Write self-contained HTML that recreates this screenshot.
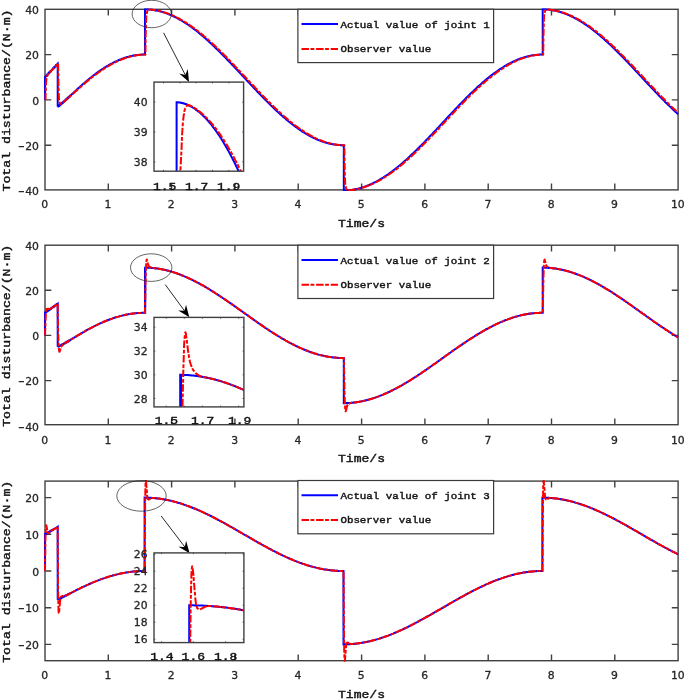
<!DOCTYPE html>
<html lang="en"><head><meta charset="utf-8"><title>Total disturbance</title>
<style>
html,body{margin:0;padding:0;background:#fff}
svg{display:block}
.tk{font-family:"DejaVu Sans","Liberation Sans",sans-serif;font-size:10.8px;fill:#262626;stroke:#262626;stroke-width:0.3px}
.mn{font-size:7.4px;stroke-width:0.6px}
.mono{font-family:"Liberation Mono",monospace;font-weight:normal;fill:#111;stroke:#111;stroke-width:0.45px}
.ax{stroke:#404040;stroke-width:1.4;fill:none}
.b{stroke:#0000ff;stroke-width:2;fill:none;stroke-linejoin:miter}
.r{stroke:#ff0000;stroke-width:2;fill:none;stroke-dasharray:7.5 1.5 3.8 1.8;stroke-linejoin:round}
</style></head><body>
<svg width="685" height="700" viewBox="0 0 685 700">
<rect width="685" height="700" fill="#fff"/>
<g id="s1">
<clipPath id="cs1"><rect x="43.5" y="8.3" width="636.1" height="182.6"/></clipPath>
<clipPath id="is1"><rect x="154.0" y="82.1" width="89.6" height="89.1"/></clipPath>
<rect class="ax" x="45.0" y="9.3" width="633.1" height="180.6"/>
<path class="ax" d="M108.3 189.9v-6.3M108.3 9.3v6.3M171.6 189.9v-6.3M171.6 9.3v6.3M234.9 189.9v-6.3M234.9 9.3v6.3M298.2 189.9v-6.3M298.2 9.3v6.3M361.6 189.9v-6.3M361.6 9.3v6.3M424.9 189.9v-6.3M424.9 9.3v6.3M488.2 189.9v-6.3M488.2 9.3v6.3M551.5 189.9v-6.3M551.5 9.3v6.3M614.8 189.9v-6.3M614.8 9.3v6.3M45.0 54.6h6.3M678.1 54.6h-6.3M45.0 99.9h6.3M678.1 99.9h-6.3M45.0 145.2h6.3M678.1 145.2h-6.3"/>
<text class="tk" x="44.7" y="208.2" text-anchor="middle">0</text>
<text class="tk" x="108.0" y="208.2" text-anchor="middle">1</text>
<text class="tk" x="171.3" y="208.2" text-anchor="middle">2</text>
<text class="tk" x="234.6" y="208.2" text-anchor="middle">3</text>
<text class="tk" x="297.9" y="208.2" text-anchor="middle">4</text>
<text class="tk" x="361.2" y="208.2" text-anchor="middle">5</text>
<text class="tk" x="424.6" y="208.2" text-anchor="middle">6</text>
<text class="tk" x="487.9" y="208.2" text-anchor="middle">7</text>
<text class="tk" x="551.2" y="208.2" text-anchor="middle">8</text>
<text class="tk" x="614.5" y="208.2" text-anchor="middle">9</text>
<text class="tk" x="677.8" y="208.2" text-anchor="middle">10</text>
<text class="tk" x="39.0" y="14.0" text-anchor="end">40</text>
<text class="tk" x="39.0" y="59.3" text-anchor="end">20</text>
<text class="tk" x="39.0" y="104.6" text-anchor="end">0</text>
<text class="tk" x="39.0" y="149.9" text-anchor="end"><tspan class="mn" dy="-1.0">−</tspan><tspan dy="1.0" dx="0.9">20</tspan></text>
<text class="tk" x="39.0" y="195.2" text-anchor="end"><tspan class="mn" dy="-1.0">−</tspan><tspan dy="1.0" dx="0.9">40</tspan></text>
<text class="mono" font-size="13.1" text-anchor="middle" transform="translate(361.5 226.9) scale(1 0.88)">Time/s</text>
<text class="mono" font-size="13.2" text-anchor="middle" transform="translate(10.4 100.5) rotate(-90) scale(1 0.88)">Total disturbance/(N·m)</text>
<g clip-path="url(#cs1)">
<path class="b" d="M45.0 99.9L45.0 77.2L45.1 77.2L45.1 77.1L45.2 77.0L45.3 77.0L45.3 76.9L45.4 76.8L45.5 76.7L45.6 76.6L45.7 76.5L45.8 76.4L45.9 76.3L45.9 76.2L46.0 76.2L46.1 76.1L46.1 76.0L46.2 75.9L46.3 75.9L46.3 75.8L46.4 75.7L46.5 75.7L46.5 75.6L46.6 75.5L46.7 75.4L46.8 75.3L46.9 75.2L47.0 75.1L47.1 75.0L47.2 74.9L47.3 74.8L47.3 74.7L47.4 74.7L47.5 74.6L47.5 74.5L47.6 74.5L47.7 74.4L47.7 74.3L47.8 74.2L47.9 74.1L48.0 74.0L48.1 73.9L48.2 73.8L48.3 73.7L48.4 73.6L48.5 73.5L48.5 73.4L48.6 73.4L48.7 73.3L48.7 73.2L48.8 73.2L48.9 73.1L48.9 73.0L49.0 73.0L49.1 72.9L49.1 72.8L49.2 72.8L49.2 72.7L49.3 72.6L49.4 72.6L49.4 72.5L49.5 72.4L49.6 72.3L49.7 72.2L49.7 72.1L49.8 72.1L49.9 72.0L49.9 71.9L50.0 71.9L50.1 71.8L50.1 71.7L50.2 71.7L50.3 71.6L50.3 71.5L50.4 71.5L50.4 71.4L50.5 71.3L50.6 71.3L50.6 71.2L50.7 71.1L50.8 71.1L50.8 71.0L50.9 70.9L51.0 70.9L51.0 70.8L51.1 70.7L51.2 70.6L51.3 70.5L51.4 70.4L51.5 70.3L51.6 70.2L51.6 70.1L51.7 70.0L51.8 70.0L51.8 69.9L51.9 69.8L52.0 69.8L52.0 69.7L52.1 69.6L52.2 69.6L52.2 69.5L52.3 69.4L52.4 69.3L52.5 69.2L52.6 69.1L52.7 69.0L52.8 68.9L52.9 68.8L53.0 68.7L53.0 68.6L53.1 68.6L53.2 68.5L53.2 68.4L53.3 68.4L53.4 68.3L53.4 68.2L53.5 68.2L53.5 68.1L53.6 68.0L53.7 68.0L53.7 67.9L53.8 67.8L53.9 67.8L53.9 67.7L54.0 67.6L54.1 67.6L54.1 67.5L54.2 67.4L54.3 67.3L54.4 67.2L54.4 67.1L54.5 67.1L54.6 67.0L54.6 66.9L54.7 66.9L54.7 66.8L54.8 66.7L54.9 66.7L54.9 66.6L55.0 66.5L55.1 66.5L55.1 66.4L55.2 66.3L55.3 66.3L55.3 66.2L55.4 66.1L55.5 66.0L55.6 65.9L55.7 65.8L55.8 65.7L55.9 65.6L56.0 65.5L56.1 65.4L56.1 65.3L56.2 65.3L56.3 65.2L56.3 65.1L56.4 65.1L56.5 65.0L56.5 64.9L56.6 64.9L56.6 64.8L56.7 64.7L56.8 64.7L56.8 64.6L56.9 64.5L57.0 64.5L57.0 64.4L57.1 64.3L57.2 64.3L57.2 64.2L57.3 64.1L57.4 64.0L57.5 63.9L57.6 63.8L57.7 63.7L57.7 106.8L57.7 106.7L57.8 106.7L57.9 106.6L58.0 106.5L58.1 106.5L58.2 106.4L58.3 106.3L58.4 106.3L58.4 106.2L58.5 106.2L58.5 106.1L58.6 106.1L58.7 106.0L58.8 105.9L58.9 105.9L58.9 105.8L59.0 105.8L59.1 105.7L59.2 105.6L59.3 105.5L59.4 105.5L59.4 105.4L59.5 105.3L59.6 105.3L59.6 105.2L59.7 105.2L59.8 105.1L59.9 105.0L60.0 104.9L60.1 104.9L60.1 104.8L60.2 104.8L60.3 104.7L60.4 104.6L60.5 104.5L60.6 104.5L60.6 104.4L60.7 104.4L60.8 104.3L60.8 104.2L60.9 104.2L61.0 104.1L61.1 104.0L61.2 103.9L61.3 103.9L61.3 103.8L61.4 103.8L61.5 103.7L61.6 103.6L61.7 103.5L61.8 103.4L61.9 103.3L62.0 103.3L62.0 103.2L62.1 103.2L62.2 103.1L62.3 103.0L62.3 102.9L62.4 102.9L62.5 102.8L62.6 102.7L62.7 102.7L62.7 102.6L62.8 102.6L62.9 102.5L62.9 102.4L63.0 102.4L63.0 102.3L63.1 102.3L63.2 102.2L63.3 102.1L63.4 102.1L63.4 102.0L63.5 101.9L63.6 101.8L63.7 101.8L63.7 101.7L63.8 101.7L63.9 101.6L63.9 101.5L64.0 101.5L64.1 101.4L64.2 101.3L64.3 101.2L64.4 101.1L64.5 101.0L64.6 101.0L64.6 100.9L64.7 100.9L64.8 100.8L64.8 100.7L64.9 100.7L64.9 100.6L65.0 100.6L65.1 100.5L65.2 100.4L65.3 100.3L65.4 100.2L65.5 100.1L65.6 100.1L65.6 100.0L65.7 99.9L65.8 99.9L65.8 99.8L65.9 99.8L66.0 99.7L66.0 99.6L66.1 99.6L66.1 99.5L66.2 99.5L66.3 99.4L66.4 99.3L66.5 99.2L66.6 99.1L66.7 99.1L66.7 99.0L66.8 99.0L66.8 98.9L66.9 98.8L67.0 98.8L67.0 98.7L67.1 98.7L67.2 98.6L67.2 98.5L67.3 98.5L67.3 98.4L67.4 98.4L67.5 98.3L67.5 98.2L67.6 98.2L67.7 98.1L67.8 98.0L67.9 98.0L67.9 97.9L68.0 97.8L68.1 97.7L68.2 97.7L68.2 97.6L68.3 97.5L68.4 97.5L68.4 97.4L68.5 97.4L68.6 97.3L68.7 97.2L68.7 97.1L68.8 97.1L68.9 97.0L69.0 96.9L69.1 96.8L69.2 96.7L69.3 96.6L69.4 96.5L69.5 96.4L69.6 96.4L69.6 96.3L69.7 96.2L69.8 96.2L69.8 96.1L69.9 96.1L69.9 96.0L70.0 96.0L70.1 95.9L70.1 95.8L70.2 95.8L70.3 95.7L71.6 94.5L72.9 93.3L74.1 92.1L75.4 90.9L76.7 89.8L77.9 88.6L79.2 87.5L80.5 86.3L81.7 85.2L83.0 84.1L84.3 83.0L85.5 81.9L86.8 80.8L88.1 79.8L89.3 78.7L90.6 77.7L91.8 76.7L93.1 75.7L94.4 74.7L95.6 73.8L96.9 72.8L98.2 71.9L99.4 71.0L100.7 70.2L102.0 69.3L103.2 68.5L104.5 67.7L105.8 66.9L107.0 66.1L108.3 65.4L109.6 64.6L110.8 63.9L112.1 63.3L113.4 62.6L114.6 62.0L115.9 61.4L117.2 60.8L118.4 60.2L119.7 59.7L121.0 59.2L122.2 58.7L123.5 58.3L124.8 57.8L125.5 57.6L125.8 57.5L126.0 57.4L126.1 57.4L126.4 57.3L126.7 57.2L127.0 57.1L127.3 57.1L127.4 57.0L127.7 57.0L128.0 56.9L128.3 56.8L128.6 56.7L128.9 56.6L129.3 56.5L129.6 56.4L129.8 56.4L129.9 56.4L130.2 56.3L130.5 56.2L130.8 56.1L131.1 56.1L131.2 56.1L131.5 56.0L131.8 55.9L132.1 55.9L132.4 55.8L132.7 55.7L133.1 55.7L133.4 55.6L133.6 55.6L133.7 55.6L134.0 55.5L134.3 55.4L134.6 55.4L134.9 55.4L135.0 55.3L135.3 55.3L135.6 55.2L135.9 55.2L136.2 55.2L136.5 55.1L136.8 55.1L137.2 55.0L137.4 55.0L137.5 55.0L137.8 55.0L138.1 54.9L138.4 54.9L138.7 54.9L139.1 54.8L139.4 54.8L139.7 54.8L140.0 54.8L140.0 54.7L140.3 54.7L140.6 54.7L141.0 54.7L141.2 54.7L141.3 54.7L141.6 54.6L141.9 54.6L142.2 54.6L142.5 54.6L142.9 54.6L143.2 54.6L143.5 54.6L143.8 54.6L144.1 54.6L144.4 54.6L144.5 54.6L144.6 54.6L144.7 54.6L144.8 54.6L144.9 54.6L145.0 54.6L145.0 9.3L145.1 9.3L145.2 9.3L145.3 9.3L145.4 9.3L145.5 9.3L145.6 9.3L145.7 9.3L145.8 9.3L145.9 9.3L146.0 9.3L146.1 9.3L146.2 9.3L146.3 9.3L146.4 9.3L146.5 9.3L146.6 9.3L146.7 9.3L146.8 9.3L146.9 9.3L147.0 9.3L147.1 9.3L147.2 9.3L147.3 9.3L147.4 9.3L147.5 9.3L147.6 9.3L147.7 9.3L147.7 9.4L147.8 9.4L147.9 9.4L148.0 9.4L148.1 9.4L148.2 9.4L148.3 9.4L148.4 9.4L148.5 9.4L148.6 9.4L148.7 9.4L148.8 9.4L148.9 9.4L149.0 9.4L149.1 9.4L149.2 9.5L149.3 9.5L149.4 9.5L149.5 9.5L149.6 9.5L149.7 9.5L149.8 9.5L149.9 9.5L150.0 9.5L150.1 9.5L150.2 9.5L150.3 9.5L150.3 9.6L150.4 9.6L150.5 9.6L150.6 9.6L150.7 9.6L150.8 9.6L150.9 9.6L151.0 9.6L151.1 9.6L151.2 9.6L151.3 9.7L151.4 9.7L151.5 9.7L151.6 9.7L151.7 9.7L151.8 9.7L151.9 9.7L152.0 9.7L152.1 9.8L152.2 9.8L152.3 9.8L152.4 9.8L152.5 9.8L152.6 9.8L152.7 9.8L152.8 9.9L152.9 9.9L153.0 9.9L153.1 9.9L153.2 9.9L153.3 9.9L153.4 9.9L153.5 10.0L153.6 10.0L153.7 10.0L153.8 10.0L153.9 10.0L154.0 10.0L154.1 10.0L154.1 10.1L154.2 10.1L154.3 10.1L154.4 10.1L154.5 10.1L154.6 10.1L154.7 10.2L154.8 10.2L154.9 10.2L155.0 10.2L155.1 10.2L155.2 10.2L155.3 10.3L155.4 10.3L155.5 10.3L155.6 10.3L155.7 10.3L155.8 10.3L155.8 10.4L155.9 10.4L156.0 10.4L156.1 10.4L156.2 10.4L156.3 10.4L156.3 10.5L156.4 10.5L156.5 10.5L156.6 10.5L156.7 10.5L156.8 10.5L156.9 10.6L157.0 10.6L157.1 10.6L157.4 10.7L157.7 10.7L157.7 10.8L158.1 10.8L158.4 10.9L158.7 11.0L159.0 11.0L159.0 11.1L159.3 11.1L159.6 11.2L160.0 11.3L160.2 11.4L160.3 11.4L160.6 11.5L160.9 11.5L161.2 11.6L161.5 11.7L161.9 11.8L162.2 11.9L162.5 12.0L162.8 12.1L163.1 12.2L163.4 12.3L163.8 12.4L164.0 12.5L164.1 12.5L164.4 12.6L164.7 12.7L165.0 12.8L165.3 12.9L165.7 13.0L166.0 13.2L166.3 13.3L166.6 13.4L166.9 13.5L167.2 13.6L167.6 13.7L167.8 13.8L167.9 13.9L168.2 14.0L168.5 14.1L168.8 14.2L169.1 14.3L169.1 14.4L169.5 14.5L169.8 14.6L170.1 14.8L170.4 14.9L170.7 15.0L171.0 15.2L171.4 15.3L171.6 15.4L171.7 15.4L172.0 15.6L172.3 15.7L172.6 15.9L172.9 16.0L173.3 16.2L173.6 16.3L173.9 16.5L174.2 16.6L174.5 16.8L174.8 16.9L175.2 17.1L175.4 17.2L175.5 17.3L175.8 17.4L176.7 17.9L178.0 18.6L179.2 19.3L180.5 20.0L181.7 20.7L183.0 21.5L184.3 22.3L185.5 23.1L186.8 23.9L188.1 24.8L189.3 25.7L190.6 26.5L191.9 27.5L193.1 28.4L194.4 29.4L195.7 30.3L196.9 31.3L198.2 32.3L199.5 33.4L200.7 34.4L202.0 35.5L203.3 36.6L204.5 37.7L205.8 38.8L207.1 39.9L208.3 41.0L209.6 42.2L210.9 43.4L212.1 44.6L213.4 45.8L214.7 47.0L215.9 48.2L217.2 49.4L218.5 50.7L219.7 51.9L221.0 53.2L222.3 54.5L223.5 55.8L224.8 57.0L226.1 58.3L227.3 59.7L228.6 61.0L229.9 62.3L231.1 63.6L232.4 65.0L233.7 66.3L234.9 67.6L236.2 69.0L237.5 70.3L238.7 71.7L240.0 73.1L241.3 74.4L242.5 75.8L243.8 77.1L245.1 78.5L246.3 79.9L247.6 81.2L248.9 82.6L250.1 83.9L251.4 85.3L252.7 86.6L253.9 88.0L255.2 89.3L256.5 90.6L257.7 92.0L259.0 93.3L260.3 94.6L261.5 95.9L262.8 97.2L264.1 98.5L265.3 99.8L266.6 101.1L267.9 102.4L269.1 103.6L270.4 104.9L271.6 106.1L272.9 107.3L274.2 108.5L275.4 109.7L276.7 110.9L278.0 112.1L279.2 113.3L280.5 114.4L281.8 115.5L283.0 116.7L284.3 117.8L285.6 118.8L286.8 119.9L288.1 121.0L289.4 122.0L290.6 123.0L291.9 124.0L293.2 125.0L294.4 125.9L295.7 126.9L297.0 127.8L298.2 128.7L299.5 129.6L300.8 130.4L302.0 131.3L303.3 132.1L304.6 132.9L305.8 133.6L307.1 134.4L308.4 135.1L309.6 135.8L310.9 136.5L312.2 137.1L313.4 137.8L314.7 138.4L316.0 139.0L317.2 139.5L318.5 140.1L319.8 140.6L321.0 141.0L322.3 141.5L323.6 141.9L324.3 142.2L324.7 142.3L324.8 142.3L325.0 142.4L325.3 142.5L325.6 142.6L325.9 142.7L326.1 142.7L326.2 142.8L326.6 142.8L326.9 142.9L327.2 143.0L327.4 143.1L327.5 143.1L327.8 143.2L328.1 143.3L328.5 143.4L328.6 143.4L328.8 143.4L329.1 143.5L329.4 143.6L329.7 143.7L329.9 143.7L330.0 143.7L330.4 143.8L330.7 143.9L331.0 143.9L331.2 144.0L331.3 144.0L331.6 144.1L331.9 144.1L332.3 144.2L332.4 144.2L332.6 144.2L332.9 144.3L333.2 144.4L333.5 144.4L333.7 144.4L333.8 144.5L334.2 144.5L334.5 144.6L334.8 144.6L335.0 144.6L335.1 144.6L335.4 144.7L335.7 144.7L336.1 144.8L336.2 144.8L336.4 144.8L336.7 144.8L337.0 144.9L337.3 144.9L337.5 144.9L337.6 144.9L338.0 145.0L338.3 145.0L338.6 145.0L338.8 145.0L338.9 145.1L339.2 145.1L339.5 145.1L339.9 145.1L340.0 145.1L340.2 145.1L340.5 145.2L340.8 145.2L341.1 145.2L341.3 145.2L341.4 145.2L341.8 145.2L342.1 145.2L342.4 145.2L342.6 145.2L342.7 145.2L343.0 145.2L343.3 145.2L343.4 145.2L343.5 145.2L343.6 145.2L343.7 145.2L343.8 145.2L343.8 190.5L343.9 190.5L344.0 190.5L344.1 190.5L344.2 190.5L344.3 190.5L344.4 190.5L344.5 190.5L344.6 190.5L344.7 190.5L344.8 190.5L344.9 190.5L345.0 190.5L345.1 190.5L345.2 190.5L345.3 190.5L345.4 190.5L345.5 190.5L345.6 190.5L345.7 190.5L345.8 190.5L345.9 190.5L346.0 190.5L346.1 190.5L346.2 190.5L346.3 190.5L346.4 190.5L346.5 190.5L346.6 190.5L346.6 190.4L346.7 190.4L346.8 190.4L346.9 190.4L347.0 190.4L347.1 190.4L347.2 190.4L347.3 190.4L347.4 190.4L347.5 190.4L347.6 190.4L347.7 190.4L347.8 190.4L347.9 190.4L348.0 190.4L348.1 190.3L348.2 190.3L348.3 190.3L348.4 190.3L348.5 190.3L348.6 190.3L348.7 190.3L348.8 190.3L348.9 190.3L349.0 190.3L349.1 190.3L349.2 190.3L349.2 190.2L349.3 190.2L349.4 190.2L349.5 190.2L349.6 190.2L349.7 190.2L349.8 190.2L349.9 190.2L350.0 190.2L350.1 190.2L350.2 190.1L350.3 190.1L350.4 190.1L350.5 190.1L350.6 190.1L350.7 190.1L350.8 190.1L350.9 190.1L351.0 190.0L351.1 190.0L351.2 190.0L351.3 190.0L351.4 190.0L351.5 190.0L351.6 190.0L351.7 189.9L351.8 189.9L351.9 189.9L352.0 189.9L352.1 189.9L352.2 189.9L352.3 189.9L352.4 189.8L352.5 189.8L352.6 189.8L352.7 189.8L352.8 189.8L352.9 189.8L353.0 189.8L353.0 189.7L353.1 189.7L353.2 189.7L353.3 189.7L353.4 189.7L353.5 189.7L353.6 189.6L353.7 189.6L353.8 189.6L353.9 189.6L354.0 189.6L354.1 189.6L354.2 189.5L354.3 189.5L354.4 189.5L354.5 189.5L354.6 189.5L354.7 189.5L354.7 189.4L354.8 189.4L354.9 189.4L355.0 189.4L355.1 189.4L355.2 189.4L355.2 189.3L355.3 189.3L355.4 189.3L355.5 189.3L355.6 189.3L355.7 189.3L355.8 189.2L355.9 189.2L356.0 189.2L356.3 189.1L356.5 189.1L356.6 189.0L357.0 189.0L357.3 188.9L357.6 188.8L357.8 188.8L357.9 188.7L358.2 188.7L358.5 188.6L358.9 188.5L359.0 188.5L359.2 188.4L359.5 188.3L359.8 188.3L360.1 188.2L360.3 188.1L360.4 188.1L360.8 188.0L361.1 187.9L361.4 187.8L361.6 187.7L361.7 187.7L362.0 187.6L362.3 187.5L362.7 187.4L362.8 187.3L363.0 187.3L363.3 187.2L363.6 187.1L363.9 187.0L364.1 186.9L364.2 186.9L364.6 186.8L364.9 186.6L365.2 186.5L365.3 186.5L365.5 186.4L365.8 186.3L366.1 186.2L366.4 186.1L366.6 186.0L366.8 185.9L367.1 185.8L367.4 185.7L367.7 185.6L367.9 185.5L368.0 185.4L368.3 185.3L368.7 185.2L369.0 185.0L369.1 185.0L369.3 184.9L369.6 184.8L369.9 184.6L370.2 184.5L370.4 184.4L370.6 184.4L370.9 184.2L371.2 184.1L371.5 183.9L371.7 183.8L371.8 183.8L372.1 183.6L372.5 183.5L372.8 183.3L372.9 183.2L373.1 183.2L373.4 183.0L373.7 182.9L374.0 182.7L374.2 182.6L374.4 182.5L374.7 182.4L375.5 182.0L376.7 181.3L378.0 180.6L379.3 179.9L380.5 179.1L381.8 178.4L383.1 177.6L384.3 176.8L385.6 175.9L386.9 175.1L388.1 174.2L389.4 173.3L390.7 172.4L391.9 171.5L393.2 170.5L394.5 169.5L395.7 168.6L397.0 167.5L398.3 166.5L399.5 165.5L400.8 164.4L402.1 163.3L403.3 162.2L404.6 161.1L405.9 160.0L407.1 158.9L408.4 157.7L409.7 156.5L410.9 155.3L412.2 154.1L413.5 152.9L414.7 151.7L416.0 150.5L417.3 149.2L418.5 148.0L419.8 146.7L421.1 145.4L422.3 144.1L423.6 142.9L424.9 141.6L426.1 140.2L427.4 138.9L428.7 137.6L429.9 136.3L431.2 134.9L432.5 133.6L433.7 132.3L435.0 130.9L436.3 129.6L437.5 128.2L438.8 126.9L440.1 125.5L441.3 124.1L442.6 122.8L443.9 121.4L445.1 120.1L446.4 118.7L447.7 117.3L448.9 116.0L450.2 114.6L451.5 113.3L452.7 111.9L454.0 110.6L455.2 109.3L456.5 107.9L457.8 106.6L459.0 105.3L460.3 104.0L461.6 102.7L462.8 101.4L464.1 100.1L465.4 98.8L466.6 97.5L467.9 96.3L469.2 95.0L470.4 93.8L471.7 92.6L473.0 91.4L474.2 90.2L475.5 89.0L476.8 87.8L478.0 86.6L479.3 85.5L480.6 84.4L481.8 83.2L483.1 82.1L484.4 81.1L485.6 80.0L486.9 78.9L488.2 77.9L489.4 76.9L490.7 75.9L492.0 74.9L493.2 73.9L494.5 73.0L495.8 72.1L497.0 71.2L498.3 70.3L499.6 69.4L500.8 68.6L502.1 67.8L503.4 67.0L504.6 66.2L505.9 65.5L507.2 64.7L508.4 64.0L509.7 63.4L511.0 62.7L512.2 62.1L513.5 61.5L514.8 60.9L516.0 60.3L517.3 59.8L518.6 59.3L519.8 58.8L521.1 58.3L522.4 57.9L523.2 57.6L523.6 57.5L523.9 57.4L524.2 57.3L524.5 57.2L524.8 57.1L524.9 57.1L525.1 57.0L525.5 57.0L525.8 56.9L526.1 56.8L526.2 56.8L526.4 56.7L526.7 56.6L527.0 56.5L527.4 56.4L527.7 56.4L528.0 56.3L528.3 56.2L528.6 56.1L528.7 56.1L528.9 56.1L529.3 56.0L529.6 55.9L529.9 55.9L530.0 55.9L530.2 55.8L530.5 55.7L530.8 55.7L531.2 55.6L531.5 55.6L531.8 55.5L532.1 55.4L532.4 55.4L532.5 55.4L532.7 55.3L533.1 55.3L533.4 55.2L533.7 55.2L533.8 55.2L534.0 55.2L534.3 55.1L534.6 55.1L535.0 55.0L535.3 55.0L535.6 55.0L535.9 54.9L536.2 54.9L536.3 54.9L536.5 54.9L536.9 54.8L537.2 54.8L537.5 54.8L537.6 54.8L537.8 54.7L538.1 54.7L538.4 54.7L538.8 54.7L539.1 54.7L539.4 54.6L539.7 54.6L540.0 54.6L540.1 54.6L540.3 54.6L540.7 54.6L541.0 54.6L541.3 54.6L541.4 54.6L541.6 54.6L541.9 54.6L542.2 54.6L542.3 54.6L542.4 54.6L542.5 54.6L542.6 54.6L542.7 54.6L542.7 9.3L542.8 9.3L542.9 9.3L543.0 9.3L543.1 9.3L543.2 9.3L543.3 9.3L543.4 9.3L543.5 9.3L543.6 9.3L543.7 9.3L543.8 9.3L543.9 9.3L544.0 9.3L544.1 9.3L544.2 9.3L544.3 9.3L544.4 9.3L544.5 9.3L544.6 9.3L544.7 9.3L544.8 9.3L544.9 9.3L545.0 9.3L545.1 9.3L545.2 9.3L545.3 9.3L545.4 9.3L545.5 9.3L545.5 9.4L545.6 9.4L545.7 9.4L545.8 9.4L545.9 9.4L546.0 9.4L546.1 9.4L546.2 9.4L546.3 9.4L546.4 9.4L546.5 9.4L546.6 9.4L546.7 9.4L546.8 9.4L546.9 9.4L547.0 9.5L547.1 9.5L547.2 9.5L547.3 9.5L547.4 9.5L547.5 9.5L547.6 9.5L547.7 9.5L547.8 9.5L547.9 9.5L548.0 9.5L548.1 9.5L548.1 9.6L548.2 9.6L548.3 9.6L548.4 9.6L548.5 9.6L548.6 9.6L548.7 9.6L548.8 9.6L548.9 9.6L549.0 9.6L549.1 9.7L549.2 9.7L549.3 9.7L549.4 9.7L549.5 9.7L549.6 9.7L549.7 9.7L549.8 9.7L549.9 9.8L550.0 9.8L550.1 9.8L550.2 9.8L550.3 9.8L550.4 9.8L550.5 9.8L550.6 9.9L550.7 9.9L550.8 9.9L550.9 9.9L551.0 9.9L551.1 9.9L551.2 9.9L551.3 10.0L551.4 10.0L551.5 10.0L551.6 10.0L551.7 10.0L551.8 10.0L551.9 10.0L551.9 10.1L552.0 10.1L552.1 10.1L552.2 10.1L552.3 10.1L552.4 10.1L552.5 10.2L552.6 10.2L552.7 10.2L552.8 10.2L552.9 10.2L553.0 10.2L553.1 10.3L553.2 10.3L553.3 10.3L553.4 10.3L553.5 10.3L553.6 10.3L553.6 10.4L553.7 10.4L553.8 10.4L553.9 10.4L554.0 10.4L554.1 10.4L554.1 10.5L554.2 10.5L554.3 10.5L554.4 10.5L554.5 10.5L554.6 10.5L554.6 10.6L554.7 10.6L554.8 10.6L554.9 10.6L555.2 10.7L555.3 10.7L555.5 10.8L555.8 10.8L556.2 10.9L556.5 11.0L556.8 11.1L557.1 11.1L557.4 11.2L557.7 11.3L557.8 11.3L558.1 11.4L558.4 11.5L558.7 11.5L559.0 11.6L559.1 11.7L559.3 11.7L559.6 11.8L560.0 11.9L560.3 12.0L560.6 12.1L560.9 12.2L561.2 12.3L561.5 12.4L561.6 12.4L561.9 12.5L562.2 12.6L562.5 12.7L562.8 12.8L562.9 12.8L563.1 12.9L563.4 13.0L563.8 13.2L564.1 13.3L564.4 13.4L564.7 13.5L565.0 13.6L565.3 13.7L565.4 13.8L565.7 13.9L566.0 14.0L566.3 14.1L566.6 14.2L566.7 14.3L566.9 14.4L567.2 14.5L567.6 14.6L567.9 14.8L568.2 14.9L568.5 15.0L568.8 15.2L569.1 15.3L569.2 15.3L569.5 15.4L569.8 15.6L570.1 15.7L570.4 15.9L570.5 15.9L570.7 16.0L571.0 16.2L571.4 16.3L571.7 16.5L572.0 16.6L572.3 16.8L572.6 16.9L572.9 17.1L573.0 17.1L573.3 17.3L573.6 17.4L574.3 17.8L575.5 18.5L576.8 19.1L578.1 19.9L579.3 20.6L580.6 21.4L581.9 22.2L583.1 23.0L584.4 23.8L585.7 24.6L586.9 25.5L588.2 26.4L589.5 27.3L590.7 28.2L592.0 29.2L593.3 30.2L594.5 31.2L595.8 32.2L597.1 33.2L598.3 34.2L599.6 35.3L600.9 36.4L602.1 37.5L603.4 38.6L604.7 39.7L605.9 40.9L607.2 42.0L608.5 43.2L609.7 44.4L611.0 45.6L612.3 46.8L613.5 48.0L614.8 49.2L616.1 50.5L617.3 51.7L618.6 53.0L619.9 54.3L621.1 55.5L622.4 56.8L623.7 58.1L624.9 59.4L626.2 60.8L627.5 62.1L628.7 63.4L630.0 64.8L631.3 66.1L632.5 67.4L633.8 68.8L635.0 70.1L636.3 71.5L637.6 72.8L638.8 74.2L640.1 75.6L641.4 76.9L642.6 78.3L643.9 79.6L645.2 81.0L646.4 82.3L647.7 83.7L649.0 85.1L650.2 86.4L651.5 87.7L652.8 89.1L654.0 90.4L655.3 91.8L656.6 93.1L657.8 94.4L659.1 95.7L660.4 97.0L661.6 98.3L662.9 99.6L664.2 100.9L665.4 102.2L666.7 103.4L668.0 104.7L669.2 105.9L670.5 107.1L671.8 108.3L673.0 109.5L674.3 110.7L675.6 111.9L676.8 113.1L678.1 114.2"/>
<path class="r" d="M45.0 99.9L45.1 99.8L45.2 99.7L45.3 99.6L45.4 99.5L45.4 99.4L45.5 99.4L45.6 96.6L45.6 93.9L45.7 91.5L45.8 89.4L45.8 87.7L45.9 86.3L45.9 85.0L46.0 83.8L46.1 82.8L46.1 81.9L46.2 81.1L46.3 80.4L46.3 79.7L46.4 79.1L46.5 78.7L46.5 78.3L46.6 78.1L46.6 77.9L46.7 77.7L46.8 77.5L46.8 77.4L46.9 77.2L47.0 77.0L47.0 76.7L47.1 76.5L47.2 76.3L47.2 76.1L47.3 75.9L47.3 75.8L47.4 75.6L47.5 75.5L47.5 75.4L47.6 75.2L47.7 75.1L47.7 75.0L47.8 74.9L47.8 74.8L47.9 74.7L48.0 74.6L48.0 74.5L48.1 74.4L48.2 74.3L48.2 74.2L48.3 74.1L48.4 74.0L48.4 73.9L48.5 73.8L48.6 73.7L48.7 73.6L48.7 73.5L48.8 73.5L48.9 73.4L48.9 73.3L49.0 73.2L49.1 73.2L49.1 73.1L49.2 73.0L49.2 72.9L49.3 72.9L49.4 72.8L49.4 72.7L49.5 72.7L49.6 72.6L49.6 72.5L49.7 72.4L49.8 72.3L49.9 72.3L49.9 72.2L50.0 72.1L50.1 72.1L50.1 72.0L50.2 71.9L50.3 71.9L50.3 71.8L50.4 71.7L50.5 71.6L50.6 71.5L50.7 71.4L50.8 71.3L50.9 71.2L51.0 71.1L51.1 71.0L51.2 70.9L51.3 70.8L51.4 70.7L51.5 70.6L51.6 70.5L51.6 70.4L51.7 70.4L51.8 70.3L51.8 70.2L51.9 70.2L52.0 70.1L52.0 70.0L52.1 70.0L52.2 69.9L52.3 69.8L52.3 69.7L52.4 69.7L52.5 69.6L52.5 69.5L52.6 69.5L52.7 69.4L52.7 69.3L52.8 69.3L52.9 69.2L52.9 69.1L53.0 69.1L53.0 69.0L53.1 68.9L53.2 68.9L53.2 68.8L53.3 68.7L53.4 68.7L53.4 68.6L53.5 68.6L53.5 68.5L53.6 68.4L53.7 68.4L53.7 68.3L53.8 68.2L53.9 68.2L53.9 68.1L54.0 68.0L54.1 68.0L54.1 67.9L54.2 67.8L54.3 67.7L54.4 67.6L54.5 67.5L54.6 67.5L54.6 67.4L54.7 67.3L54.8 67.2L54.9 67.1L55.0 67.0L55.1 66.9L55.2 66.8L55.3 66.7L55.4 66.6L55.4 66.5L55.5 66.5L55.6 66.4L55.7 66.3L55.8 66.2L55.9 66.1L56.0 66.0L56.1 65.9L56.1 65.8L56.2 65.8L56.3 65.7L56.3 65.6L56.4 65.6L56.5 65.5L56.5 65.4L56.6 65.4L56.6 65.3L56.7 65.3L56.8 65.2L56.8 65.1L56.9 65.1L57.0 65.0L57.0 64.9L57.1 64.9L57.2 64.8L57.2 64.7L57.3 64.7L57.3 64.6L57.4 64.5L57.5 64.5L57.5 64.4L57.6 64.3L57.7 64.3L57.7 63.7L57.8 63.6L57.9 63.6L58.0 63.5L58.1 63.4L58.2 63.4L58.2 68.6L58.3 73.4L58.4 77.8L58.4 81.6L58.5 84.7L58.5 87.2L58.6 89.5L58.7 91.6L58.7 93.4L58.8 94.9L58.9 96.2L58.9 97.4L59.0 98.5L59.1 99.5L59.1 100.2L59.2 100.7L59.2 101.0L59.3 101.2L59.4 101.4L59.4 101.5L59.5 101.7L59.6 101.8L59.6 102.1L59.7 102.3L59.8 102.6L59.8 102.8L59.9 103.0L59.9 103.1L60.0 103.3L60.1 103.4L60.1 103.5L60.2 103.6L60.3 103.6L60.3 103.7L60.4 103.7L60.4 103.8L60.5 103.8L60.6 103.8L60.6 103.9L60.7 103.9L60.8 103.9L60.9 103.9L61.0 103.9L61.1 103.9L61.2 103.8L61.3 103.8L61.4 103.7L61.5 103.7L61.6 103.6L61.7 103.6L61.8 103.5L61.9 103.5L62.0 103.4L62.1 103.3L62.2 103.3L62.3 103.2L62.4 103.1L62.5 103.1L62.5 103.0L62.6 103.0L62.7 102.9L62.8 102.8L62.9 102.7L63.0 102.6L63.1 102.5L63.2 102.5L63.2 102.4L63.3 102.4L63.4 102.3L63.5 102.2L63.6 102.1L63.7 102.1L63.7 102.0L63.8 101.9L63.9 101.9L63.9 101.8L64.0 101.8L64.1 101.7L64.2 101.6L64.3 101.5L64.4 101.5L64.4 101.4L64.5 101.3L64.6 101.3L64.6 101.2L64.7 101.2L64.8 101.1L64.9 101.0L65.0 100.9L65.1 100.9L65.1 100.8L65.2 100.7L65.3 100.7L65.3 100.6L65.4 100.6L65.4 100.5L65.5 100.5L65.6 100.4L65.7 100.3L65.8 100.2L65.9 100.1L66.0 100.1L66.0 100.0L66.1 100.0L66.1 99.9L66.2 99.9L66.3 99.8L66.3 99.7L66.4 99.7L66.5 99.6L66.6 99.5L66.7 99.5L66.7 99.4L66.8 99.4L66.8 99.3L66.9 99.2L67.0 99.2L67.0 99.1L67.1 99.1L67.2 99.0L67.3 98.9L67.3 98.8L67.4 98.8L67.5 98.7L67.6 98.6L67.7 98.6L67.7 98.5L67.8 98.5L67.9 98.4L67.9 98.3L68.0 98.3L68.0 98.2L68.1 98.2L68.2 98.1L68.3 98.0L68.4 97.9L68.5 97.8L68.6 97.8L68.6 97.7L68.7 97.7L68.7 97.6L68.8 97.5L68.9 97.5L68.9 97.4L69.0 97.4L69.1 97.3L69.2 97.2L69.2 97.1L69.3 97.1L69.4 97.0L69.5 96.9L69.6 96.9L69.6 96.8L69.7 96.7L69.8 96.7L69.8 96.6L69.9 96.6L69.9 96.5L70.0 96.5L70.1 96.4L70.1 96.3L70.2 96.3L70.3 96.2L71.6 95.0L72.9 93.9L74.1 92.7L75.4 91.6L76.7 90.5L77.9 89.3L79.2 88.2L80.5 87.1L81.7 86.0L83.0 84.9L84.3 83.8L85.5 82.7L86.8 81.6L88.1 80.6L89.3 79.6L90.6 78.5L91.8 77.5L93.1 76.5L94.4 75.6L95.6 74.6L96.9 73.7L98.2 72.7L99.4 71.8L100.7 71.0L102.0 70.1L103.2 69.3L104.5 68.4L105.8 67.6L107.0 66.8L108.3 66.1L109.6 65.3L110.8 64.6L112.1 63.9L113.4 63.3L114.6 62.6L115.9 62.0L117.2 61.4L118.4 60.8L119.7 60.3L121.0 59.7L122.2 59.2L123.5 58.7L124.8 58.3L125.5 58.1L125.8 58.0L126.0 57.9L126.1 57.8L126.4 57.7L126.7 57.6L127.0 57.5L127.3 57.5L127.4 57.4L127.7 57.3L128.0 57.3L128.3 57.2L128.6 57.1L128.9 57.0L129.3 56.9L129.6 56.8L129.8 56.7L129.9 56.7L130.2 56.6L130.5 56.6L130.8 56.5L131.1 56.4L131.2 56.4L131.5 56.3L131.8 56.2L132.1 56.2L132.4 56.1L132.7 56.0L133.1 56.0L133.4 55.9L133.6 55.8L133.7 55.8L134.0 55.8L134.3 55.7L134.6 55.6L134.9 55.6L135.0 55.6L135.3 55.5L135.6 55.5L135.9 55.4L136.2 55.4L136.5 55.3L136.8 55.3L137.2 55.2L137.4 55.2L137.5 55.2L137.8 55.1L138.1 55.1L138.4 55.0L138.7 55.0L139.1 55.0L139.4 54.9L139.7 54.9L140.0 54.9L140.3 54.8L140.6 54.8L141.0 54.8L141.2 54.7L141.3 54.7L141.6 54.7L141.9 54.7L142.2 54.7L142.5 54.7L142.9 54.6L143.2 54.6L143.5 54.6L143.8 54.6L144.1 54.6L144.4 54.6L144.5 54.6L144.6 54.6L144.7 54.6L144.8 54.6L144.9 54.6L145.0 54.6L145.1 54.6L145.2 54.6L145.3 54.6L145.4 54.6L145.5 54.6L145.5 49.1L145.6 43.9L145.6 39.3L145.7 35.2L145.8 31.9L145.8 29.2L145.9 26.7L146.0 24.5L146.0 22.6L146.1 20.9L146.2 19.5L146.2 18.2L146.3 17.0L146.3 16.7L146.3 15.9L146.4 15.1L146.5 14.5L146.5 14.2L146.6 13.9L146.7 13.7L146.7 13.5L146.8 13.3L146.9 13.0L146.9 12.8L147.0 12.4L147.0 12.1L147.1 11.8L147.2 11.6L147.2 11.4L147.3 11.2L147.4 11.0L147.4 10.9L147.5 10.7L147.5 10.6L147.6 10.6L147.6 10.5L147.7 10.4L147.7 10.3L147.8 10.2L147.9 10.2L147.9 10.1L148.0 10.0L148.1 9.9L148.2 9.8L148.3 9.7L148.4 9.7L148.5 9.7L148.6 9.7L148.6 9.6L148.7 9.6L148.8 9.6L148.9 9.6L148.9 9.5L149.0 9.5L149.1 9.5L149.2 9.5L149.3 9.5L149.4 9.5L149.5 9.5L149.6 9.5L149.7 9.5L149.8 9.5L149.9 9.5L150.0 9.5L150.1 9.5L150.2 9.5L150.3 9.5L150.4 9.5L150.5 9.5L150.6 9.6L150.7 9.6L150.8 9.6L150.9 9.6L151.0 9.6L151.1 9.6L151.2 9.6L151.3 9.6L151.4 9.6L151.5 9.6L151.5 9.7L151.6 9.7L151.7 9.7L151.8 9.7L151.9 9.7L152.0 9.7L152.1 9.7L152.2 9.7L152.3 9.7L152.4 9.7L152.4 9.8L152.5 9.8L152.6 9.8L152.7 9.8L152.8 9.8L152.9 9.8L153.0 9.8L153.1 9.8L153.2 9.9L153.3 9.9L153.4 9.9L153.5 9.9L153.6 9.9L153.7 9.9L153.8 9.9L153.9 10.0L154.0 10.0L154.1 10.0L154.2 10.0L154.3 10.0L154.4 10.0L154.5 10.0L154.6 10.1L154.7 10.1L154.8 10.1L154.9 10.1L155.0 10.1L155.1 10.1L155.2 10.2L155.3 10.2L155.4 10.2L155.5 10.2L155.6 10.2L155.7 10.2L155.8 10.3L155.9 10.3L156.0 10.3L156.1 10.3L156.2 10.3L156.3 10.4L156.4 10.4L156.5 10.4L156.6 10.4L156.7 10.4L156.8 10.4L156.9 10.5L157.0 10.5L157.1 10.5L157.4 10.6L157.7 10.6L158.1 10.7L158.4 10.8L158.7 10.8L159.0 10.9L159.3 11.0L159.6 11.1L160.0 11.1L160.2 11.2L160.3 11.2L160.6 11.3L160.9 11.4L161.2 11.5L161.5 11.5L161.9 11.6L162.2 11.7L162.5 11.8L162.8 11.9L163.1 12.0L163.4 12.1L163.8 12.2L164.0 12.2L164.1 12.3L164.4 12.4L164.7 12.5L165.0 12.6L165.3 12.7L165.7 12.8L166.0 12.9L166.3 13.0L166.6 13.1L166.9 13.2L167.2 13.3L167.6 13.4L167.8 13.5L167.9 13.5L168.2 13.7L168.5 13.8L168.8 13.9L169.1 14.0L169.5 14.1L169.8 14.3L170.1 14.4L170.4 14.5L170.7 14.6L171.0 14.8L171.4 14.9L171.6 15.0L171.7 15.0L172.0 15.2L172.3 15.3L172.6 15.5L172.9 15.6L173.3 15.7L173.6 15.9L173.9 16.0L174.2 16.1L174.2 16.2L174.5 16.3L174.8 16.5L175.2 16.6L175.4 16.7L175.5 16.8L175.8 16.9L176.7 17.4L178.0 18.0L179.2 18.7L180.5 19.4L181.7 20.1L183.0 20.8L184.3 21.6L185.5 22.3L186.8 23.1L188.1 24.0L189.3 24.8L190.6 25.7L191.9 26.6L193.1 27.5L194.4 28.4L195.7 29.3L196.9 30.3L198.2 31.3L199.5 32.3L200.7 33.3L202.0 34.4L203.3 35.4L204.5 36.5L205.8 37.6L207.1 38.7L208.3 39.8L209.6 40.9L210.9 42.1L212.1 43.2L213.4 44.4L214.7 45.6L215.9 46.8L217.2 48.0L218.5 49.3L219.7 50.5L221.0 51.7L222.3 53.0L223.5 54.3L224.8 55.6L226.1 56.8L227.3 58.1L228.6 59.4L229.9 60.8L231.1 62.1L232.4 63.4L233.7 64.7L234.9 66.1L236.2 67.4L237.5 68.7L238.7 70.1L240.0 71.4L241.3 72.8L242.5 74.2L243.8 75.5L245.1 76.9L246.3 78.2L247.6 79.6L248.9 80.9L250.1 82.3L251.4 83.6L252.7 85.0L253.9 86.3L255.2 87.7L256.5 89.0L257.7 90.4L259.0 91.7L260.3 93.0L261.5 94.3L262.8 95.6L264.1 96.9L265.3 98.2L266.6 99.5L267.9 100.8L269.1 102.1L270.4 103.3L271.6 104.6L272.9 105.8L274.2 107.1L275.4 108.3L276.7 109.5L278.0 110.7L279.2 111.8L280.5 113.0L281.8 114.1L283.0 115.3L284.3 116.4L285.6 117.5L286.8 118.6L288.1 119.7L289.4 120.7L290.6 121.8L291.9 122.8L293.2 123.8L294.4 124.8L295.7 125.7L297.0 126.7L298.2 127.6L299.5 128.5L300.8 129.4L302.0 130.2L303.3 131.1L304.6 131.9L305.8 132.7L307.1 133.5L308.4 134.2L309.6 135.0L310.9 135.7L312.2 136.3L313.4 137.0L314.7 137.6L316.0 138.3L317.2 138.8L318.5 139.4L319.8 139.9L321.0 140.5L322.3 140.9L323.6 141.4L324.3 141.7L324.7 141.8L324.8 141.8L325.0 141.9L325.3 142.0L325.6 142.1L325.9 142.2L326.1 142.3L326.2 142.3L326.6 142.4L326.9 142.5L327.2 142.6L327.4 142.6L327.5 142.7L327.8 142.8L328.1 142.9L328.5 143.0L328.6 143.0L328.8 143.0L329.1 143.1L329.4 143.2L329.7 143.3L329.9 143.3L330.0 143.4L330.4 143.5L330.7 143.5L331.0 143.6L331.2 143.6L331.3 143.7L331.6 143.7L331.9 143.8L332.3 143.9L332.4 143.9L332.6 144.0L332.9 144.0L333.2 144.1L333.5 144.1L333.7 144.2L333.8 144.2L334.2 144.3L334.5 144.3L334.8 144.4L335.0 144.4L335.1 144.4L335.4 144.5L335.7 144.5L336.1 144.6L336.2 144.6L336.4 144.6L336.7 144.7L337.0 144.7L337.3 144.8L337.5 144.8L337.6 144.8L338.0 144.8L338.3 144.9L338.6 144.9L338.8 144.9L338.9 144.9L339.2 145.0L339.5 145.0L339.9 145.0L340.0 145.0L340.2 145.1L340.5 145.1L340.8 145.1L341.1 145.1L341.3 145.1L341.4 145.1L341.8 145.2L342.1 145.2L342.4 145.2L342.6 145.2L342.7 145.2L343.0 145.2L343.3 145.2L343.4 145.2L343.5 145.2L343.6 145.2L343.7 145.2L343.8 145.2L343.9 145.2L344.0 145.2L344.1 145.2L344.2 145.2L344.3 145.2L344.4 145.2L344.4 150.7L344.5 155.9L344.5 160.5L344.6 164.6L344.7 167.9L344.7 170.6L344.8 173.1L344.9 175.3L344.9 177.2L345.0 178.9L345.1 180.3L345.1 181.1L345.1 181.6L345.2 182.8L345.2 183.9L345.3 184.7L345.4 185.3L345.4 185.6L345.5 185.9L345.6 186.1L345.6 186.3L345.7 186.5L345.7 186.8L345.8 187.0L345.9 187.4L345.9 187.7L346.0 188.0L346.1 188.2L346.1 188.4L346.2 188.6L346.3 188.8L346.3 188.9L346.4 189.0L346.4 189.1L346.4 189.2L346.5 189.3L346.6 189.4L346.6 189.5L346.7 189.6L346.8 189.6L346.8 189.7L346.9 189.8L347.0 189.9L347.1 190.0L347.2 190.1L347.3 190.1L347.4 190.1L347.5 190.1L347.5 190.2L347.6 190.2L347.7 190.2L347.8 190.2L347.8 190.3L347.9 190.3L348.0 190.3L348.1 190.3L348.2 190.3L348.3 190.3L348.4 190.3L348.5 190.3L348.6 190.3L348.7 190.3L348.8 190.3L348.9 190.3L349.0 190.3L349.1 190.3L349.2 190.3L349.3 190.3L349.4 190.3L349.5 190.2L349.6 190.2L349.7 190.2L349.8 190.2L349.9 190.2L350.0 190.2L350.1 190.2L350.2 190.2L350.3 190.2L350.4 190.2L350.4 190.1L350.5 190.1L350.6 190.1L350.7 190.1L350.8 190.1L350.9 190.1L351.0 190.1L351.1 190.1L351.2 190.1L351.3 190.1L351.3 190.0L351.4 190.0L351.5 190.0L351.6 190.0L351.7 190.0L351.8 190.0L351.9 190.0L352.0 190.0L352.1 189.9L352.2 189.9L352.3 189.9L352.4 189.9L352.5 189.9L352.6 189.9L352.7 189.9L352.8 189.8L352.9 189.8L353.0 189.8L353.1 189.8L353.2 189.8L353.3 189.8L353.4 189.8L353.5 189.7L353.6 189.7L353.7 189.7L353.8 189.7L353.9 189.7L354.0 189.7L354.1 189.6L354.2 189.6L354.3 189.6L354.4 189.6L354.5 189.6L354.6 189.6L354.7 189.5L354.8 189.5L354.9 189.5L355.0 189.5L355.1 189.5L355.2 189.4L355.3 189.4L355.4 189.4L355.5 189.4L355.6 189.4L355.7 189.4L355.8 189.3L355.9 189.3L356.0 189.3L356.3 189.2L356.5 189.2L356.6 189.2L357.0 189.1L357.3 189.0L357.6 189.0L357.8 188.9L357.9 188.9L358.2 188.8L358.5 188.7L358.9 188.7L359.0 188.6L359.2 188.6L359.5 188.5L359.8 188.4L360.1 188.3L360.3 188.3L360.4 188.3L360.8 188.2L361.1 188.1L361.4 188.0L361.6 188.0L361.7 187.9L362.0 187.8L362.3 187.7L362.7 187.6L362.8 187.6L363.0 187.5L363.3 187.4L363.6 187.3L363.9 187.2L364.1 187.2L364.2 187.1L364.6 187.0L364.9 186.9L365.2 186.8L365.3 186.8L365.5 186.7L365.8 186.6L366.1 186.5L366.4 186.4L366.6 186.3L366.8 186.3L367.1 186.1L367.4 186.0L367.7 185.9L367.9 185.8L368.0 185.8L368.3 185.7L368.7 185.5L369.0 185.4L369.1 185.3L369.3 185.3L369.6 185.2L369.9 185.0L370.2 184.9L370.4 184.8L370.6 184.8L370.9 184.6L371.2 184.5L371.5 184.3L371.7 184.3L371.8 184.2L372.1 184.1L372.5 183.9L372.8 183.8L372.9 183.7L373.1 183.6L373.4 183.5L373.7 183.3L374.0 183.2L374.2 183.1L374.4 183.0L374.7 182.9L375.5 182.5L376.7 181.8L378.0 181.2L379.3 180.5L380.5 179.8L381.8 179.1L383.1 178.3L384.3 177.5L385.6 176.7L386.9 175.9L388.1 175.1L389.4 174.2L390.7 173.3L391.9 172.4L393.2 171.5L394.5 170.5L395.7 169.6L397.0 168.6L398.3 167.6L399.5 166.6L400.8 165.5L402.1 164.5L403.3 163.4L404.6 162.3L405.9 161.2L407.1 160.1L408.4 159.0L409.7 157.8L410.9 156.7L412.2 155.5L413.5 154.3L414.7 153.1L416.0 151.9L417.3 150.6L418.5 149.4L419.8 148.2L421.1 146.9L422.3 145.6L423.6 144.3L424.9 143.1L426.1 141.8L427.4 140.5L428.7 139.2L429.9 137.8L431.2 136.5L432.5 135.2L433.7 133.8L435.0 132.5L436.3 131.2L437.5 129.8L438.8 128.5L440.1 127.1L441.3 125.8L442.6 124.4L443.9 123.0L445.1 121.7L446.4 120.3L447.7 119.0L448.9 117.6L450.2 116.3L451.5 114.9L452.7 113.6L454.0 112.2L455.2 110.9L456.5 109.5L457.8 108.2L459.0 106.9L460.3 105.6L461.6 104.3L462.8 103.0L464.1 101.7L465.4 100.4L466.6 99.1L467.9 97.8L469.2 96.6L470.4 95.3L471.7 94.1L473.0 92.8L474.2 91.6L475.5 90.4L476.8 89.2L478.0 88.1L479.3 86.9L480.6 85.7L481.8 84.6L483.1 83.5L484.4 82.4L485.6 81.3L486.9 80.2L488.2 79.2L489.4 78.1L490.7 77.1L492.0 76.1L493.2 75.1L494.5 74.2L495.8 73.2L497.0 72.3L498.3 71.4L499.6 70.5L500.8 69.6L502.1 68.8L503.4 68.0L504.6 67.2L505.9 66.4L507.2 65.6L508.4 64.9L509.7 64.2L511.0 63.5L512.2 62.8L513.5 62.2L514.8 61.6L516.0 61.0L517.3 60.4L518.6 59.9L519.8 59.4L521.1 58.9L522.4 58.4L523.2 58.1L523.6 58.0L523.9 57.9L524.2 57.8L524.5 57.7L524.8 57.6L524.9 57.6L525.1 57.5L525.5 57.4L525.8 57.3L526.1 57.2L526.2 57.2L526.4 57.1L526.7 57.0L527.0 56.9L527.4 56.8L527.7 56.8L528.0 56.7L528.3 56.6L528.6 56.5L528.7 56.5L528.9 56.4L529.3 56.3L529.6 56.3L529.9 56.2L530.0 56.2L530.2 56.1L530.5 56.1L530.8 56.0L531.2 55.9L531.5 55.8L531.8 55.8L532.1 55.7L532.4 55.7L532.5 55.6L532.7 55.6L533.1 55.5L533.4 55.5L533.7 55.4L533.8 55.4L534.0 55.4L534.3 55.3L534.6 55.3L535.0 55.2L535.3 55.2L535.6 55.1L535.9 55.1L536.2 55.0L536.3 55.0L536.5 55.0L536.9 55.0L537.2 54.9L537.5 54.9L537.6 54.9L537.8 54.9L538.1 54.8L538.4 54.8L538.8 54.8L539.1 54.7L539.4 54.7L539.7 54.7L540.0 54.7L540.1 54.7L540.3 54.7L540.7 54.6L541.0 54.6L541.3 54.6L541.4 54.6L541.6 54.6L541.9 54.6L542.2 54.6L542.3 54.6L542.4 54.6L542.5 54.6L542.6 54.6L542.7 54.6L542.8 54.6L542.9 54.6L543.0 54.6L543.1 54.6L543.2 54.6L543.3 49.1L543.4 43.9L543.4 39.3L543.5 35.2L543.6 31.9L543.6 29.2L543.7 26.7L543.8 24.5L543.8 22.6L543.9 20.9L543.9 19.5L544.0 18.2L544.1 17.0L544.1 15.9L544.2 15.1L544.3 14.5L544.3 14.2L544.4 13.9L544.5 13.7L544.5 13.5L544.6 13.3L544.6 13.0L544.7 12.8L544.8 12.4L544.8 12.1L544.9 11.8L545.0 11.6L545.0 11.4L545.1 11.2L545.1 11.0L545.2 10.9L545.3 10.7L545.3 10.6L545.4 10.5L545.5 10.4L545.5 10.3L545.6 10.2L545.7 10.2L545.7 10.1L545.8 10.0L545.8 9.9L545.9 9.9L546.0 9.8L546.1 9.7L546.2 9.7L546.3 9.7L546.4 9.7L546.4 9.6L546.5 9.6L546.6 9.6L546.7 9.6L546.7 9.5L546.8 9.5L546.9 9.5L547.0 9.5L547.1 9.5L547.2 9.5L547.3 9.5L547.4 9.5L547.5 9.5L547.6 9.5L547.7 9.5L547.8 9.5L547.9 9.5L548.0 9.5L548.1 9.5L548.2 9.5L548.3 9.5L548.4 9.6L548.5 9.6L548.6 9.6L548.7 9.6L548.8 9.6L548.9 9.6L549.0 9.6L549.1 9.6L549.2 9.6L549.3 9.6L549.3 9.7L549.4 9.7L549.5 9.7L549.6 9.7L549.7 9.7L549.8 9.7L549.9 9.7L550.0 9.7L550.1 9.7L550.2 9.8L550.3 9.8L550.4 9.8L550.5 9.8L550.6 9.8L550.7 9.8L550.8 9.8L550.9 9.8L551.0 9.9L551.1 9.9L551.2 9.9L551.3 9.9L551.4 9.9L551.5 9.9L551.6 9.9L551.7 10.0L551.8 10.0L551.9 10.0L552.0 10.0L552.1 10.0L552.2 10.0L552.3 10.0L552.4 10.1L552.5 10.1L552.6 10.1L552.7 10.1L552.8 10.1L552.9 10.1L553.0 10.2L553.1 10.2L553.2 10.2L553.3 10.2L553.4 10.2L553.5 10.2L553.6 10.3L553.7 10.3L553.8 10.3L553.9 10.3L554.0 10.3L554.1 10.4L554.2 10.4L554.3 10.4L554.4 10.4L554.5 10.4L554.6 10.4L554.6 10.5L554.7 10.5L554.8 10.5L554.9 10.5L555.2 10.6L555.3 10.6L555.5 10.6L555.8 10.7L556.2 10.8L556.5 10.8L556.5 10.9L556.8 10.9L557.1 11.0L557.4 11.1L557.7 11.1L557.8 11.2L558.1 11.2L558.4 11.3L558.7 11.4L559.0 11.5L559.1 11.5L559.3 11.5L559.6 11.6L560.0 11.7L560.3 11.8L560.6 11.9L560.9 12.0L561.2 12.1L561.5 12.2L561.6 12.2L561.9 12.3L562.2 12.4L562.5 12.5L562.8 12.6L562.9 12.6L563.1 12.7L563.4 12.8L563.8 12.9L564.1 13.0L564.4 13.1L564.7 13.2L565.0 13.3L565.3 13.4L565.4 13.5L565.7 13.5L566.0 13.7L566.3 13.8L566.6 13.9L566.7 13.9L566.9 14.0L567.2 14.1L567.6 14.3L567.9 14.4L568.2 14.5L568.5 14.6L568.8 14.8L569.1 14.9L569.2 14.9L569.5 15.0L569.8 15.2L570.1 15.3L570.4 15.5L570.5 15.5L570.7 15.6L571.0 15.7L571.4 15.9L571.7 16.0L571.7 16.1L572.0 16.2L572.3 16.3L572.6 16.5L572.9 16.6L573.0 16.6L573.3 16.8L573.6 16.9L574.3 17.3L575.5 17.9L576.8 18.6L578.1 19.2L579.3 20.0L580.6 20.7L581.9 21.4L583.1 22.2L584.4 23.0L585.7 23.8L586.9 24.7L588.2 25.5L589.5 26.4L590.7 27.3L592.0 28.3L593.3 29.2L594.5 30.2L595.8 31.1L597.1 32.1L598.3 33.2L599.6 34.2L600.9 35.2L602.1 36.3L603.4 37.4L604.7 38.5L605.9 39.6L607.2 40.7L608.5 41.9L609.7 43.1L611.0 44.2L612.3 45.4L613.5 46.6L614.8 47.8L616.1 49.1L617.3 50.3L618.6 51.5L619.9 52.8L621.1 54.1L622.4 55.4L623.7 56.6L624.9 57.9L626.2 59.2L627.5 60.5L628.7 61.9L630.0 63.2L631.3 64.5L632.5 65.8L633.8 67.2L635.0 68.5L636.3 69.9L637.6 71.2L638.8 72.6L640.1 73.9L641.4 75.3L642.6 76.6L643.9 78.0L645.2 79.4L646.4 80.7L647.7 82.1L649.0 83.4L650.2 84.8L651.5 86.1L652.8 87.5L654.0 88.8L655.3 90.1L656.6 91.5L657.8 92.8L659.1 94.1L660.4 95.4L661.6 96.7L662.9 98.0L664.2 99.3L665.4 100.6L666.7 101.9L668.0 103.1L669.2 104.4L670.5 105.6L671.8 106.9L673.0 108.1L674.3 109.3L675.6 110.5L676.8 111.7L678.1 112.8"/>
</g>
<ellipse cx="151.7" cy="14.0" rx="19.6" ry="13.7" fill="none" stroke="#222" stroke-width="0.7"/>
<path d="M163.6 32.8L186.2 76.7" stroke="#111" stroke-width="0.9" fill="none"/>
<path d="M189.0 82.0L179.2 73.5L185.3 74.9L187.8 69.1Z" fill="#000"/>
<rect x="154.0" y="82.1" width="89.6" height="89.1" fill="#fff"/>
<g clip-path="url(#is1)">
<path class="b" d="M119.2 191.2L122.4 191.2L125.6 191.2L127.3 191.2L128.1 191.2L128.8 191.2L128.9 191.2L129.7 191.2L130.5 191.2L131.3 191.2L132.0 191.2L132.1 191.2L132.9 191.2L133.7 191.2L134.5 191.2L135.2 191.2L135.3 191.2L136.1 191.2L136.9 191.2L137.7 191.2L138.4 191.2L138.5 191.2L139.3 191.2L140.1 191.2L140.9 191.2L141.6 191.2L141.7 191.2L142.5 191.2L143.3 191.2L144.1 191.2L144.8 191.2L144.9 191.2L145.7 191.2L146.5 191.2L147.3 191.2L148.0 191.2L148.1 191.2L148.9 191.2L149.7 191.2L150.5 191.2L151.2 191.2L151.3 191.2L152.1 191.2L152.9 191.2L153.7 191.2L154.4 191.2L154.5 191.2L155.3 191.2L156.1 191.2L156.9 191.2L157.6 191.2L157.7 191.2L158.5 191.2L159.3 191.2L160.1 191.2L160.8 191.2L160.9 191.2L161.7 191.2L162.5 191.2L163.3 191.2L164.0 191.2L164.1 191.2L164.9 191.2L165.7 191.2L166.5 191.2L167.2 191.2L167.3 191.2L168.1 191.2L168.9 191.2L169.7 191.2L170.4 191.2L170.5 191.2L171.3 191.2L172.1 191.2L172.9 191.2L173.6 191.2L173.7 191.2L174.5 191.2L175.3 191.2L175.5 191.2L175.6 191.2L175.8 191.2L176.0 191.2L176.1 191.2L176.3 191.2L176.4 191.2L176.6 191.2L176.6 102.2L176.8 102.2L176.9 102.2L177.1 102.3L177.2 102.3L177.4 102.3L177.6 102.3L177.7 102.3L177.9 102.3L178.0 102.3L178.2 102.3L178.4 102.4L178.5 102.4L178.7 102.4L178.8 102.4L179.0 102.4L179.2 102.5L179.3 102.5L179.5 102.5L179.6 102.5L179.8 102.6L180.0 102.6L180.1 102.6L180.3 102.6L180.4 102.7L180.6 102.7L180.8 102.7L180.9 102.7L181.1 102.8L181.2 102.8L181.4 102.8L181.6 102.9L181.7 102.9L181.9 103.0L182.0 103.0L182.2 103.0L182.4 103.1L182.5 103.1L182.7 103.1L182.8 103.2L183.0 103.2L183.2 103.3L183.3 103.3L183.5 103.4L183.6 103.4L183.8 103.5L184.0 103.5L184.1 103.6L184.3 103.6L184.4 103.7L184.6 103.7L184.8 103.8L184.9 103.8L185.1 103.9L185.2 103.9L185.4 104.0L185.6 104.0L185.7 104.1L185.9 104.1L186.0 104.2L186.2 104.3L186.4 104.3L186.5 104.4L186.7 104.5L186.8 104.5L187.0 104.6L187.2 104.6L187.3 104.7L187.5 104.8L187.6 104.8L187.8 104.9L188.0 105.0L188.1 105.1L188.3 105.1L188.4 105.2L188.6 105.3L188.8 105.4L188.9 105.4L189.1 105.5L189.2 105.6L189.4 105.7L189.6 105.7L189.6 105.8L189.7 105.8L189.9 105.9L190.0 106.0L190.2 106.1L190.4 106.1L190.5 106.2L190.7 106.3L190.8 106.4L191.0 106.5L191.2 106.6L191.3 106.7L191.5 106.8L191.6 106.8L191.8 106.9L192.0 107.0L192.1 107.1L192.3 107.2L192.4 107.3L192.6 107.4L192.8 107.5L192.9 107.6L193.1 107.7L193.2 107.8L193.4 107.9L193.6 108.0L193.7 108.1L193.9 108.2L194.0 108.3L194.2 108.4L194.4 108.5L194.5 108.6L194.7 108.7L194.8 108.8L195.0 109.0L195.2 109.1L195.3 109.2L195.5 109.3L195.6 109.4L195.8 109.5L196.0 109.6L196.0 109.7L196.1 109.7L196.3 109.9L196.4 110.0L196.6 110.1L196.8 110.2L196.9 110.3L197.1 110.5L197.2 110.6L197.4 110.7L197.6 110.8L197.7 110.9L197.9 111.1L198.0 111.2L198.2 111.3L198.4 111.5L198.5 111.6L198.7 111.7L198.8 111.8L199.0 112.0L199.2 112.1L199.3 112.2L199.5 112.4L199.6 112.5L199.8 112.6L200.0 112.8L200.1 112.9L200.3 113.1L200.4 113.2L200.6 113.3L200.8 113.5L200.9 113.6L201.1 113.8L201.2 113.9L201.4 114.0L201.6 114.2L201.7 114.3L201.9 114.5L202.0 114.6L202.2 114.8L202.4 114.9L202.4 115.0L202.5 115.1L202.7 115.2L202.8 115.4L203.0 115.5L203.2 115.7L203.3 115.9L203.5 116.0L203.6 116.2L203.8 116.3L204.0 116.5L204.1 116.6L204.3 116.8L204.4 117.0L204.6 117.1L204.8 117.3L204.9 117.5L205.1 117.6L205.2 117.8L205.4 118.0L205.6 118.1L205.6 118.2L205.7 118.3L205.9 118.5L206.0 118.6L206.2 118.8L206.4 119.0L206.5 119.1L206.7 119.3L206.8 119.5L207.0 119.7L207.2 119.8L207.3 120.0L208.1 120.9L208.8 121.7L208.9 121.8L209.7 122.8L210.5 123.7L211.3 124.7L212.0 125.6L212.1 125.7L212.9 126.8L213.7 127.8L214.5 128.9L215.2 129.8L215.3 130.0L216.1 131.1L216.9 132.2L217.7 133.4L218.4 134.4L218.5 134.6L219.3 135.8L220.1 137.0L220.9 138.3L221.6 139.3L221.7 139.5L222.5 140.8L223.3 142.1L224.1 143.5L224.8 144.6L224.9 144.8L225.7 146.2L226.5 147.6L227.3 149.0L228.0 150.2L228.1 150.4L228.9 151.9L229.7 153.4L230.5 154.9L231.2 156.2L231.3 156.4L232.1 157.9L232.9 159.5L233.7 161.1L234.4 162.4L234.5 162.7L235.3 164.3L236.1 166.0L236.9 167.6L237.6 169.1L237.7 169.3L238.5 171.0L239.3 172.8L240.1 174.5L240.8 176.0L240.9 176.3L241.7 178.1L242.5 179.9L243.3 181.7L244.0 183.3L244.1 183.6L244.9 185.5L245.7 187.4L246.5 189.3L247.2 190.9L247.3 191.2L248.1 191.2L248.9 191.2L249.7 191.2L250.4 191.2L250.5 191.2L251.3 191.2L252.1 191.2L252.9 191.2L253.6 191.2L253.7 191.2L254.5 191.2L256.8 191.2L260.0 191.2L263.2 191.2L266.4 191.2L269.6 191.2L272.8 191.2L276.0 191.2L279.2 191.2L282.4 191.2L285.6 191.2L288.8 191.2"/>
<path class="r" d="M119.2 191.2L122.4 191.2L125.6 191.2L127.3 191.2L128.1 191.2L128.8 191.2L128.9 191.2L129.7 191.2L130.5 191.2L131.3 191.2L132.0 191.2L132.1 191.2L132.9 191.2L133.7 191.2L134.5 191.2L135.2 191.2L135.3 191.2L136.1 191.2L136.9 191.2L137.7 191.2L138.4 191.2L138.5 191.2L139.3 191.2L140.1 191.2L140.9 191.2L141.6 191.2L141.7 191.2L142.5 191.2L143.3 191.2L144.1 191.2L144.8 191.2L144.9 191.2L145.7 191.2L146.5 191.2L147.3 191.2L148.0 191.2L148.1 191.2L148.9 191.2L149.7 191.2L150.5 191.2L151.2 191.2L151.3 191.2L152.1 191.2L152.9 191.2L153.7 191.2L154.4 191.2L154.5 191.2L155.3 191.2L156.1 191.2L156.9 191.2L157.6 191.2L157.7 191.2L158.5 191.2L159.3 191.2L160.1 191.2L160.8 191.2L160.9 191.2L161.7 191.2L162.5 191.2L163.3 191.2L164.0 191.2L164.1 191.2L164.9 191.2L165.7 191.2L166.5 191.2L167.2 191.2L167.3 191.2L168.1 191.2L168.9 191.2L169.7 191.2L170.4 191.2L170.5 191.2L171.3 191.2L172.1 191.2L172.9 191.2L173.6 191.2L173.7 191.2L174.5 191.2L175.3 191.2L175.5 191.2L175.6 191.2L175.8 191.2L176.0 191.2L176.1 191.2L176.3 191.2L176.4 191.2L176.6 191.2L176.8 191.2L176.9 191.2L177.1 191.2L177.2 191.2L177.4 191.2L177.6 191.2L177.7 191.2L177.9 191.2L178.0 191.2L178.2 191.2L178.4 191.2L178.5 191.2L178.7 191.2L178.8 191.2L179.0 191.2L179.2 191.2L179.3 191.2L179.5 191.2L179.6 191.2L179.8 191.2L180.0 191.2L180.1 189.8L180.3 178.8L180.4 171.5L180.6 166.8L180.8 163.3L180.9 160.4L181.1 157.8L181.2 155.1L181.4 152.0L181.6 148.1L181.7 143.9L181.9 139.7L182.0 135.9L182.2 132.8L182.4 130.2L182.5 127.8L182.7 125.6L182.8 123.6L183.0 121.7L183.2 120.0L183.2 119.7L183.3 118.6L183.5 117.3L183.6 116.1L183.8 115.0L184.0 113.9L184.1 112.9L184.3 112.0L184.4 111.1L184.6 110.4L184.8 109.7L184.9 109.1L185.1 108.6L185.2 108.2L185.4 107.9L185.6 107.7L185.7 107.4L185.9 107.1L186.0 106.9L186.2 106.6L186.4 106.4L186.5 106.2L186.7 106.0L186.8 105.8L187.0 105.6L187.2 105.5L187.3 105.4L187.5 105.3L187.6 105.2L187.8 105.1L188.0 105.0L188.1 105.0L188.3 105.0L188.4 105.0L188.6 105.0L188.8 105.1L188.9 105.2L189.1 105.2L189.2 105.3L189.4 105.4L189.6 105.4L189.6 105.5L189.7 105.5L189.9 105.6L190.0 105.7L190.2 105.7L190.4 105.8L190.5 105.9L190.7 106.0L190.8 106.0L191.0 106.1L191.2 106.2L191.3 106.3L191.5 106.4L191.6 106.5L191.8 106.5L192.0 106.6L192.1 106.7L192.3 106.8L192.4 106.9L192.6 107.0L192.8 107.1L192.9 107.2L193.1 107.2L193.2 107.3L193.4 107.4L193.6 107.5L193.7 107.6L193.9 107.7L194.0 107.8L194.2 107.9L194.4 108.0L194.5 108.1L194.7 108.2L194.8 108.3L195.0 108.4L195.2 108.5L195.3 108.6L195.5 108.7L195.6 108.8L195.8 108.9L196.0 109.0L196.1 109.1L196.3 109.2L196.4 109.3L196.6 109.4L196.8 109.5L196.9 109.7L197.1 109.8L197.2 109.9L197.4 110.0L197.6 110.1L197.7 110.2L197.9 110.3L198.0 110.5L198.2 110.6L198.4 110.7L198.5 110.8L198.7 110.9L198.8 111.0L199.0 111.2L199.2 111.3L199.3 111.4L199.5 111.5L199.6 111.7L199.8 111.8L200.0 111.9L200.1 112.0L200.3 112.2L200.4 112.3L200.6 112.4L200.8 112.6L200.9 112.7L201.1 112.8L201.2 112.9L201.4 113.1L201.6 113.2L201.7 113.4L201.9 113.5L202.0 113.6L202.2 113.8L202.4 113.9L202.5 114.0L202.7 114.2L202.8 114.3L203.0 114.5L203.2 114.6L203.3 114.7L203.5 114.9L203.6 115.0L203.8 115.2L204.0 115.3L204.1 115.5L204.3 115.6L204.4 115.8L204.6 115.9L204.8 116.1L204.9 116.2L205.1 116.4L205.2 116.5L205.4 116.7L205.6 116.8L205.6 116.9L205.7 117.0L205.9 117.2L206.0 117.3L206.2 117.5L206.4 117.6L206.5 117.8L206.7 118.0L206.8 118.1L207.0 118.3L207.2 118.4L207.3 118.6L208.1 119.4L208.8 120.2L208.9 120.3L209.7 121.2L210.5 122.1L211.3 123.0L212.0 123.8L212.1 123.9L212.9 124.9L213.7 125.9L214.5 126.9L215.2 127.7L215.3 127.9L216.1 128.9L216.9 130.0L217.7 131.1L218.4 132.0L218.5 132.2L219.3 133.3L220.1 134.4L220.9 135.6L221.6 136.6L221.7 136.8L222.5 138.0L223.3 139.2L224.1 140.5L224.8 141.5L224.9 141.7L225.7 143.0L226.5 144.3L227.3 145.6L228.0 146.8L228.1 147.0L228.9 148.4L229.7 149.8L230.5 151.2L231.2 152.4L231.3 152.6L232.1 154.1L232.9 155.5L233.7 157.0L234.4 158.3L234.5 158.5L235.3 160.1L236.1 161.6L236.9 163.2L237.6 164.5L237.7 164.8L238.5 166.4L239.3 168.0L240.1 169.7L240.8 171.1L240.9 171.4L241.7 173.1L242.5 174.8L243.3 176.5L244.0 178.0L244.1 178.3L244.9 180.0L245.7 181.8L246.5 183.7L247.2 185.2L247.3 185.5L248.1 187.3L248.9 189.2L249.7 191.1L250.4 191.2L250.5 191.2L251.3 191.2L252.1 191.2L252.9 191.2L253.6 191.2L253.7 191.2L254.5 191.2L256.8 191.2L260.0 191.2L263.2 191.2L266.4 191.2L269.6 191.2L272.8 191.2L276.0 191.2L279.2 191.2L282.4 191.2L285.6 191.2L288.8 191.2"/>
</g>
<rect class="ax" x="154.0" y="82.1" width="89.6" height="89.1"/>
<path class="ax" style="stroke-width:0.9" d="M163.5 82.1v1.3M163.5 171.2v-1.3M179.9 82.1v1.3M179.9 171.2v-1.3M196.1 82.1v1.3M196.1 171.2v-1.3M212.5 82.1v1.3M212.5 171.2v-1.3M228.8 82.1v1.3M228.8 171.2v-1.3M154.0 102.2h1.3M243.6 102.2h-1.3M154.0 132.0h1.3M243.6 132.0h-1.3M154.0 161.8h1.3M243.6 161.8h-1.3"/>
<text class="tk" x="147.6" y="106.2" text-anchor="end">40</text>
<text class="tk" x="147.6" y="136.0" text-anchor="end">39</text>
<text class="tk" x="147.6" y="165.8" text-anchor="end">38</text>
<text class="mono" font-size="13" text-anchor="middle" transform="translate(164.6 189.5) scale(1 0.88)">1.5</text>
<text class="mono" font-size="13" text-anchor="middle" transform="translate(196.7 189.5) scale(1 0.88)">1.7</text>
<text class="mono" font-size="13" text-anchor="middle" transform="translate(228.7 189.5) scale(1 0.88)">1.9</text>
<rect x="297.9" y="9.3" width="195.7" height="53.3" fill="#fff" stroke="#3a3a3a" stroke-width="1.2"/>
<path class="b" d="M301.5 24.0H338"/>
<path class="r" d="M301.5 48.9H338"/>
<text class="mono" font-size="10.83" transform="translate(340.4 27.9) scale(1 0.88)">Actual value of joint 1</text>
<text class="mono" font-size="10.83" transform="translate(340.4 52.1) scale(1 0.88)">Observer value</text>
</g>
<g id="s2">
<clipPath id="cs2"><rect x="43.5" y="244.2" width="636.1" height="181.5"/></clipPath>
<clipPath id="is2"><rect x="154.0" y="317.4" width="89.9" height="89.5"/></clipPath>
<rect class="ax" x="45.0" y="245.2" width="633.1" height="179.5"/>
<path class="ax" d="M108.3 424.7v-6.3M108.3 245.2v6.3M171.6 424.7v-6.3M171.6 245.2v6.3M234.9 424.7v-6.3M234.9 245.2v6.3M298.2 424.7v-6.3M298.2 245.2v6.3M361.6 424.7v-6.3M361.6 245.2v6.3M424.9 424.7v-6.3M424.9 245.2v6.3M488.2 424.7v-6.3M488.2 245.2v6.3M551.5 424.7v-6.3M551.5 245.2v6.3M614.8 424.7v-6.3M614.8 245.2v6.3M45.0 290.2h6.3M678.1 290.2h-6.3M45.0 335.4h6.3M678.1 335.4h-6.3M45.0 380.6h6.3M678.1 380.6h-6.3"/>
<text class="tk" x="44.7" y="443.7" text-anchor="middle">0</text>
<text class="tk" x="108.0" y="443.7" text-anchor="middle">1</text>
<text class="tk" x="171.3" y="443.7" text-anchor="middle">2</text>
<text class="tk" x="234.6" y="443.7" text-anchor="middle">3</text>
<text class="tk" x="297.9" y="443.7" text-anchor="middle">4</text>
<text class="tk" x="361.2" y="443.7" text-anchor="middle">5</text>
<text class="tk" x="424.6" y="443.7" text-anchor="middle">6</text>
<text class="tk" x="487.9" y="443.7" text-anchor="middle">7</text>
<text class="tk" x="551.2" y="443.7" text-anchor="middle">8</text>
<text class="tk" x="614.5" y="443.7" text-anchor="middle">9</text>
<text class="tk" x="677.8" y="443.7" text-anchor="middle">10</text>
<text class="tk" x="39.0" y="249.7" text-anchor="end">40</text>
<text class="tk" x="39.0" y="294.9" text-anchor="end">20</text>
<text class="tk" x="39.0" y="340.1" text-anchor="end">0</text>
<text class="tk" x="39.0" y="385.3" text-anchor="end"><tspan class="mn" dy="-1.0">−</tspan><tspan dy="1.0" dx="0.9">20</tspan></text>
<text class="tk" x="39.0" y="430.5" text-anchor="end"><tspan class="mn" dy="-1.0">−</tspan><tspan dy="1.0" dx="0.9">40</tspan></text>
<text class="mono" font-size="13.1" text-anchor="middle" transform="translate(361.5 461.7) scale(1 0.88)">Time/s</text>
<text class="mono" font-size="13.2" text-anchor="middle" transform="translate(10.4 335.8) rotate(-90) scale(1 0.88)">Total disturbance/(N·m)</text>
<g clip-path="url(#cs2)">
<path class="b" d="M45.0 335.4L45.0 312.8L45.1 312.8L45.1 312.7L45.2 312.7L45.3 312.6L45.4 312.5L45.5 312.4L45.6 312.4L45.6 312.3L45.7 312.3L45.8 312.3L45.8 312.2L45.9 312.2L45.9 312.1L46.0 312.1L46.1 312.0L46.2 311.9L46.3 311.9L46.4 311.8L46.5 311.8L46.5 311.7L46.6 311.7L46.6 311.6L46.7 311.6L46.8 311.5L46.9 311.4L47.0 311.4L47.1 311.3L47.2 311.3L47.2 311.2L47.3 311.2L47.3 311.1L47.4 311.1L47.5 311.0L47.6 310.9L47.7 310.9L47.8 310.8L47.9 310.7L48.0 310.7L48.0 310.6L48.1 310.6L48.2 310.5L48.3 310.5L48.4 310.4L48.5 310.3L48.6 310.2L48.7 310.2L48.7 310.1L48.8 310.1L48.9 310.0L49.0 310.0L49.1 309.9L49.2 309.8L49.3 309.7L49.4 309.7L49.4 309.6L49.5 309.6L49.6 309.5L49.7 309.5L49.7 309.4L49.8 309.4L49.9 309.3L50.0 309.2L50.1 309.2L50.1 309.1L50.2 309.1L50.3 309.1L50.3 309.0L50.4 309.0L50.4 308.9L50.5 308.9L50.6 308.8L50.7 308.7L50.8 308.7L50.8 308.6L50.9 308.6L51.0 308.6L51.0 308.5L51.1 308.5L51.1 308.4L51.2 308.4L51.3 308.3L51.4 308.2L51.5 308.2L51.6 308.1L51.7 308.0L51.8 308.0L51.8 307.9L51.9 307.9L52.0 307.8L52.1 307.7L52.2 307.7L52.3 307.6L52.4 307.5L52.5 307.5L52.5 307.4L52.6 307.4L52.7 307.3L52.8 307.3L52.9 307.2L53.0 307.1L53.1 307.0L53.2 307.0L53.2 306.9L53.3 306.9L53.4 306.9L53.4 306.8L53.5 306.8L53.5 306.7L53.6 306.7L53.7 306.6L53.8 306.5L53.9 306.5L53.9 306.4L54.0 306.4L54.1 306.4L54.1 306.3L54.2 306.3L54.2 306.2L54.3 306.2L54.4 306.1L54.5 306.0L54.6 306.0L54.7 305.9L54.8 305.8L54.9 305.8L54.9 305.7L55.0 305.7L55.1 305.6L55.2 305.6L55.3 305.5L55.4 305.4L55.5 305.3L55.6 305.3L55.6 305.2L55.7 305.2L55.8 305.2L55.8 305.1L55.9 305.1L56.0 305.0L56.1 304.9L56.2 304.8L56.3 304.8L56.4 304.7L56.5 304.7L56.5 304.6L56.6 304.6L56.6 304.5L56.7 304.5L56.8 304.4L56.9 304.4L57.0 304.3L57.1 304.2L57.2 304.2L57.2 304.1L57.3 304.1L57.3 304.0L57.4 304.0L57.5 304.0L57.5 303.9L57.6 303.9L57.7 303.8L57.7 346.8L57.7 346.7L57.8 346.7L57.9 346.7L58.0 346.6L58.1 346.6L58.2 346.6L58.2 346.5L58.3 346.5L58.4 346.5L58.4 346.4L58.5 346.4L58.6 346.4L58.7 346.3L58.8 346.3L58.9 346.3L58.9 346.2L59.0 346.2L59.1 346.2L59.1 346.1L59.2 346.1L59.3 346.1L59.4 346.0L59.5 346.0L59.6 345.9L59.7 345.9L59.8 345.8L59.9 345.8L60.0 345.7L60.1 345.7L60.2 345.6L60.3 345.6L60.4 345.5L60.5 345.5L60.6 345.5L60.6 345.4L60.7 345.4L60.8 345.4L60.8 345.3L60.9 345.3L61.0 345.3L61.0 345.2L61.1 345.2L61.2 345.1L61.3 345.1L61.4 345.0L61.5 345.0L61.6 344.9L61.7 344.9L61.8 344.8L61.9 344.8L62.0 344.7L62.1 344.7L62.2 344.6L62.3 344.6L62.3 344.5L62.4 344.5L62.5 344.5L62.5 344.4L62.6 344.4L62.7 344.4L62.7 344.3L62.8 344.3L62.9 344.3L62.9 344.2L63.0 344.2L63.1 344.1L63.2 344.1L63.3 344.0L63.4 344.0L63.5 343.9L63.6 343.9L63.7 343.8L63.8 343.8L63.9 343.7L64.0 343.7L64.1 343.6L64.2 343.6L64.2 343.5L64.3 343.5L64.4 343.4L64.5 343.4L64.6 343.3L64.7 343.3L64.8 343.2L64.9 343.2L64.9 343.1L65.0 343.1L65.1 343.1L65.1 343.0L65.2 343.0L65.3 343.0L65.3 342.9L65.4 342.9L65.4 342.8L65.5 342.8L65.6 342.8L65.6 342.7L65.7 342.7L65.8 342.7L65.8 342.6L65.9 342.6L66.0 342.6L66.0 342.5L66.1 342.5L66.1 342.4L66.2 342.4L66.3 342.4L66.3 342.3L66.4 342.3L66.5 342.3L66.5 342.2L66.6 342.2L66.7 342.1L66.8 342.1L66.8 342.0L66.9 342.0L67.0 342.0L67.0 341.9L67.1 341.9L67.2 341.9L67.2 341.8L67.3 341.8L67.3 341.7L67.4 341.7L67.5 341.7L67.5 341.6L67.6 341.6L67.7 341.6L67.7 341.5L67.8 341.5L67.9 341.4L68.0 341.4L68.0 341.3L68.1 341.3L68.2 341.3L68.2 341.2L68.3 341.2L68.4 341.1L68.5 341.1L68.6 341.0L68.7 341.0L68.7 340.9L68.8 340.9L68.9 340.8L69.0 340.8L69.1 340.7L69.2 340.7L69.2 340.6L69.3 340.6L69.4 340.5L69.5 340.5L69.6 340.4L69.7 340.4L69.8 340.3L69.9 340.2L70.0 340.2L70.1 340.1L70.2 340.0L70.3 340.0L71.6 339.2L72.9 338.4L74.1 337.7L75.4 336.9L76.7 336.1L77.9 335.4L79.2 334.6L80.5 333.9L81.7 333.1L83.0 332.4L84.3 331.7L85.5 330.9L86.8 330.2L88.1 329.5L89.3 328.8L90.6 328.2L91.8 327.5L93.1 326.8L94.4 326.2L95.6 325.6L96.9 324.9L98.2 324.3L99.4 323.7L100.7 323.2L102.0 322.6L103.2 322.0L104.5 321.5L105.8 321.0L107.0 320.5L108.3 320.0L109.6 319.5L110.8 319.0L112.1 318.6L113.4 318.1L114.6 317.7L115.9 317.3L117.2 316.9L118.4 316.6L119.7 316.2L121.0 315.9L122.2 315.6L123.5 315.3L124.8 315.0L125.5 314.8L125.8 314.8L126.0 314.7L126.1 314.7L126.4 314.6L126.7 314.6L127.0 314.5L127.3 314.4L127.4 314.4L127.7 314.4L128.0 314.3L128.3 314.3L128.6 314.2L128.9 314.1L129.3 314.1L129.6 314.0L129.8 314.0L129.9 314.0L130.2 313.9L130.5 313.9L130.8 313.8L131.1 313.8L131.2 313.8L131.5 313.7L131.8 313.7L132.1 313.7L132.4 313.6L132.7 313.6L133.1 313.5L133.4 313.5L133.6 313.5L133.7 313.5L134.0 313.4L134.3 313.4L134.6 313.3L134.9 313.3L135.0 313.3L135.3 313.3L135.6 313.2L135.9 313.2L136.2 313.2L136.5 313.2L136.8 313.1L137.2 313.1L137.4 313.1L137.5 313.1L137.8 313.0L138.1 313.0L138.4 313.0L138.7 313.0L139.1 313.0L139.4 312.9L139.7 312.9L140.0 312.9L140.3 312.9L140.6 312.9L141.0 312.9L141.2 312.9L141.3 312.9L141.6 312.8L141.9 312.8L142.2 312.8L142.5 312.8L142.9 312.8L143.2 312.8L143.5 312.8L143.8 312.8L144.1 312.8L144.4 312.8L144.5 312.8L144.6 312.8L144.7 312.8L144.8 312.8L144.9 312.8L145.0 312.8L145.0 267.6L145.1 312.8L145.2 312.8L145.3 267.6L145.4 267.6L145.5 267.6L145.6 267.6L145.7 267.6L145.8 267.6L145.9 267.6L146.0 267.6L146.1 267.6L146.2 267.6L146.3 267.6L146.4 267.6L146.5 267.6L146.6 267.6L146.7 267.6L146.8 267.6L146.9 267.6L147.0 267.6L147.1 267.6L147.2 267.6L147.3 267.6L147.4 267.6L147.5 267.7L147.6 267.7L147.7 267.7L147.8 267.7L147.9 267.7L148.0 267.7L148.1 267.7L148.2 267.7L148.3 267.7L148.4 267.7L148.5 267.7L148.6 267.7L148.7 267.7L148.8 267.7L148.9 267.7L149.0 267.7L149.1 267.7L149.2 267.7L149.3 267.7L149.4 267.7L149.5 267.7L149.6 267.7L149.6 267.8L149.7 267.8L149.8 267.8L149.9 267.8L150.0 267.8L150.1 267.8L150.2 267.8L150.3 267.8L150.4 267.8L150.5 267.8L150.6 267.8L150.7 267.8L150.8 267.8L150.9 267.8L151.0 267.8L151.1 267.8L151.2 267.9L151.3 267.9L151.4 267.9L151.5 267.9L151.6 267.9L151.7 267.9L151.8 267.9L151.9 267.9L152.0 267.9L152.1 267.9L152.2 267.9L152.3 267.9L152.4 268.0L152.5 268.0L152.6 268.0L152.7 268.0L152.8 268.0L152.9 268.0L153.0 268.0L153.1 268.0L153.2 268.0L153.3 268.0L153.4 268.0L153.4 268.1L153.5 268.1L153.6 268.1L153.7 268.1L153.8 268.1L153.9 268.1L154.0 268.1L154.1 268.1L154.2 268.1L154.3 268.1L154.4 268.2L154.5 268.2L154.6 268.2L154.7 268.2L154.8 268.2L154.9 268.2L155.0 268.2L155.1 268.2L155.2 268.2L155.2 268.3L155.3 268.3L155.4 268.3L155.5 268.3L155.6 268.3L155.7 268.3L155.8 268.3L155.9 268.3L156.0 268.3L156.0 268.4L156.1 268.4L156.2 268.4L156.3 268.4L156.4 268.4L156.5 268.4L156.6 268.4L156.7 268.4L156.8 268.5L156.9 268.5L157.0 268.5L157.1 268.5L157.4 268.5L157.7 268.6L158.1 268.6L158.4 268.7L158.7 268.7L159.0 268.8L159.3 268.8L159.6 268.9L160.0 268.9L160.2 269.0L160.3 269.0L160.6 269.1L160.9 269.1L161.2 269.2L161.5 269.2L161.9 269.3L162.2 269.4L162.5 269.4L162.8 269.5L163.1 269.6L163.4 269.6L163.8 269.7L164.0 269.7L164.1 269.8L164.4 269.8L164.7 269.9L165.0 270.0L165.3 270.0L165.7 270.1L166.0 270.2L166.3 270.3L166.6 270.3L166.9 270.4L167.2 270.5L167.6 270.6L167.8 270.6L167.9 270.7L168.2 270.7L168.5 270.8L168.8 270.9L169.1 271.0L169.5 271.1L169.8 271.2L170.1 271.3L170.4 271.3L170.7 271.4L171.0 271.5L171.4 271.6L171.6 271.7L171.7 271.7L172.0 271.8L172.3 271.9L172.6 272.0L172.9 272.1L173.3 272.2L173.6 272.3L173.9 272.4L174.2 272.5L174.5 272.6L174.8 272.7L175.2 272.8L175.4 272.9L175.5 272.9L175.8 273.0L176.7 273.3L178.0 273.8L179.2 274.2L180.5 274.7L181.7 275.2L183.0 275.7L184.3 276.3L185.5 276.8L186.8 277.3L188.1 277.9L189.3 278.5L190.6 279.1L191.9 279.7L193.1 280.3L194.4 281.0L195.7 281.6L196.9 282.3L198.2 282.9L199.5 283.6L200.7 284.3L202.0 285.0L203.3 285.7L204.5 286.5L205.8 287.2L207.1 288.0L208.3 288.7L209.6 289.5L210.9 290.3L212.1 291.1L213.4 291.9L214.7 292.7L215.9 293.5L217.2 294.3L218.5 295.1L219.7 296.0L221.0 296.8L222.3 297.7L223.5 298.5L224.8 299.4L226.1 300.2L227.3 301.1L228.6 302.0L229.9 302.9L231.1 303.7L232.4 304.6L233.7 305.5L234.9 306.4L236.2 307.3L237.5 308.2L238.7 309.1L240.0 310.0L241.3 310.9L242.5 311.8L243.8 312.7L245.1 313.6L246.3 314.5L247.6 315.4L248.9 316.3L250.1 317.2L251.4 318.1L252.7 319.0L253.9 319.9L255.2 320.8L256.5 321.7L257.7 322.6L259.0 323.5L260.3 324.4L261.5 325.2L262.8 326.1L264.1 327.0L265.3 327.8L266.6 328.7L267.9 329.5L269.1 330.3L270.4 331.2L271.6 332.0L272.9 332.8L274.2 333.6L275.4 334.4L276.7 335.2L278.0 336.0L279.2 336.7L280.5 337.5L281.8 338.3L283.0 339.0L284.3 339.7L285.6 340.5L286.8 341.2L288.1 341.9L289.4 342.6L290.6 343.2L291.9 343.9L293.2 344.5L294.4 345.2L295.7 345.8L297.0 346.4L298.2 347.0L299.5 347.6L300.8 348.2L302.0 348.7L303.3 349.3L304.6 349.8L305.8 350.3L307.1 350.8L308.4 351.3L309.6 351.7L310.9 352.2L312.2 352.6L313.4 353.0L314.7 353.5L316.0 353.8L317.2 354.2L318.5 354.6L319.8 354.9L321.0 355.2L322.3 355.5L323.6 355.8L324.3 356.0L324.7 356.0L324.8 356.1L325.0 356.1L325.3 356.2L325.6 356.2L325.9 356.3L326.1 356.3L326.2 356.4L326.6 356.4L326.9 356.5L327.2 356.5L327.4 356.6L327.5 356.6L327.8 356.7L328.1 356.7L328.5 356.8L328.6 356.8L328.8 356.8L329.1 356.9L329.4 356.9L329.7 357.0L329.9 357.0L330.0 357.0L330.4 357.1L330.7 357.1L331.0 357.1L331.2 357.2L331.3 357.2L331.6 357.2L331.9 357.3L332.3 357.3L332.4 357.3L332.6 357.3L332.9 357.4L333.2 357.4L333.5 357.5L333.7 357.5L333.8 357.5L334.2 357.5L334.5 357.6L334.8 357.6L335.0 357.6L335.1 357.6L335.4 357.6L335.7 357.7L336.1 357.7L336.2 357.7L336.4 357.7L336.7 357.8L337.0 357.8L337.3 357.8L337.5 357.8L337.6 357.8L338.0 357.8L338.3 357.9L338.6 357.9L338.8 357.9L338.9 357.9L339.2 357.9L339.5 357.9L339.9 357.9L340.0 357.9L340.2 357.9L340.5 358.0L340.8 358.0L341.1 358.0L341.3 358.0L341.4 358.0L341.8 358.0L342.1 358.0L342.4 358.0L342.6 358.0L342.7 358.0L343.0 358.0L343.3 358.0L343.4 358.0L343.5 358.0L343.6 358.0L343.7 358.0L343.8 358.0L343.8 403.2L343.9 403.2L344.0 403.2L344.1 403.2L344.2 403.2L344.3 403.2L344.4 403.2L344.5 403.2L344.6 403.2L344.7 403.2L344.8 403.2L344.9 403.2L345.0 403.2L345.1 403.2L345.2 403.2L345.3 403.2L345.4 403.2L345.5 403.2L345.6 403.2L345.7 403.2L345.8 403.2L345.9 403.2L346.0 403.2L346.1 403.2L346.2 403.2L346.3 403.2L346.4 403.1L346.5 403.1L346.6 403.1L346.7 403.1L346.8 403.1L346.9 403.1L347.0 403.1L347.1 403.1L347.2 403.1L347.3 403.1L347.4 403.1L347.5 403.1L347.6 403.1L347.7 403.1L347.8 403.1L347.9 403.1L348.0 403.1L348.1 403.1L348.2 403.1L348.3 403.1L348.4 403.1L348.5 403.1L348.5 403.0L348.6 403.0L348.7 403.0L348.8 403.0L348.9 403.0L349.0 403.0L349.1 403.0L349.2 403.0L349.3 403.0L349.4 403.0L349.5 403.0L349.6 403.0L349.7 403.0L349.8 403.0L349.9 403.0L350.0 403.0L350.1 402.9L350.2 402.9L350.3 402.9L350.4 402.9L350.5 402.9L350.6 402.9L350.7 402.9L350.8 402.9L350.9 402.9L351.0 402.9L351.1 402.9L351.2 402.9L351.3 402.8L351.4 402.8L351.5 402.8L351.6 402.8L351.7 402.8L351.8 402.8L351.9 402.8L352.0 402.8L352.1 402.8L352.2 402.8L352.3 402.8L352.3 402.7L352.4 402.7L352.5 402.7L352.6 402.7L352.7 402.7L352.8 402.7L352.9 402.7L353.0 402.7L353.1 402.7L353.2 402.7L353.3 402.6L353.4 402.6L353.5 402.6L353.6 402.6L353.7 402.6L353.8 402.6L353.9 402.6L354.0 402.6L354.1 402.5L354.2 402.5L354.3 402.5L354.4 402.5L354.5 402.5L354.6 402.5L354.7 402.5L354.8 402.5L354.9 402.5L354.9 402.4L355.0 402.4L355.1 402.4L355.2 402.4L355.3 402.4L355.4 402.4L355.5 402.4L355.6 402.4L355.7 402.3L355.8 402.3L355.9 402.3L356.0 402.3L356.3 402.3L356.5 402.2L356.6 402.2L357.0 402.2L357.3 402.1L357.6 402.1L357.8 402.0L357.9 402.0L358.2 402.0L358.5 401.9L358.9 401.9L359.0 401.8L359.2 401.8L359.5 401.7L359.8 401.7L360.1 401.6L360.3 401.6L360.4 401.6L360.8 401.5L361.1 401.4L361.4 401.4L361.6 401.3L361.7 401.3L362.0 401.2L362.3 401.2L362.7 401.1L362.8 401.1L363.0 401.0L363.3 401.0L363.6 400.9L363.9 400.8L364.1 400.8L364.2 400.8L364.6 400.7L364.9 400.6L365.2 400.5L365.3 400.5L365.5 400.5L365.8 400.4L366.1 400.3L366.4 400.2L366.6 400.2L366.8 400.1L367.1 400.1L367.4 400.0L367.7 399.9L367.9 399.8L368.0 399.8L368.3 399.7L368.7 399.6L369.0 399.5L369.1 399.5L369.3 399.5L369.6 399.4L369.9 399.3L370.2 399.2L370.4 399.1L370.6 399.1L370.9 399.0L371.2 398.9L371.5 398.8L371.7 398.7L371.8 398.7L372.1 398.6L372.5 398.5L372.8 398.4L372.9 398.3L373.1 398.3L373.4 398.2L373.7 398.1L374.0 398.0L374.2 397.9L374.4 397.9L374.7 397.8L375.5 397.5L376.7 397.1L378.0 396.6L379.3 396.1L380.5 395.6L381.8 395.1L383.1 394.6L384.3 394.0L385.6 393.5L386.9 392.9L388.1 392.3L389.4 391.8L390.7 391.1L391.9 390.5L393.2 389.9L394.5 389.2L395.7 388.6L397.0 387.9L398.3 387.2L399.5 386.5L400.8 385.8L402.1 385.1L403.3 384.4L404.6 383.6L405.9 382.9L407.1 382.1L408.4 381.4L409.7 380.6L410.9 379.8L412.2 379.0L413.5 378.2L414.7 377.4L416.0 376.6L417.3 375.7L418.5 374.9L419.8 374.1L421.1 373.2L422.3 372.4L423.6 371.5L424.9 370.6L426.1 369.8L427.4 368.9L428.7 368.0L429.9 367.1L431.2 366.2L432.5 365.3L433.7 364.4L435.0 363.6L436.3 362.7L437.5 361.8L438.8 360.9L440.1 360.0L441.3 359.0L442.6 358.1L443.9 357.2L445.1 356.3L446.4 355.4L447.7 354.5L448.9 353.6L450.2 352.7L451.5 351.8L452.7 350.9L454.0 350.0L455.2 349.2L456.5 348.3L457.8 347.4L459.0 346.5L460.3 345.6L461.6 344.8L462.8 343.9L464.1 343.1L465.4 342.2L466.6 341.4L467.9 340.5L469.2 339.7L470.4 338.9L471.7 338.1L473.0 337.3L474.2 336.5L475.5 335.7L476.8 334.9L478.0 334.1L479.3 333.3L480.6 332.6L481.8 331.9L483.1 331.1L484.4 330.4L485.6 329.7L486.9 329.0L488.2 328.3L489.4 327.6L490.7 327.0L492.0 326.3L493.2 325.7L494.5 325.1L495.8 324.4L497.0 323.8L498.3 323.3L499.6 322.7L500.8 322.1L502.1 321.6L503.4 321.1L504.6 320.5L505.9 320.0L507.2 319.6L508.4 319.1L509.7 318.6L511.0 318.2L512.2 317.8L513.5 317.4L514.8 317.0L516.0 316.6L517.3 316.3L518.6 315.9L519.8 315.6L521.1 315.3L522.4 315.0L523.2 314.8L523.6 314.8L523.6 314.7L523.9 314.7L524.2 314.6L524.5 314.6L524.8 314.5L524.9 314.5L525.1 314.4L525.5 314.4L525.8 314.3L526.1 314.3L526.2 314.3L526.4 314.2L526.7 314.1L527.0 314.1L527.4 314.0L527.7 314.0L528.0 313.9L528.3 313.9L528.6 313.8L528.7 313.8L528.9 313.8L529.3 313.7L529.6 313.7L529.9 313.7L530.0 313.6L530.2 313.6L530.5 313.6L530.8 313.5L531.2 313.5L531.5 313.5L531.8 313.4L532.1 313.4L532.4 313.3L532.5 313.3L532.7 313.3L533.1 313.3L533.4 313.2L533.7 313.2L533.8 313.2L534.0 313.2L534.3 313.2L534.6 313.1L535.0 313.1L535.3 313.1L535.6 313.0L535.9 313.0L536.2 313.0L536.3 313.0L536.5 313.0L536.9 313.0L537.2 312.9L537.5 312.9L537.6 312.9L537.8 312.9L538.1 312.9L538.4 312.9L538.8 312.9L539.1 312.9L539.4 312.8L539.7 312.8L540.0 312.8L540.1 312.8L540.3 312.8L540.7 312.8L541.0 312.8L541.3 312.8L541.4 312.8L541.6 312.8L541.9 312.8L542.2 312.8L542.3 312.8L542.4 312.8L542.5 312.8L542.6 312.8L542.7 312.8L542.7 267.6L542.8 267.6L542.9 267.6L543.0 267.6L543.1 267.6L543.2 267.6L543.3 267.6L543.4 267.6L543.5 267.6L543.6 267.6L543.7 267.6L543.8 267.6L543.9 267.6L544.0 267.6L544.1 267.6L544.2 267.6L544.3 267.6L544.4 267.6L544.5 267.6L544.6 267.6L544.7 267.6L544.8 267.6L544.9 267.6L545.0 267.6L545.1 267.6L545.2 267.6L545.3 267.7L545.4 267.7L545.5 267.7L545.6 267.7L545.7 267.7L545.8 267.7L545.9 267.7L546.0 267.7L546.1 267.7L546.2 267.7L546.3 267.7L546.4 267.7L546.5 267.7L546.6 267.7L546.7 267.7L546.8 267.7L546.9 267.7L547.0 267.7L547.1 267.7L547.2 267.7L547.3 267.7L547.4 267.7L547.4 267.8L547.5 267.8L547.6 267.8L547.7 267.8L547.8 267.8L547.9 267.8L548.0 267.8L548.1 267.8L548.2 267.8L548.3 267.8L548.4 267.8L548.5 267.8L548.6 267.8L548.7 267.8L548.8 267.8L548.9 267.8L548.9 267.9L549.0 267.9L549.1 267.9L549.2 267.9L549.3 267.9L549.4 267.9L549.5 267.9L549.6 267.9L549.7 267.9L549.8 267.9L549.9 267.9L550.0 267.9L550.1 267.9L550.1 268.0L550.2 268.0L550.3 268.0L550.4 268.0L550.5 268.0L550.6 268.0L550.7 268.0L550.8 268.0L550.9 268.0L551.0 268.0L551.1 268.0L551.2 268.0L551.2 268.1L551.3 268.1L551.4 268.1L551.5 268.1L551.6 268.1L551.7 268.1L551.8 268.1L551.9 268.1L552.0 268.1L552.1 268.1L552.2 268.2L552.3 268.2L552.4 268.2L552.5 268.2L552.6 268.2L552.7 268.2L552.8 268.2L552.9 268.2L553.0 268.3L553.1 268.3L553.2 268.3L553.3 268.3L553.4 268.3L553.5 268.3L553.6 268.3L553.7 268.3L553.8 268.3L553.8 268.4L553.9 268.4L554.0 268.4L554.1 268.4L554.2 268.4L554.3 268.4L554.4 268.4L554.5 268.4L554.6 268.5L554.7 268.5L554.8 268.5L554.9 268.5L555.2 268.5L555.3 268.6L555.5 268.6L555.8 268.6L556.2 268.7L556.5 268.7L556.8 268.8L557.1 268.8L557.4 268.9L557.7 268.9L557.8 269.0L558.1 269.0L558.4 269.1L558.7 269.1L559.0 269.2L559.1 269.2L559.3 269.2L559.6 269.3L560.0 269.4L560.3 269.4L560.6 269.5L560.9 269.6L561.2 269.6L561.5 269.7L561.6 269.7L561.9 269.8L562.2 269.8L562.5 269.9L562.8 270.0L562.9 270.0L563.1 270.0L563.4 270.1L563.8 270.2L564.1 270.3L564.4 270.3L564.7 270.4L565.0 270.5L565.3 270.6L565.4 270.6L565.7 270.7L566.0 270.7L566.3 270.8L566.6 270.9L566.7 270.9L566.9 271.0L567.2 271.1L567.6 271.2L567.9 271.3L568.2 271.3L568.5 271.4L568.8 271.5L569.1 271.6L569.2 271.6L569.5 271.7L569.8 271.8L570.1 271.9L570.4 272.0L570.5 272.0L570.7 272.1L571.0 272.2L571.4 272.3L571.7 272.4L572.0 272.5L572.3 272.6L572.6 272.7L572.9 272.8L573.0 272.8L573.3 272.9L573.6 273.0L574.3 273.3L575.5 273.7L576.8 274.2L578.1 274.6L579.3 275.1L580.6 275.6L581.9 276.2L583.1 276.7L584.4 277.3L585.7 277.8L586.9 278.4L588.2 279.0L589.5 279.6L590.7 280.2L592.0 280.9L593.3 281.5L594.5 282.2L595.8 282.8L597.1 283.5L598.3 284.2L599.6 284.9L600.9 285.6L602.1 286.4L603.4 287.1L604.7 287.8L605.9 288.6L607.2 289.4L608.5 290.2L609.7 290.9L611.0 291.7L612.3 292.5L613.5 293.4L614.8 294.2L616.1 295.0L617.3 295.8L618.6 296.7L619.9 297.5L621.1 298.4L622.4 299.2L623.7 300.1L624.9 301.0L626.2 301.8L627.5 302.7L628.7 303.6L630.0 304.5L631.3 305.4L632.5 306.3L633.8 307.2L635.0 308.1L636.3 309.0L637.6 309.9L638.8 310.8L640.1 311.7L641.4 312.6L642.6 313.5L643.9 314.4L645.2 315.3L646.4 316.2L647.7 317.1L649.0 318.0L650.2 318.9L651.5 319.8L652.8 320.7L654.0 321.6L655.3 322.5L656.6 323.3L657.8 324.2L659.1 325.1L660.4 326.0L661.6 326.8L662.9 327.7L664.2 328.5L665.4 329.4L666.7 330.2L668.0 331.0L669.2 331.9L670.5 332.7L671.8 333.5L673.0 334.3L674.3 335.1L675.6 335.9L676.8 336.6L678.1 337.4"/>
<path class="r" d="M45.0 335.4L45.1 333.8L45.1 332.3L45.2 330.7L45.3 329.2L45.3 327.6L45.4 326.1L45.4 324.5L45.5 322.8L45.6 321.1L45.6 319.4L45.7 317.8L45.8 316.4L45.8 315.3L45.9 314.3L45.9 313.5L46.0 312.7L46.1 312.0L46.1 311.3L46.2 310.7L46.3 310.0L46.3 309.4L46.4 309.0L46.5 308.6L46.5 308.3L46.6 308.1L46.6 307.8L46.7 307.6L46.8 307.5L46.8 307.4L46.9 307.4L47.0 307.4L47.0 307.5L47.1 307.5L47.2 307.6L47.2 307.7L47.3 307.8L47.3 307.9L47.4 308.0L47.5 308.1L47.5 308.2L47.6 308.3L47.7 308.4L47.7 308.5L47.8 308.6L47.9 308.7L48.0 308.8L48.1 308.9L48.2 308.9L48.2 309.0L48.3 309.0L48.4 309.0L48.4 309.1L48.5 309.1L48.6 309.1L48.7 309.1L48.8 309.1L48.9 309.1L49.0 309.1L49.1 309.1L49.2 309.1L49.3 309.1L49.4 309.1L49.5 309.0L49.6 309.0L49.7 309.0L49.8 308.9L49.9 308.9L50.0 308.9L50.1 308.8L50.2 308.8L50.3 308.7L50.4 308.7L50.5 308.6L50.6 308.6L50.7 308.5L50.8 308.5L50.9 308.4L51.0 308.4L51.1 308.3L51.2 308.2L51.3 308.2L51.4 308.1L51.5 308.1L51.6 308.0L51.7 308.0L51.8 307.9L51.9 307.8L52.0 307.8L52.1 307.7L52.2 307.7L52.2 307.6L52.3 307.6L52.4 307.5L52.5 307.5L52.5 307.4L52.6 307.4L52.7 307.3L52.8 307.3L52.9 307.2L53.0 307.1L53.1 307.0L53.2 307.0L53.2 306.9L53.3 306.9L53.4 306.9L53.4 306.8L53.5 306.8L53.5 306.7L53.6 306.7L53.7 306.6L53.8 306.5L53.9 306.5L53.9 306.4L54.0 306.4L54.1 306.4L54.1 306.3L54.2 306.3L54.2 306.2L54.3 306.2L54.4 306.1L54.5 306.0L54.6 306.0L54.7 305.9L54.8 305.8L54.9 305.8L54.9 305.7L55.0 305.7L55.1 305.6L55.2 305.6L55.3 305.5L55.4 305.4L55.5 305.3L55.6 305.3L55.6 305.2L55.7 305.2L55.8 305.2L55.8 305.1L55.9 305.1L56.0 305.0L56.1 304.9L56.2 304.8L56.3 304.8L56.4 304.7L56.5 304.7L56.5 304.6L56.6 304.6L56.6 304.5L56.7 304.5L56.8 304.4L56.9 304.4L57.0 304.3L57.1 304.2L57.2 304.2L57.2 304.1L57.3 304.1L57.3 304.0L57.4 304.0L57.5 304.0L57.5 303.9L57.6 303.9L57.7 303.8L57.7 314.6L57.7 316.7L57.8 318.8L57.9 320.9L57.9 323.0L58.0 325.2L58.0 327.3L58.1 329.5L58.2 331.8L58.2 334.2L58.3 336.5L58.4 338.6L58.4 340.5L58.5 342.1L58.5 343.3L58.6 344.4L58.7 345.4L58.7 346.3L58.8 347.2L58.9 348.1L58.9 348.9L59.0 349.6L59.1 350.2L59.1 350.6L59.2 350.9L59.2 351.2L59.3 351.5L59.4 351.6L59.4 351.7L59.5 351.8L59.6 351.7L59.6 351.6L59.7 351.4L59.8 351.2L59.8 351.0L59.9 350.8L59.9 350.6L60.0 350.4L60.1 350.2L60.1 349.9L60.2 349.7L60.3 349.4L60.3 349.2L60.4 348.9L60.4 348.7L60.5 348.5L60.6 348.3L60.6 348.2L60.7 348.0L60.8 347.8L60.8 347.6L60.9 347.5L61.0 347.3L61.0 347.2L61.1 347.1L61.1 346.9L61.2 346.8L61.3 346.7L61.3 346.6L61.4 346.5L61.5 346.4L61.5 346.3L61.6 346.2L61.7 346.1L61.7 346.0L61.8 345.9L61.8 345.8L61.9 345.8L62.0 345.7L62.0 345.6L62.1 345.5L62.2 345.4L62.3 345.3L62.3 345.2L62.4 345.2L62.5 345.1L62.5 345.0L62.6 345.0L62.7 344.9L62.8 344.8L62.9 344.7L63.0 344.6L63.1 344.5L63.2 344.5L63.2 344.4L63.3 344.4L63.4 344.3L63.5 344.2L63.6 344.1L63.7 344.1L63.7 344.0L63.8 344.0L63.9 343.9L64.0 343.8L64.1 343.8L64.1 343.7L64.2 343.7L64.2 343.6L64.3 343.6L64.4 343.5L64.5 343.4L64.6 343.4L64.7 343.3L64.8 343.3L64.8 343.2L64.9 343.2L64.9 343.1L65.0 343.1L65.1 343.1L65.1 343.0L65.2 343.0L65.3 343.0L65.3 342.9L65.4 342.9L65.4 342.8L65.5 342.8L65.6 342.8L65.6 342.7L65.7 342.7L65.8 342.7L65.8 342.6L65.9 342.6L66.0 342.6L66.0 342.5L66.1 342.5L66.1 342.4L66.2 342.4L66.3 342.4L66.3 342.3L66.4 342.3L66.5 342.3L66.5 342.2L66.6 342.2L66.7 342.1L66.8 342.1L66.8 342.0L66.9 342.0L67.0 342.0L67.0 341.9L67.1 341.9L67.2 341.9L67.2 341.8L67.3 341.8L67.3 341.7L67.4 341.7L67.5 341.7L67.5 341.6L67.6 341.6L67.7 341.6L67.7 341.5L67.8 341.5L67.9 341.4L68.0 341.4L68.0 341.3L68.1 341.3L68.2 341.3L68.2 341.2L68.3 341.2L68.4 341.1L68.5 341.1L68.6 341.0L68.7 341.0L68.7 340.9L68.8 340.9L68.9 340.8L69.0 340.8L69.1 340.7L69.2 340.7L69.2 340.6L69.3 340.6L69.4 340.5L69.5 340.5L69.6 340.4L69.7 340.4L69.8 340.3L69.9 340.2L70.0 340.2L70.1 340.1L70.2 340.0L70.3 340.0L71.6 339.2L72.9 338.4L74.1 337.7L75.4 336.9L76.7 336.1L77.9 335.4L79.2 334.6L80.5 333.9L81.7 333.1L83.0 332.4L84.3 331.7L85.5 330.9L86.8 330.2L88.1 329.5L89.3 328.8L90.6 328.2L91.8 327.5L93.1 326.8L94.4 326.2L95.6 325.6L96.9 324.9L98.2 324.3L99.4 323.7L100.7 323.2L102.0 322.6L103.2 322.0L104.5 321.5L105.8 321.0L107.0 320.5L108.3 320.0L109.6 319.5L110.8 319.0L112.1 318.6L113.4 318.1L114.6 317.7L115.9 317.3L117.2 316.9L118.4 316.6L119.7 316.2L121.0 315.9L122.2 315.6L123.5 315.3L124.8 315.0L125.5 314.8L125.8 314.8L126.0 314.7L126.1 314.7L126.4 314.6L126.7 314.6L127.0 314.5L127.3 314.4L127.4 314.4L127.7 314.4L128.0 314.3L128.3 314.3L128.6 314.2L128.9 314.1L129.3 314.1L129.6 314.0L129.8 314.0L129.9 314.0L130.2 313.9L130.5 313.9L130.8 313.8L131.1 313.8L131.2 313.8L131.5 313.7L131.8 313.7L132.1 313.7L132.4 313.6L132.7 313.6L133.1 313.5L133.4 313.5L133.6 313.5L133.7 313.5L134.0 313.4L134.3 313.4L134.6 313.3L134.9 313.3L135.0 313.3L135.3 313.3L135.6 313.2L135.9 313.2L136.2 313.2L136.5 313.2L136.8 313.1L137.2 313.1L137.4 313.1L137.5 313.1L137.8 313.0L138.1 313.0L138.4 313.0L138.7 313.0L139.1 313.0L139.4 312.9L139.7 312.9L140.0 312.9L140.3 312.9L140.6 312.9L141.0 312.9L141.2 312.9L141.3 312.9L141.6 312.8L141.9 312.8L142.2 312.8L142.5 312.8L142.9 312.8L143.2 312.8L143.5 312.8L143.8 312.8L144.1 312.8L144.4 312.8L144.5 312.8L144.6 312.8L144.7 312.8L144.8 312.8L144.9 312.8L145.0 312.8L145.0 309.8L145.0 309.2L145.1 306.8L145.1 303.8L145.2 300.7L145.3 297.7L145.3 294.7L145.4 291.6L145.5 288.3L145.5 285.0L145.6 281.7L145.6 278.7L145.7 276.0L145.8 273.7L145.8 271.9L145.9 270.3L146.0 268.9L146.0 267.6L146.1 266.3L146.2 265.1L146.2 263.9L146.3 262.8L146.3 262.6L146.3 261.9L146.4 261.3L146.5 260.8L146.5 260.4L146.6 260.0L146.7 259.8L146.7 259.6L146.8 259.5L146.9 259.5L146.9 259.7L147.0 259.9L147.0 260.1L147.1 260.4L147.2 260.6L147.2 260.9L147.3 261.1L147.4 261.4L147.4 261.7L147.5 262.0L147.5 262.3L147.6 262.4L147.6 262.6L147.7 262.9L147.7 263.1L147.8 263.4L147.9 263.6L147.9 263.8L148.0 264.0L148.1 264.3L148.1 264.4L148.2 264.6L148.2 264.8L148.3 265.0L148.4 265.1L148.4 265.2L148.5 265.3L148.6 265.4L148.6 265.6L148.7 265.7L148.8 265.8L148.8 265.9L148.9 266.0L149.0 266.1L149.1 266.2L149.1 266.3L149.2 266.4L149.3 266.4L149.3 266.5L149.4 266.6L149.5 266.7L149.6 266.7L149.6 266.8L149.7 266.8L149.8 266.9L149.9 267.0L150.0 267.0L150.1 267.1L150.2 267.2L150.3 267.2L150.4 267.3L150.5 267.3L150.6 267.4L150.7 267.4L150.8 267.4L150.8 267.5L150.9 267.5L151.0 267.5L151.1 267.6L151.2 267.6L151.3 267.6L151.3 267.7L151.4 267.7L151.5 267.7L151.6 267.8L151.7 267.8L151.8 267.8L151.9 267.8L151.9 267.9L152.0 267.9L152.1 267.9L152.2 267.9L152.3 267.9L152.4 267.9L152.4 268.0L152.5 268.0L152.6 268.0L152.7 268.0L152.8 268.0L152.9 268.0L153.0 268.0L153.1 268.0L153.2 268.0L153.3 268.0L153.4 268.0L153.4 268.1L153.5 268.1L153.6 268.1L153.7 268.1L153.8 268.1L153.9 268.1L154.0 268.1L154.1 268.1L154.2 268.1L154.3 268.1L154.4 268.2L154.5 268.2L154.6 268.2L154.7 268.2L154.8 268.2L154.9 268.2L155.0 268.2L155.1 268.2L155.2 268.2L155.2 268.3L155.3 268.3L155.4 268.3L155.5 268.3L155.6 268.3L155.7 268.3L155.8 268.3L155.9 268.3L156.0 268.3L156.0 268.4L156.1 268.4L156.2 268.4L156.3 268.4L156.4 268.4L156.5 268.4L156.6 268.4L156.7 268.4L156.8 268.5L156.9 268.5L157.0 268.5L157.1 268.5L157.4 268.5L157.7 268.6L158.1 268.6L158.4 268.7L158.7 268.7L159.0 268.8L159.3 268.8L159.6 268.9L160.0 268.9L160.2 269.0L160.3 269.0L160.6 269.1L160.9 269.1L161.2 269.2L161.5 269.2L161.9 269.3L162.2 269.4L162.5 269.4L162.8 269.5L163.1 269.6L163.4 269.6L163.8 269.7L164.0 269.7L164.1 269.8L164.4 269.8L164.7 269.9L165.0 270.0L165.3 270.0L165.7 270.1L166.0 270.2L166.3 270.3L166.6 270.3L166.9 270.4L167.2 270.5L167.6 270.6L167.8 270.6L167.9 270.7L168.2 270.7L168.5 270.8L168.8 270.9L169.1 271.0L169.5 271.1L169.8 271.2L170.1 271.3L170.4 271.3L170.7 271.4L171.0 271.5L171.4 271.6L171.6 271.7L171.7 271.7L172.0 271.8L172.3 271.9L172.6 272.0L172.9 272.1L173.3 272.2L173.6 272.3L173.9 272.4L174.2 272.5L174.5 272.6L174.8 272.7L175.2 272.8L175.4 272.9L175.5 272.9L175.8 273.0L176.7 273.3L178.0 273.8L179.2 274.2L180.5 274.7L181.7 275.2L183.0 275.7L184.3 276.3L185.5 276.8L186.8 277.3L188.1 277.9L189.3 278.5L190.6 279.1L191.9 279.7L193.1 280.3L194.4 281.0L195.7 281.6L196.9 282.3L198.2 282.9L199.5 283.6L200.7 284.3L202.0 285.0L203.3 285.7L204.5 286.5L205.8 287.2L207.1 288.0L208.3 288.7L209.6 289.5L210.9 290.3L212.1 291.1L213.4 291.9L214.7 292.7L215.9 293.5L217.2 294.3L218.5 295.1L219.7 296.0L221.0 296.8L222.3 297.7L223.5 298.5L224.8 299.4L226.1 300.2L227.3 301.1L228.6 302.0L229.9 302.9L231.1 303.7L232.4 304.6L233.7 305.5L234.9 306.4L236.2 307.3L237.5 308.2L238.7 309.1L240.0 310.0L241.3 310.9L242.5 311.8L243.8 312.7L245.1 313.6L246.3 314.5L247.6 315.4L248.9 316.3L250.1 317.2L251.4 318.1L252.7 319.0L253.9 319.9L255.2 320.8L256.5 321.7L257.7 322.6L259.0 323.5L260.3 324.4L261.5 325.2L262.8 326.1L264.1 327.0L265.3 327.8L266.6 328.7L267.9 329.5L269.1 330.3L270.4 331.2L271.6 332.0L272.9 332.8L274.2 333.6L275.4 334.4L276.7 335.2L278.0 336.0L279.2 336.7L280.5 337.5L281.8 338.3L283.0 339.0L284.3 339.7L285.6 340.5L286.8 341.2L288.1 341.9L289.4 342.6L290.6 343.2L291.9 343.9L293.2 344.5L294.4 345.2L295.7 345.8L297.0 346.4L298.2 347.0L299.5 347.6L300.8 348.2L302.0 348.7L303.3 349.3L304.6 349.8L305.8 350.3L307.1 350.8L308.4 351.3L309.6 351.7L310.9 352.2L312.2 352.6L313.4 353.0L314.7 353.5L316.0 353.8L317.2 354.2L318.5 354.6L319.8 354.9L321.0 355.2L322.3 355.5L323.6 355.8L324.3 356.0L324.7 356.0L324.8 356.1L325.0 356.1L325.3 356.2L325.6 356.2L325.9 356.3L326.1 356.3L326.2 356.4L326.6 356.4L326.9 356.5L327.2 356.5L327.4 356.6L327.5 356.6L327.8 356.7L328.1 356.7L328.5 356.8L328.6 356.8L328.8 356.8L329.1 356.9L329.4 356.9L329.7 357.0L329.9 357.0L330.0 357.0L330.4 357.1L330.7 357.1L331.0 357.1L331.2 357.2L331.3 357.2L331.6 357.2L331.9 357.3L332.3 357.3L332.4 357.3L332.6 357.3L332.9 357.4L333.2 357.4L333.5 357.5L333.7 357.5L333.8 357.5L334.2 357.5L334.5 357.6L334.8 357.6L335.0 357.6L335.1 357.6L335.4 357.6L335.7 357.7L336.1 357.7L336.2 357.7L336.4 357.7L336.7 357.8L337.0 357.8L337.3 357.8L337.5 357.8L337.6 357.8L338.0 357.8L338.3 357.9L338.6 357.9L338.8 357.9L338.9 357.9L339.2 357.9L339.5 357.9L339.9 357.9L340.0 357.9L340.2 357.9L340.5 358.0L340.8 358.0L341.1 358.0L341.3 358.0L341.4 358.0L341.8 358.0L342.1 358.0L342.4 358.0L342.6 358.0L342.7 358.0L343.0 358.0L343.3 358.0L343.4 358.0L343.5 358.0L343.6 358.0L343.7 358.0L343.8 358.0L343.9 361.0L344.0 364.0L344.0 367.0L344.1 370.1L344.2 373.1L344.2 376.1L344.3 379.2L344.4 382.5L344.4 385.8L344.5 389.1L344.5 392.1L344.6 394.8L344.7 397.1L344.7 398.9L344.8 400.5L344.9 401.9L344.9 403.2L345.0 404.5L345.1 405.7L345.1 406.5L345.1 406.9L345.2 408.0L345.2 408.9L345.3 409.5L345.4 410.0L345.4 410.4L345.5 410.8L345.6 411.0L345.6 411.2L345.7 411.3L345.8 411.1L345.9 410.9L345.9 410.7L346.0 410.4L346.1 410.2L346.1 409.9L346.2 409.7L346.3 409.4L346.3 409.1L346.4 408.9L346.4 408.8L346.4 408.5L346.5 408.2L346.6 407.9L346.6 407.7L346.7 407.4L346.8 407.2L346.8 407.0L346.9 406.8L347.0 406.5L347.0 406.4L347.1 406.2L347.1 406.0L347.2 405.8L347.3 405.7L347.3 405.6L347.4 405.5L347.5 405.4L347.5 405.2L347.6 405.1L347.6 405.0L347.7 404.9L347.8 404.8L347.9 404.7L348.0 404.6L348.0 404.5L348.1 404.4L348.2 404.4L348.2 404.3L348.3 404.2L348.4 404.1L348.5 404.1L348.5 404.0L348.6 404.0L348.7 403.9L348.8 403.8L348.9 403.8L349.0 403.7L349.1 403.6L349.2 403.6L349.3 403.5L349.4 403.5L349.5 403.4L349.6 403.4L349.7 403.4L349.7 403.3L349.8 403.3L349.9 403.3L350.0 403.2L350.1 403.2L350.2 403.2L350.2 403.1L350.3 403.1L350.4 403.1L350.5 403.0L350.6 403.0L350.7 403.0L350.8 402.9L350.9 402.9L351.0 402.9L351.1 402.9L351.2 402.9L351.3 402.9L351.3 402.8L351.4 402.8L351.5 402.8L351.6 402.8L351.7 402.8L351.8 402.8L351.9 402.8L352.0 402.8L352.1 402.8L352.2 402.8L352.3 402.8L352.3 402.7L352.4 402.7L352.5 402.7L352.6 402.7L352.7 402.7L352.8 402.7L352.9 402.7L353.0 402.7L353.1 402.7L353.2 402.7L353.3 402.6L353.4 402.6L353.5 402.6L353.6 402.6L353.7 402.6L353.8 402.6L353.9 402.6L354.0 402.6L354.1 402.5L354.2 402.5L354.3 402.5L354.4 402.5L354.5 402.5L354.6 402.5L354.7 402.5L354.8 402.5L354.9 402.5L354.9 402.4L355.0 402.4L355.1 402.4L355.2 402.4L355.3 402.4L355.4 402.4L355.5 402.4L355.6 402.4L355.7 402.3L355.8 402.3L355.9 402.3L356.0 402.3L356.3 402.3L356.5 402.2L356.6 402.2L357.0 402.2L357.3 402.1L357.6 402.1L357.8 402.0L357.9 402.0L358.2 402.0L358.5 401.9L358.9 401.9L359.0 401.8L359.2 401.8L359.5 401.7L359.8 401.7L360.1 401.6L360.3 401.6L360.4 401.6L360.8 401.5L361.1 401.4L361.4 401.4L361.6 401.3L361.7 401.3L362.0 401.2L362.3 401.2L362.7 401.1L362.8 401.1L363.0 401.0L363.3 401.0L363.6 400.9L363.9 400.8L364.1 400.8L364.2 400.8L364.6 400.7L364.9 400.6L365.2 400.5L365.3 400.5L365.5 400.5L365.8 400.4L366.1 400.3L366.4 400.2L366.6 400.2L366.8 400.1L367.1 400.1L367.4 400.0L367.7 399.9L367.9 399.8L368.0 399.8L368.3 399.7L368.7 399.6L369.0 399.5L369.1 399.5L369.3 399.5L369.6 399.4L369.9 399.3L370.2 399.2L370.4 399.1L370.6 399.1L370.9 399.0L371.2 398.9L371.5 398.8L371.7 398.7L371.8 398.7L372.1 398.6L372.5 398.5L372.8 398.4L372.9 398.3L373.1 398.3L373.4 398.2L373.7 398.1L374.0 398.0L374.2 397.9L374.4 397.9L374.7 397.8L375.5 397.5L376.7 397.1L378.0 396.6L379.3 396.1L380.5 395.6L381.8 395.1L383.1 394.6L384.3 394.0L385.6 393.5L386.9 392.9L388.1 392.3L389.4 391.8L390.7 391.1L391.9 390.5L393.2 389.9L394.5 389.2L395.7 388.6L397.0 387.9L398.3 387.2L399.5 386.5L400.8 385.8L402.1 385.1L403.3 384.4L404.6 383.6L405.9 382.9L407.1 382.1L408.4 381.4L409.7 380.6L410.9 379.8L412.2 379.0L413.5 378.2L414.7 377.4L416.0 376.6L417.3 375.7L418.5 374.9L419.8 374.1L421.1 373.2L422.3 372.4L423.6 371.5L424.9 370.6L426.1 369.8L427.4 368.9L428.7 368.0L429.9 367.1L431.2 366.2L432.5 365.3L433.7 364.4L435.0 363.6L436.3 362.7L437.5 361.8L438.8 360.9L440.1 360.0L441.3 359.0L442.6 358.1L443.9 357.2L445.1 356.3L446.4 355.4L447.7 354.5L448.9 353.6L450.2 352.7L451.5 351.8L452.7 350.9L454.0 350.0L455.2 349.2L456.5 348.3L457.8 347.4L459.0 346.5L460.3 345.6L461.6 344.8L462.8 343.9L464.1 343.1L465.4 342.2L466.6 341.4L467.9 340.5L469.2 339.7L470.4 338.9L471.7 338.1L473.0 337.3L474.2 336.5L475.5 335.7L476.8 334.9L478.0 334.1L479.3 333.3L480.6 332.6L481.8 331.9L483.1 331.1L484.4 330.4L485.6 329.7L486.9 329.0L488.2 328.3L489.4 327.6L490.7 327.0L492.0 326.3L493.2 325.7L494.5 325.1L495.8 324.4L497.0 323.8L498.3 323.3L499.6 322.7L500.8 322.1L502.1 321.6L503.4 321.1L504.6 320.5L505.9 320.0L507.2 319.6L508.4 319.1L509.7 318.6L511.0 318.2L512.2 317.8L513.5 317.4L514.8 317.0L516.0 316.6L517.3 316.3L518.6 315.9L519.8 315.6L521.1 315.3L522.4 315.0L523.2 314.8L523.6 314.8L523.6 314.7L523.9 314.7L524.2 314.6L524.5 314.6L524.8 314.5L524.9 314.5L525.1 314.4L525.5 314.4L525.8 314.3L526.1 314.3L526.2 314.3L526.4 314.2L526.7 314.1L527.0 314.1L527.4 314.0L527.7 314.0L528.0 313.9L528.3 313.9L528.6 313.8L528.7 313.8L528.9 313.8L529.3 313.7L529.6 313.7L529.9 313.7L530.0 313.6L530.2 313.6L530.5 313.6L530.8 313.5L531.2 313.5L531.5 313.5L531.8 313.4L532.1 313.4L532.4 313.3L532.5 313.3L532.7 313.3L533.1 313.3L533.4 313.2L533.7 313.2L533.8 313.2L534.0 313.2L534.3 313.2L534.6 313.1L535.0 313.1L535.3 313.1L535.6 313.0L535.9 313.0L536.2 313.0L536.3 313.0L536.5 313.0L536.9 313.0L537.2 312.9L537.5 312.9L537.6 312.9L537.8 312.9L538.1 312.9L538.4 312.9L538.8 312.9L539.1 312.9L539.4 312.8L539.7 312.8L540.0 312.8L540.1 312.8L540.3 312.8L540.7 312.8L541.0 312.8L541.3 312.8L541.4 312.8L541.6 312.8L541.9 312.8L542.2 312.8L542.3 312.8L542.4 312.8L542.5 312.8L542.6 312.8L542.7 312.8L542.8 309.8L542.9 306.8L542.9 303.8L543.0 300.7L543.1 297.7L543.1 294.7L543.2 291.6L543.2 288.3L543.3 284.9L543.4 281.7L543.4 278.7L543.5 275.9L543.6 273.7L543.6 271.9L543.7 270.3L543.8 268.9L543.8 267.6L543.9 266.3L543.9 265.1L544.0 263.9L544.1 262.8L544.1 261.9L544.2 261.3L544.3 260.8L544.3 260.4L544.4 260.0L544.5 259.8L544.5 259.6L544.6 259.5L544.7 259.7L544.8 259.9L544.8 260.1L544.9 260.4L545.0 260.6L545.0 260.9L545.1 261.1L545.1 261.4L545.2 261.7L545.3 262.0L545.3 262.3L545.4 262.6L545.5 262.9L545.5 263.1L545.6 263.4L545.7 263.6L545.7 263.8L545.8 264.0L545.8 264.3L545.9 264.4L546.0 264.6L546.0 264.8L546.1 265.0L546.2 265.1L546.2 265.2L546.3 265.3L546.4 265.4L546.4 265.6L546.5 265.7L546.5 265.8L546.6 265.9L546.7 266.0L546.8 266.1L546.9 266.2L546.9 266.3L547.0 266.4L547.1 266.5L547.2 266.6L547.3 266.7L547.4 266.7L547.4 266.8L547.5 266.8L547.6 266.9L547.7 267.0L547.8 267.0L547.9 267.1L548.0 267.2L548.1 267.2L548.2 267.3L548.3 267.3L548.4 267.4L548.5 267.4L548.6 267.4L548.6 267.5L548.7 267.5L548.8 267.5L548.9 267.6L549.0 267.6L549.1 267.6L549.1 267.7L549.2 267.7L549.3 267.7L549.4 267.8L549.5 267.8L549.6 267.8L549.7 267.9L549.8 267.9L549.9 267.9L550.0 267.9L550.1 267.9L550.2 268.0L550.3 268.0L550.4 268.0L550.5 268.0L550.6 268.0L550.7 268.0L550.8 268.0L550.9 268.0L551.0 268.0L551.1 268.0L551.2 268.0L551.2 268.1L551.3 268.1L551.4 268.1L551.5 268.1L551.6 268.1L551.7 268.1L551.8 268.1L551.9 268.1L552.0 268.1L552.1 268.1L552.2 268.2L552.3 268.2L552.4 268.2L552.5 268.2L552.6 268.2L552.7 268.2L552.8 268.2L552.9 268.2L553.0 268.3L553.1 268.3L553.2 268.3L553.3 268.3L553.4 268.3L553.5 268.3L553.6 268.3L553.7 268.3L553.8 268.3L553.8 268.4L553.9 268.4L554.0 268.4L554.1 268.4L554.2 268.4L554.3 268.4L554.4 268.4L554.5 268.4L554.6 268.5L554.7 268.5L554.8 268.5L554.9 268.5L555.2 268.5L555.3 268.6L555.5 268.6L555.8 268.6L556.2 268.7L556.5 268.7L556.8 268.8L557.1 268.8L557.4 268.9L557.7 268.9L557.8 269.0L558.1 269.0L558.4 269.1L558.7 269.1L559.0 269.2L559.1 269.2L559.3 269.2L559.6 269.3L560.0 269.4L560.3 269.4L560.6 269.5L560.9 269.6L561.2 269.6L561.5 269.7L561.6 269.7L561.9 269.8L562.2 269.8L562.5 269.9L562.8 270.0L562.9 270.0L563.1 270.0L563.4 270.1L563.8 270.2L564.1 270.3L564.4 270.3L564.7 270.4L565.0 270.5L565.3 270.6L565.4 270.6L565.7 270.7L566.0 270.7L566.3 270.8L566.6 270.9L566.7 270.9L566.9 271.0L567.2 271.1L567.6 271.2L567.9 271.3L568.2 271.3L568.5 271.4L568.8 271.5L569.1 271.6L569.2 271.6L569.5 271.7L569.8 271.8L570.1 271.9L570.4 272.0L570.5 272.0L570.7 272.1L571.0 272.2L571.4 272.3L571.7 272.4L572.0 272.5L572.3 272.6L572.6 272.7L572.9 272.8L573.0 272.8L573.3 272.9L573.6 273.0L574.3 273.3L575.5 273.7L576.8 274.2L578.1 274.6L579.3 275.1L580.6 275.6L581.9 276.2L583.1 276.7L584.4 277.3L585.7 277.8L586.9 278.4L588.2 279.0L589.5 279.6L590.7 280.2L592.0 280.9L593.3 281.5L594.5 282.2L595.8 282.8L597.1 283.5L598.3 284.2L599.6 284.9L600.9 285.6L602.1 286.4L603.4 287.1L604.7 287.8L605.9 288.6L607.2 289.4L608.5 290.2L609.7 290.9L611.0 291.7L612.3 292.5L613.5 293.4L614.8 294.2L616.1 295.0L617.3 295.8L618.6 296.7L619.9 297.5L621.1 298.4L622.4 299.2L623.7 300.1L624.9 301.0L626.2 301.8L627.5 302.7L628.7 303.6L630.0 304.5L631.3 305.4L632.5 306.3L633.8 307.2L635.0 308.1L636.3 309.0L637.6 309.9L638.8 310.8L640.1 311.7L641.4 312.6L642.6 313.5L643.9 314.4L645.2 315.3L646.4 316.2L647.7 317.1L649.0 318.0L650.2 318.9L651.5 319.8L652.8 320.7L654.0 321.6L655.3 322.5L656.6 323.3L657.8 324.2L659.1 325.1L660.4 326.0L661.6 326.8L662.9 327.7L664.2 328.5L665.4 329.4L666.7 330.2L668.0 331.0L669.2 331.9L670.5 332.7L671.8 333.5L673.0 334.3L674.3 335.1L675.6 335.9L676.8 336.6L678.1 337.4"/>
</g>
<ellipse cx="151.2" cy="267.6" rx="20.7" ry="13.8" fill="none" stroke="#222" stroke-width="0.7"/>
<path d="M165.3 284.7L185.7 312.4" stroke="#111" stroke-width="0.9" fill="none"/>
<path d="M189.3 317.2L178.3 310.4L184.5 310.8L186.0 304.7Z" fill="#000"/>
<rect x="154.0" y="317.4" width="89.9" height="89.5" fill="#fff"/>
<g clip-path="url(#is2)">
<path class="b" d="M115.2 426.9L118.8 426.9L122.5 426.9L124.4 426.9L125.3 426.9L126.1 426.9L126.2 426.9L127.1 426.9L128.0 426.9L128.9 426.9L129.7 426.9L129.8 426.9L130.7 426.9L131.7 426.9L132.6 426.9L133.3 426.9L133.5 426.9L134.4 426.9L135.3 426.9L136.2 426.9L136.9 426.9L137.1 426.9L138.0 426.9L138.9 426.9L139.8 426.9L140.6 426.9L140.7 426.9L141.6 426.9L142.5 426.9L143.4 426.9L144.2 426.9L144.3 426.9L145.2 426.9L146.1 426.9L147.0 426.9L147.8 426.9L147.9 426.9L148.8 426.9L149.8 426.9L150.7 426.9L151.4 426.9L151.6 426.9L152.5 426.9L153.4 426.9L154.3 426.9L155.0 426.9L155.2 426.9L156.1 426.9L157.0 426.9L157.9 426.9L158.7 426.9L158.8 426.9L159.7 426.9L160.6 426.9L161.5 426.9L162.3 426.9L162.4 426.9L163.3 426.9L164.2 426.9L165.1 426.9L165.9 426.9L166.0 426.9L166.9 426.9L167.9 426.9L168.8 426.9L169.5 426.9L169.7 426.9L170.6 426.9L171.5 426.9L172.4 426.9L173.1 426.9L173.3 426.9L174.2 426.9L175.1 426.9L176.0 426.9L176.8 426.9L176.9 426.9L177.8 426.9L178.7 426.9L178.9 426.9L179.1 426.9L179.3 426.9L179.4 426.9L179.6 426.9L179.8 426.9L180.0 426.9L180.2 426.9L180.2 374.8L180.3 374.8L180.4 374.8L180.5 426.9L180.7 426.9L180.9 426.9L181.1 374.8L181.2 374.8L181.4 374.8L181.6 374.8L181.8 374.8L182.0 374.8L182.2 374.8L182.3 374.8L182.5 374.9L182.7 374.9L182.9 374.9L183.1 374.9L183.2 374.9L183.4 374.9L183.6 374.9L183.8 374.9L184.0 374.9L184.1 374.9L184.3 374.9L184.5 374.9L184.7 374.9L184.9 374.9L185.0 374.9L185.2 375.0L185.4 375.0L185.6 375.0L185.8 375.0L186.0 375.0L186.1 375.0L186.3 375.0L186.5 375.0L186.7 375.0L186.9 375.0L187.0 375.1L187.2 375.1L187.4 375.1L187.6 375.1L187.8 375.1L187.9 375.1L188.1 375.1L188.3 375.1L188.5 375.1L188.7 375.2L188.9 375.2L189.0 375.2L189.2 375.2L189.4 375.2L189.6 375.2L189.8 375.2L189.9 375.3L190.1 375.3L190.3 375.3L190.5 375.3L190.7 375.3L190.8 375.3L191.0 375.3L191.2 375.4L191.4 375.4L191.6 375.4L191.7 375.4L191.9 375.4L192.1 375.4L192.3 375.5L192.5 375.5L192.7 375.5L192.8 375.5L193.0 375.5L193.2 375.6L193.4 375.6L193.6 375.6L193.7 375.6L193.9 375.6L194.1 375.7L194.3 375.7L194.5 375.7L194.6 375.7L194.8 375.7L194.9 375.7L195.0 375.8L195.2 375.8L195.4 375.8L195.5 375.8L195.7 375.8L195.9 375.9L196.1 375.9L196.3 375.9L196.5 375.9L196.6 376.0L196.8 376.0L197.0 376.0L197.2 376.0L197.4 376.1L197.5 376.1L197.7 376.1L197.9 376.1L198.1 376.2L198.3 376.2L198.4 376.2L198.5 376.2L198.6 376.2L198.8 376.3L199.0 376.3L199.2 376.3L199.3 376.3L199.5 376.4L199.7 376.4L199.9 376.4L200.1 376.5L200.3 376.5L200.4 376.5L200.6 376.5L200.8 376.6L201.0 376.6L201.2 376.6L201.3 376.7L201.5 376.7L201.7 376.7L201.9 376.7L202.1 376.8L202.2 376.8L202.4 376.8L202.6 376.9L202.8 376.9L203.0 376.9L203.1 377.0L203.3 377.0L203.5 377.0L203.7 377.1L203.9 377.1L204.1 377.1L204.2 377.2L204.4 377.2L204.6 377.2L204.8 377.3L205.0 377.3L205.1 377.3L205.3 377.4L205.5 377.4L205.7 377.4L205.9 377.5L206.0 377.5L206.2 377.5L206.4 377.6L206.6 377.6L206.8 377.6L207.0 377.7L207.1 377.7L207.3 377.8L207.5 377.8L207.7 377.8L207.9 377.9L208.0 377.9L208.2 377.9L208.4 378.0L208.6 378.0L208.8 378.1L208.9 378.1L209.1 378.1L209.3 378.2L209.5 378.2L209.7 378.3L209.8 378.3L210.0 378.3L210.2 378.4L210.4 378.4L210.6 378.5L210.8 378.5L210.9 378.6L211.1 378.6L211.3 378.6L211.5 378.7L211.7 378.7L211.8 378.8L212.0 378.8L212.2 378.9L212.4 378.9L212.6 378.9L212.7 379.0L212.9 379.0L213.0 379.0L213.1 379.1L213.3 379.1L213.5 379.2L213.6 379.2L213.8 379.3L214.0 379.3L214.2 379.3L214.4 379.4L214.6 379.4L214.7 379.5L214.9 379.5L215.8 379.8L216.6 380.0L216.7 380.0L217.6 380.3L218.5 380.5L219.4 380.8L220.2 381.0L220.3 381.1L221.2 381.3L222.2 381.6L223.1 381.9L223.8 382.1L224.0 382.2L224.9 382.5L225.8 382.8L226.7 383.1L227.4 383.4L227.6 383.4L228.5 383.7L229.4 384.0L230.3 384.4L231.1 384.7L231.2 384.7L232.1 385.1L233.0 385.4L233.9 385.8L234.7 386.1L234.8 386.1L235.7 386.5L236.6 386.9L237.5 387.2L238.3 387.5L238.4 387.6L239.3 388.0L240.3 388.4L241.2 388.8L241.9 389.1L242.1 389.2L243.0 389.6L243.9 390.0L244.8 390.4L245.5 390.8L245.7 390.9L246.6 391.3L247.5 391.7L248.4 392.2L249.2 392.6L249.3 392.6L250.2 393.1L251.1 393.5L252.0 394.0L252.8 394.4L252.9 394.5L253.8 395.0L254.7 395.4L255.6 395.9L256.4 396.3L256.5 396.4L257.4 396.9L258.4 397.4L259.3 397.9L260.0 398.4L260.2 398.4L261.1 399.0L262.0 399.5L262.9 400.0L263.6 400.5L263.8 400.5L264.7 401.1L265.6 401.6L266.5 402.2L267.3 402.6L267.4 402.7L268.3 403.3L270.9 404.9L274.5 407.3L278.1 409.7L281.7 412.2L285.4 414.8L289.0 417.5L292.6 420.3L296.2 423.1L299.8 426.0L303.5 426.9L307.1 426.9"/>
<path class="r" d="M115.2 426.9L118.8 426.9L122.5 426.9L124.4 426.9L125.3 426.9L126.1 426.9L126.2 426.9L127.1 426.9L128.0 426.9L128.9 426.9L129.7 426.9L129.8 426.9L130.7 426.9L131.7 426.9L132.6 426.9L133.3 426.9L133.5 426.9L134.4 426.9L135.3 426.9L136.2 426.9L136.9 426.9L137.1 426.9L138.0 426.9L138.9 426.9L139.8 426.9L140.6 426.9L140.7 426.9L141.6 426.9L142.5 426.9L143.4 426.9L144.2 426.9L144.3 426.9L145.2 426.9L146.1 426.9L147.0 426.9L147.8 426.9L147.9 426.9L148.8 426.9L149.8 426.9L150.7 426.9L151.4 426.9L151.6 426.9L152.5 426.9L153.4 426.9L154.3 426.9L155.0 426.9L155.2 426.9L156.1 426.9L157.0 426.9L157.9 426.9L158.7 426.9L158.8 426.9L159.7 426.9L160.6 426.9L161.5 426.9L162.3 426.9L162.4 426.9L163.3 426.9L164.2 426.9L165.1 426.9L165.9 426.9L166.0 426.9L166.9 426.9L167.9 426.9L168.8 426.9L169.5 426.9L169.7 426.9L170.6 426.9L171.5 426.9L172.4 426.9L173.1 426.9L173.3 426.9L174.2 426.9L175.1 426.9L176.0 426.9L176.8 426.9L176.9 426.9L177.8 426.9L178.7 426.9L178.9 426.9L179.1 426.9L179.3 426.9L179.4 426.9L179.6 426.9L179.8 426.9L180.0 426.9L180.2 426.9L180.3 426.9L180.4 426.9L180.5 426.9L180.7 426.9L180.9 426.9L181.1 426.9L181.2 426.9L181.4 426.9L181.6 426.9L181.8 426.9L182.0 426.9L182.2 426.9L182.3 418.7L182.5 406.9L182.7 397.3L182.9 389.0L183.1 381.7L183.2 374.9L183.4 368.2L183.6 361.5L183.8 355.2L184.0 349.5L184.0 348.5L184.1 344.9L184.3 341.7L184.5 339.3L184.7 337.0L184.9 335.1L185.0 333.6L185.2 332.6L185.4 332.2L185.6 332.5L185.8 333.2L186.0 334.2L186.1 335.4L186.3 336.8L186.5 338.1L186.7 339.4L186.9 340.7L187.0 342.2L187.2 343.8L187.4 345.4L187.6 347.0L187.6 347.3L187.8 348.6L187.9 350.1L188.1 351.4L188.3 352.6L188.5 353.8L188.7 355.0L188.9 356.1L189.0 357.2L189.2 358.2L189.4 359.2L189.6 360.1L189.8 360.9L189.9 361.6L190.1 362.2L190.3 362.9L190.5 363.5L190.7 364.0L190.8 364.6L191.0 365.1L191.2 365.6L191.2 365.7L191.4 366.1L191.6 366.6L191.7 367.1L191.9 367.5L192.1 367.9L192.3 368.3L192.5 368.7L192.7 369.0L192.8 369.4L193.0 369.7L193.2 370.0L193.4 370.2L193.6 370.5L193.7 370.8L193.9 371.0L194.1 371.2L194.3 371.5L194.5 371.7L194.6 371.9L194.8 372.1L194.9 372.2L195.0 372.3L195.2 372.5L195.4 372.7L195.5 372.9L195.7 373.1L195.9 373.2L196.1 373.4L196.3 373.6L196.5 373.7L196.6 373.9L196.8 374.0L197.0 374.1L197.2 374.3L197.4 374.4L197.5 374.5L197.7 374.6L197.9 374.8L198.1 374.9L198.3 375.0L198.4 375.1L198.5 375.2L198.6 375.3L198.8 375.4L199.0 375.5L199.2 375.6L199.3 375.7L199.5 375.8L199.7 375.9L199.9 376.0L200.1 376.1L200.3 376.2L200.4 376.3L200.6 376.4L200.8 376.5L201.0 376.5L201.2 376.6L201.3 376.6L201.5 376.7L201.7 376.7L201.9 376.7L202.1 376.8L202.2 376.8L202.4 376.8L202.6 376.9L202.8 376.9L203.0 376.9L203.1 377.0L203.3 377.0L203.5 377.0L203.7 377.1L203.9 377.1L204.1 377.1L204.2 377.2L204.4 377.2L204.6 377.2L204.8 377.3L205.0 377.3L205.1 377.3L205.3 377.4L205.5 377.4L205.7 377.4L205.9 377.5L206.0 377.5L206.2 377.5L206.4 377.6L206.6 377.6L206.8 377.6L207.0 377.7L207.1 377.7L207.3 377.8L207.5 377.8L207.7 377.8L207.9 377.9L208.0 377.9L208.2 377.9L208.4 378.0L208.6 378.0L208.8 378.1L208.9 378.1L209.1 378.1L209.3 378.2L209.5 378.2L209.7 378.3L209.8 378.3L210.0 378.3L210.2 378.4L210.4 378.4L210.6 378.5L210.8 378.5L210.9 378.6L211.1 378.6L211.3 378.6L211.5 378.7L211.7 378.7L211.8 378.8L212.0 378.8L212.2 378.9L212.4 378.9L212.6 378.9L212.7 379.0L212.9 379.0L213.0 379.0L213.1 379.1L213.3 379.1L213.5 379.2L213.6 379.2L213.8 379.3L214.0 379.3L214.2 379.3L214.4 379.4L214.6 379.4L214.7 379.5L214.9 379.5L215.8 379.8L216.6 380.0L216.7 380.0L217.6 380.3L218.5 380.5L219.4 380.8L220.2 381.0L220.3 381.1L221.2 381.3L222.2 381.6L223.1 381.9L223.8 382.1L224.0 382.2L224.9 382.5L225.8 382.8L226.7 383.1L227.4 383.4L227.6 383.4L228.5 383.7L229.4 384.0L230.3 384.4L231.1 384.7L231.2 384.7L232.1 385.1L233.0 385.4L233.9 385.8L234.7 386.1L234.8 386.1L235.7 386.5L236.6 386.9L237.5 387.2L238.3 387.5L238.4 387.6L239.3 388.0L240.3 388.4L241.2 388.8L241.9 389.1L242.1 389.2L243.0 389.6L243.9 390.0L244.8 390.4L245.5 390.8L245.7 390.9L246.6 391.3L247.5 391.7L248.4 392.2L249.2 392.6L249.3 392.6L250.2 393.1L251.1 393.5L252.0 394.0L252.8 394.4L252.9 394.5L253.8 395.0L254.7 395.4L255.6 395.9L256.4 396.3L256.5 396.4L257.4 396.9L258.4 397.4L259.3 397.9L260.0 398.4L260.2 398.4L261.1 399.0L262.0 399.5L262.9 400.0L263.6 400.5L263.8 400.5L264.7 401.1L265.6 401.6L266.5 402.2L267.3 402.6L267.4 402.7L268.3 403.3L270.9 404.9L274.5 407.3L278.1 409.7L281.7 412.2L285.4 414.8L289.0 417.5L292.6 420.3L296.2 423.1L299.8 426.0L303.5 426.9L307.1 426.9"/>
</g>
<rect class="ax" x="154.0" y="317.4" width="89.9" height="89.5"/>
<path class="ax" style="stroke-width:0.9" d="M166.3 317.4v1.3M166.3 406.9v-1.3M184.3 317.4v1.3M184.3 406.9v-1.3M202.4 317.4v1.3M202.4 406.9v-1.3M220.6 317.4v1.3M220.6 406.9v-1.3M238.6 317.4v1.3M238.6 406.9v-1.3M154.0 327.3h1.3M243.9 327.3h-1.3M154.0 351.1h1.3M243.9 351.1h-1.3M154.0 374.8h1.3M243.9 374.8h-1.3M154.0 398.5h1.3M243.9 398.5h-1.3"/>
<text class="tk" x="147.6" y="331.3" text-anchor="end">34</text>
<text class="tk" x="147.6" y="355.1" text-anchor="end">32</text>
<text class="tk" x="147.6" y="378.8" text-anchor="end">30</text>
<text class="tk" x="147.6" y="402.5" text-anchor="end">28</text>
<text class="mono" font-size="13" text-anchor="middle" transform="translate(166.4 424.3) scale(1 0.88)">1.5</text>
<text class="mono" font-size="13" text-anchor="middle" transform="translate(202.7 424.3) scale(1 0.88)">1.7</text>
<text class="mono" font-size="13" text-anchor="middle" transform="translate(239.7 424.3) scale(1 0.88)">1.9</text>
<rect x="297.9" y="245.2" width="195.7" height="53.3" fill="#fff" stroke="#3a3a3a" stroke-width="1.2"/>
<path class="b" d="M301.5 259.9H338"/>
<path class="r" d="M301.5 284.8H338"/>
<text class="mono" font-size="10.83" transform="translate(340.4 263.8) scale(1 0.88)">Actual value of joint 2</text>
<text class="mono" font-size="10.83" transform="translate(340.4 288.0) scale(1 0.88)">Observer value</text>
</g>
<g id="s3">
<clipPath id="cs3"><rect x="43.5" y="480.1" width="636.1" height="181.6"/></clipPath>
<clipPath id="is3"><rect x="154.0" y="552.9" width="89.9" height="89.7"/></clipPath>
<rect class="ax" x="45.0" y="481.1" width="633.1" height="179.6"/>
<path class="ax" d="M108.3 660.7v-6.3M108.3 481.1v6.3M171.6 660.7v-6.3M171.6 481.1v6.3M234.9 660.7v-6.3M234.9 481.1v6.3M298.2 660.7v-6.3M298.2 481.1v6.3M361.6 660.7v-6.3M361.6 481.1v6.3M424.9 660.7v-6.3M424.9 481.1v6.3M488.2 660.7v-6.3M488.2 481.1v6.3M551.5 660.7v-6.3M551.5 481.1v6.3M614.8 660.7v-6.3M614.8 481.1v6.3M45.0 497.6h6.3M678.1 497.6h-6.3M45.0 534.3h6.3M678.1 534.3h-6.3M45.0 571.0h6.3M678.1 571.0h-6.3M45.0 607.7h6.3M678.1 607.7h-6.3M45.0 644.4h6.3M678.1 644.4h-6.3"/>
<text class="tk" x="44.7" y="679.2" text-anchor="middle">0</text>
<text class="tk" x="108.0" y="679.2" text-anchor="middle">1</text>
<text class="tk" x="171.3" y="679.2" text-anchor="middle">2</text>
<text class="tk" x="234.6" y="679.2" text-anchor="middle">3</text>
<text class="tk" x="297.9" y="679.2" text-anchor="middle">4</text>
<text class="tk" x="361.2" y="679.2" text-anchor="middle">5</text>
<text class="tk" x="424.6" y="679.2" text-anchor="middle">6</text>
<text class="tk" x="487.9" y="679.2" text-anchor="middle">7</text>
<text class="tk" x="551.2" y="679.2" text-anchor="middle">8</text>
<text class="tk" x="614.5" y="679.2" text-anchor="middle">9</text>
<text class="tk" x="677.8" y="679.2" text-anchor="middle">10</text>
<text class="tk" x="39.0" y="502.3" text-anchor="end">20</text>
<text class="tk" x="39.0" y="539.0" text-anchor="end">10</text>
<text class="tk" x="39.0" y="575.7" text-anchor="end">0</text>
<text class="tk" x="39.0" y="612.4" text-anchor="end"><tspan class="mn" dy="-1.0">−</tspan><tspan dy="1.0" dx="0.9">10</tspan></text>
<text class="tk" x="39.0" y="649.1" text-anchor="end"><tspan class="mn" dy="-1.0">−</tspan><tspan dy="1.0" dx="0.9">20</tspan></text>
<text class="mono" font-size="13.1" text-anchor="middle" transform="translate(361.5 697.7) scale(1 0.88)">Time/s</text>
<text class="mono" font-size="13.2" text-anchor="middle" transform="translate(10.4 571.8) rotate(-90) scale(1 0.88)">Total disturbance/(N·m)</text>
<g clip-path="url(#cs3)">
<path class="b" d="M45.0 571.0L45.0 534.3L45.1 534.3L45.1 534.2L45.2 534.2L45.3 534.2L45.3 534.1L45.4 534.1L45.5 534.0L45.6 534.0L45.7 533.9L45.8 533.9L45.8 533.8L45.9 533.8L46.0 533.7L46.1 533.7L46.2 533.6L46.3 533.6L46.3 533.5L46.4 533.5L46.5 533.5L46.5 533.4L46.6 533.4L46.7 533.3L46.8 533.3L46.9 533.2L47.0 533.2L47.0 533.1L47.1 533.1L47.2 533.1L47.2 533.0L47.3 533.0L47.4 532.9L47.5 532.9L47.6 532.8L47.7 532.8L47.7 532.7L47.8 532.7L47.9 532.6L48.0 532.6L48.1 532.5L48.2 532.5L48.3 532.4L48.4 532.4L48.4 532.3L48.5 532.3L48.6 532.2L48.7 532.2L48.8 532.1L48.9 532.1L48.9 532.0L49.0 532.0L49.1 532.0L49.1 531.9L49.2 531.9L49.3 531.8L49.4 531.8L49.5 531.7L49.6 531.7L49.6 531.6L49.7 531.6L49.8 531.5L49.9 531.5L50.0 531.4L50.1 531.4L50.2 531.3L50.3 531.3L50.3 531.2L50.4 531.2L50.5 531.1L50.6 531.1L50.7 531.0L50.8 531.0L50.9 530.9L51.0 530.9L51.0 530.8L51.1 530.8L51.2 530.7L51.3 530.7L51.4 530.6L51.5 530.6L51.5 530.5L51.6 530.5L51.7 530.4L51.8 530.4L51.9 530.3L52.0 530.3L52.1 530.2L52.2 530.2L52.2 530.1L52.3 530.1L52.4 530.0L52.5 530.0L52.6 529.9L52.7 529.9L52.8 529.8L52.9 529.8L52.9 529.7L53.0 529.7L53.1 529.6L53.2 529.6L53.3 529.5L53.4 529.5L53.5 529.4L53.6 529.3L53.7 529.3L53.8 529.2L53.9 529.2L54.0 529.1L54.1 529.1L54.2 529.0L54.3 528.9L54.4 528.9L54.5 528.8L54.6 528.8L54.7 528.7L54.8 528.7L54.9 528.6L55.0 528.5L55.1 528.5L55.2 528.4L55.3 528.4L55.4 528.3L55.5 528.3L55.6 528.2L55.7 528.2L55.8 528.1L55.9 528.0L56.0 528.0L56.1 527.9L56.2 527.9L56.3 527.8L56.4 527.8L56.5 527.7L56.6 527.6L56.7 527.6L56.8 527.5L56.9 527.5L57.0 527.4L57.1 527.4L57.2 527.3L57.3 527.2L57.4 527.2L57.5 527.1L57.6 527.1L57.7 527.0L57.7 599.7L57.7 599.6L57.8 599.6L57.9 599.6L57.9 599.5L58.0 599.5L58.1 599.4L58.2 599.4L58.3 599.4L58.4 599.3L58.5 599.3L58.5 599.2L58.6 599.2L58.7 599.2L58.7 599.1L58.8 599.1L58.9 599.1L59.0 599.0L59.1 599.0L59.2 598.9L59.3 598.9L59.4 598.8L59.5 598.8L59.6 598.7L59.7 598.7L59.8 598.7L59.8 598.6L59.9 598.6L60.0 598.5L60.1 598.5L60.2 598.4L60.3 598.4L60.4 598.3L60.5 598.3L60.6 598.2L60.7 598.2L60.8 598.2L60.8 598.1L60.9 598.1L61.0 598.1L61.0 598.0L61.1 598.0L61.2 597.9L61.3 597.9L61.4 597.8L61.5 597.8L61.6 597.7L61.7 597.7L61.8 597.6L61.9 597.6L62.0 597.6L62.0 597.5L62.1 597.5L62.2 597.5L62.2 597.4L62.3 597.4L62.4 597.3L62.5 597.3L62.6 597.2L62.7 597.2L62.8 597.1L62.9 597.1L63.0 597.0L63.1 597.0L63.2 596.9L63.3 596.9L63.4 596.8L63.5 596.8L63.5 596.7L63.6 596.7L63.7 596.7L63.8 596.6L63.9 596.6L64.0 596.5L64.1 596.5L64.2 596.4L64.3 596.4L64.4 596.3L64.5 596.3L64.6 596.2L64.7 596.2L64.8 596.1L64.9 596.1L64.9 596.0L65.0 596.0L65.1 596.0L65.1 595.9L65.2 595.9L65.3 595.9L65.3 595.8L65.4 595.8L65.5 595.7L65.6 595.7L65.7 595.6L65.8 595.6L65.9 595.5L66.0 595.5L66.1 595.4L66.2 595.4L66.3 595.3L66.4 595.3L66.5 595.3L66.5 595.2L66.6 595.2L66.7 595.2L66.7 595.1L66.8 595.1L66.9 595.0L67.0 595.0L67.1 594.9L67.2 594.9L67.3 594.8L67.4 594.8L67.5 594.7L67.6 594.7L67.7 594.6L67.8 594.6L67.9 594.5L68.0 594.5L68.0 594.4L68.1 594.4L68.2 594.4L68.2 594.3L68.3 594.3L68.4 594.3L68.4 594.2L68.5 594.2L68.6 594.2L68.6 594.1L68.7 594.1L68.8 594.0L68.9 594.0L69.0 593.9L69.1 593.9L69.2 593.8L69.3 593.8L69.4 593.7L69.5 593.7L69.6 593.6L69.7 593.6L69.8 593.6L69.8 593.5L69.9 593.5L70.0 593.4L70.1 593.4L70.2 593.3L70.3 593.3L71.6 592.6L72.9 592.0L74.1 591.3L75.4 590.7L76.7 590.0L77.9 589.4L79.2 588.8L80.5 588.2L81.7 587.5L83.0 586.9L84.3 586.3L85.5 585.8L86.8 585.2L88.1 584.6L89.3 584.0L90.6 583.5L91.8 582.9L93.1 582.4L94.4 581.9L95.6 581.4L96.9 580.9L98.2 580.4L99.4 579.9L100.7 579.4L102.0 578.9L103.2 578.5L104.5 578.1L105.8 577.6L107.0 577.2L108.3 576.8L109.6 576.4L110.8 576.0L112.1 575.7L113.4 575.3L114.6 575.0L115.9 574.7L117.2 574.4L118.4 574.1L119.7 573.8L121.0 573.5L122.2 573.2L123.5 573.0L124.8 572.8L125.5 572.6L125.8 572.6L126.0 572.5L126.1 572.5L126.4 572.5L126.7 572.4L127.0 572.4L127.3 572.3L127.4 572.3L127.7 572.3L128.0 572.2L128.3 572.2L128.6 572.1L128.9 572.1L129.3 572.1L129.6 572.0L129.8 572.0L129.9 572.0L130.2 571.9L130.5 571.9L130.8 571.8L131.1 571.8L131.2 571.8L131.5 571.8L131.8 571.7L132.1 571.7L132.4 571.7L132.7 571.6L133.1 571.6L133.4 571.6L133.6 571.5L133.7 571.5L134.0 571.5L134.3 571.5L134.6 571.4L134.9 571.4L135.0 571.4L135.3 571.4L135.6 571.4L135.9 571.3L136.2 571.3L136.5 571.3L136.8 571.3L137.2 571.2L137.4 571.2L137.5 571.2L137.8 571.2L138.1 571.2L138.4 571.2L138.7 571.2L138.7 571.1L139.1 571.1L139.4 571.1L139.7 571.1L140.0 571.1L140.3 571.1L140.6 571.1L141.0 571.1L141.2 571.0L141.3 571.0L141.6 571.0L141.9 571.0L142.2 571.0L142.5 571.0L142.9 571.0L143.2 571.0L143.5 571.0L143.8 571.0L144.1 571.0L144.4 571.0L144.5 571.0L144.6 571.0L144.6 497.6L144.7 497.6L144.8 497.6L144.9 497.6L145.0 497.6L145.1 497.6L145.2 497.6L145.3 497.6L145.4 497.6L145.5 497.6L145.6 497.6L145.7 497.6L145.8 497.6L145.9 497.6L146.0 497.7L146.1 497.7L146.2 497.7L146.3 497.7L146.4 497.7L146.5 497.7L146.6 497.7L146.7 497.7L146.8 497.7L146.9 497.7L147.0 497.7L147.1 497.7L147.2 497.7L147.3 497.7L147.4 497.7L147.5 497.7L147.6 497.7L147.7 497.7L147.8 497.7L147.9 497.7L148.0 497.7L148.1 497.7L148.2 497.7L148.3 497.7L148.4 497.7L148.5 497.7L148.6 497.7L148.7 497.7L148.8 497.7L148.9 497.7L149.0 497.7L149.1 497.7L149.2 497.7L149.3 497.7L149.4 497.8L149.5 497.8L149.6 497.8L149.7 497.8L149.8 497.8L149.9 497.8L150.0 497.8L150.1 497.8L150.2 497.8L150.3 497.8L150.4 497.8L150.5 497.8L150.6 497.8L150.7 497.8L150.8 497.8L150.9 497.8L151.0 497.8L151.1 497.8L151.2 497.8L151.3 497.9L151.4 497.9L151.5 497.9L151.6 497.9L151.7 497.9L151.8 497.9L151.9 497.9L152.0 497.9L152.1 497.9L152.2 497.9L152.3 497.9L152.4 497.9L152.5 497.9L152.6 497.9L152.7 497.9L152.7 498.0L152.8 498.0L152.9 498.0L153.0 498.0L153.1 498.0L153.2 498.0L153.3 498.0L153.4 498.0L153.5 498.0L153.6 498.0L153.7 498.0L153.8 498.0L153.9 498.0L153.9 498.1L154.0 498.1L154.1 498.1L154.2 498.1L154.3 498.1L154.4 498.1L154.5 498.1L154.6 498.1L154.7 498.1L154.8 498.1L154.9 498.1L155.0 498.1L155.0 498.2L155.1 498.2L155.2 498.2L155.3 498.2L155.4 498.2L155.5 498.2L155.6 498.2L155.7 498.2L155.8 498.2L155.9 498.2L156.0 498.2L156.0 498.3L156.1 498.3L156.2 498.3L156.3 498.3L156.4 498.3L156.5 498.3L156.6 498.3L156.7 498.3L156.8 498.3L156.9 498.3L157.0 498.4L157.1 498.4L157.4 498.4L157.7 498.4L158.1 498.5L158.4 498.5L158.7 498.6L159.0 498.6L159.3 498.6L159.6 498.7L160.0 498.7L160.2 498.8L160.3 498.8L160.6 498.8L160.9 498.9L161.2 498.9L161.5 499.0L161.9 499.0L162.2 499.1L162.5 499.1L162.8 499.2L163.1 499.2L163.4 499.3L163.8 499.3L164.0 499.4L164.1 499.4L164.4 499.4L164.7 499.5L165.0 499.6L165.3 499.6L165.7 499.7L166.0 499.7L166.3 499.8L166.6 499.9L166.9 499.9L167.2 500.0L167.6 500.1L167.8 500.1L167.9 500.1L168.2 500.2L168.5 500.3L168.8 500.3L169.1 500.4L169.5 500.5L169.8 500.5L170.1 500.6L170.4 500.7L170.7 500.8L171.0 500.8L171.4 500.9L171.6 501.0L171.7 501.0L172.0 501.1L172.3 501.1L172.6 501.2L172.9 501.3L173.3 501.4L173.6 501.5L173.9 501.5L174.2 501.6L174.5 501.7L174.8 501.8L175.2 501.9L175.4 501.9L175.5 502.0L175.8 502.0L176.7 502.3L178.0 502.7L179.2 503.0L180.5 503.4L181.7 503.8L183.0 504.2L184.3 504.7L185.5 505.1L186.8 505.6L188.1 506.0L189.3 506.5L190.6 507.0L191.9 507.5L193.1 508.0L194.4 508.5L195.7 509.0L196.9 509.5L198.2 510.1L199.5 510.6L200.7 511.2L202.0 511.8L203.3 512.4L204.5 513.0L205.8 513.6L207.1 514.2L208.3 514.8L209.6 515.4L210.9 516.0L212.1 516.7L213.4 517.3L214.7 518.0L215.9 518.6L217.2 519.3L218.5 520.0L219.7 520.7L221.0 521.3L222.3 522.0L223.5 522.7L224.8 523.4L226.1 524.1L227.3 524.8L228.6 525.5L229.9 526.3L231.1 527.0L232.4 527.7L233.7 528.4L234.9 529.1L236.2 529.9L237.5 530.6L238.7 531.3L240.0 532.1L241.3 532.8L242.5 533.5L243.8 534.3L245.1 535.0L246.3 535.7L247.6 536.5L248.9 537.2L250.1 537.9L251.4 538.7L252.7 539.4L253.9 540.1L255.2 540.8L256.5 541.5L257.7 542.3L259.0 543.0L260.3 543.7L261.5 544.4L262.8 545.1L264.1 545.8L265.3 546.5L266.6 547.2L267.9 547.9L269.1 548.6L270.4 549.2L271.6 549.9L272.9 550.6L274.2 551.2L275.4 551.9L276.7 552.5L278.0 553.1L279.2 553.8L280.5 554.4L281.8 555.0L283.0 555.6L284.3 556.2L285.6 556.8L286.8 557.3L288.1 557.9L289.4 558.5L290.6 559.0L291.9 559.5L293.2 560.1L294.4 560.6L295.7 561.1L297.0 561.6L298.2 562.1L299.5 562.6L300.8 563.0L302.0 563.5L303.3 563.9L304.6 564.3L305.8 564.8L307.1 565.2L308.4 565.5L309.6 565.9L310.9 566.3L312.2 566.6L313.4 567.0L314.7 567.3L316.0 567.6L317.2 567.9L318.5 568.2L319.8 568.5L321.0 568.7L322.3 569.0L323.6 569.2L324.3 569.4L324.7 569.4L324.8 569.4L325.0 569.5L325.3 569.5L325.6 569.6L325.9 569.6L326.1 569.6L326.2 569.7L326.6 569.7L326.9 569.8L327.2 569.8L327.4 569.8L327.5 569.9L327.8 569.9L328.1 569.9L328.5 570.0L328.6 570.0L328.8 570.0L329.1 570.1L329.4 570.1L329.7 570.2L329.9 570.2L330.0 570.2L330.4 570.2L330.7 570.3L331.0 570.3L331.2 570.3L331.3 570.3L331.6 570.4L331.9 570.4L332.3 570.4L332.4 570.5L332.6 570.5L332.9 570.5L333.2 570.5L333.5 570.6L333.7 570.6L333.8 570.6L334.2 570.6L334.5 570.6L334.8 570.7L335.0 570.7L335.1 570.7L335.4 570.7L335.7 570.7L336.1 570.8L336.2 570.8L336.4 570.8L336.7 570.8L337.0 570.8L337.3 570.8L337.5 570.8L337.6 570.9L338.0 570.9L338.3 570.9L338.6 570.9L338.8 570.9L338.9 570.9L339.2 570.9L339.5 570.9L339.9 570.9L340.0 570.9L340.2 571.0L340.5 571.0L340.8 571.0L341.1 571.0L341.3 571.0L341.4 571.0L341.8 571.0L342.1 571.0L342.4 571.0L342.6 571.0L342.7 571.0L343.0 571.0L343.3 571.0L343.4 571.0L343.5 571.0L343.5 644.4L343.6 644.4L343.7 644.4L343.8 644.4L343.9 644.4L344.0 644.4L344.1 644.4L344.2 644.4L344.3 644.4L344.4 644.4L344.5 644.4L344.6 644.4L344.7 644.4L344.8 644.4L344.9 644.3L345.0 644.3L345.1 644.3L345.2 644.3L345.3 644.3L345.4 644.3L345.5 644.3L345.6 644.3L345.7 644.3L345.8 644.3L345.9 644.3L346.0 644.3L346.1 644.3L346.2 644.3L346.3 644.3L346.4 644.3L346.5 644.3L346.6 644.3L346.7 644.3L346.8 644.3L346.9 644.3L347.0 644.3L347.1 644.3L347.2 644.3L347.3 644.3L347.4 644.3L347.5 644.3L347.6 644.3L347.7 644.3L347.8 644.3L347.9 644.3L348.0 644.3L348.1 644.3L348.2 644.3L348.3 644.2L348.4 644.2L348.5 644.2L348.6 644.2L348.7 644.2L348.8 644.2L348.9 644.2L349.0 644.2L349.1 644.2L349.2 644.2L349.3 644.2L349.4 644.2L349.5 644.2L349.6 644.2L349.7 644.2L349.8 644.2L349.9 644.2L350.0 644.2L350.1 644.2L350.2 644.1L350.3 644.1L350.4 644.1L350.5 644.1L350.6 644.1L350.7 644.1L350.8 644.1L350.9 644.1L351.0 644.1L351.1 644.1L351.2 644.1L351.3 644.1L351.4 644.1L351.5 644.1L351.6 644.1L351.6 644.0L351.7 644.0L351.8 644.0L351.9 644.0L352.0 644.0L352.1 644.0L352.2 644.0L352.3 644.0L352.4 644.0L352.5 644.0L352.6 644.0L352.7 644.0L352.8 644.0L352.8 643.9L352.9 643.9L353.0 643.9L353.1 643.9L353.2 643.9L353.3 643.9L353.4 643.9L353.5 643.9L353.6 643.9L353.7 643.9L353.8 643.9L353.9 643.9L353.9 643.8L354.0 643.8L354.1 643.8L354.2 643.8L354.3 643.8L354.4 643.8L354.5 643.8L354.6 643.8L354.7 643.8L354.8 643.8L354.9 643.8L354.9 643.7L355.0 643.7L355.1 643.7L355.2 643.7L355.3 643.7L355.4 643.7L355.5 643.7L355.6 643.7L355.7 643.7L355.8 643.7L355.9 643.6L356.0 643.6L356.3 643.6L356.5 643.6L356.6 643.6L357.0 643.5L357.3 643.5L357.6 643.4L357.8 643.4L357.9 643.4L358.2 643.4L358.5 643.3L358.9 643.3L359.0 643.2L359.2 643.2L359.5 643.2L359.8 643.1L360.1 643.1L360.3 643.1L360.4 643.0L360.8 643.0L361.1 642.9L361.4 642.9L361.6 642.9L361.7 642.8L362.0 642.8L362.3 642.7L362.7 642.7L362.8 642.6L363.0 642.6L363.3 642.6L363.6 642.5L363.9 642.4L364.1 642.4L364.2 642.4L364.6 642.3L364.9 642.3L365.2 642.2L365.3 642.2L365.5 642.1L365.8 642.1L366.1 642.0L366.4 641.9L366.6 641.9L366.8 641.9L367.1 641.8L367.4 641.7L367.7 641.7L367.9 641.6L368.0 641.6L368.3 641.5L368.7 641.5L369.0 641.4L369.1 641.4L369.3 641.3L369.6 641.2L369.9 641.2L370.2 641.1L370.4 641.1L370.6 641.0L370.9 640.9L371.2 640.9L371.5 640.8L371.7 640.7L371.8 640.7L372.1 640.6L372.5 640.5L372.8 640.5L372.9 640.4L373.1 640.4L373.4 640.3L373.7 640.2L374.0 640.1L374.2 640.1L374.4 640.0L374.7 640.0L375.5 639.7L376.7 639.4L378.0 639.0L379.3 638.6L380.5 638.2L381.8 637.8L383.1 637.4L384.3 636.9L385.6 636.5L386.9 636.0L388.1 635.6L389.4 635.1L390.7 634.6L391.9 634.1L393.2 633.6L394.5 633.0L395.7 632.5L397.0 632.0L398.3 631.4L399.5 630.8L400.8 630.3L402.1 629.7L403.3 629.1L404.6 628.5L405.9 627.9L407.1 627.3L408.4 626.6L409.7 626.0L410.9 625.4L412.2 624.7L413.5 624.1L414.7 623.4L416.0 622.7L417.3 622.1L418.5 621.4L419.8 620.7L421.1 620.0L422.3 619.3L423.6 618.6L424.9 617.9L426.1 617.2L427.4 616.5L428.7 615.8L429.9 615.1L431.2 614.4L432.5 613.6L433.7 612.9L435.0 612.2L436.3 611.5L437.5 610.7L438.8 610.0L440.1 609.3L441.3 608.5L442.6 607.8L443.9 607.1L445.1 606.3L446.4 605.6L447.7 604.9L448.9 604.1L450.2 603.4L451.5 602.7L452.7 602.0L454.0 601.2L455.2 600.5L456.5 599.8L457.8 599.1L459.0 598.4L460.3 597.7L461.6 597.0L462.8 596.3L464.1 595.6L465.4 594.9L466.6 594.2L467.9 593.5L469.2 592.8L470.4 592.2L471.7 591.5L473.0 590.8L474.2 590.2L475.5 589.6L476.8 588.9L478.0 588.3L479.3 587.7L480.6 587.1L481.8 586.5L483.1 585.9L484.4 585.3L485.6 584.7L486.9 584.1L488.2 583.6L489.4 583.0L490.7 582.5L492.0 582.0L493.2 581.4L494.5 580.9L495.8 580.4L497.0 580.0L498.3 579.5L499.6 579.0L500.8 578.6L502.1 578.1L503.4 577.7L504.6 577.3L505.9 576.9L507.2 576.5L508.4 576.1L509.7 575.7L511.0 575.4L512.2 575.0L513.5 574.7L514.8 574.4L516.0 574.1L517.3 573.8L518.6 573.5L519.8 573.3L521.1 573.0L522.4 572.8L523.2 572.6L523.6 572.6L523.9 572.5L524.2 572.5L524.5 572.4L524.8 572.4L524.9 572.4L525.1 572.3L525.5 572.3L525.8 572.2L526.1 572.2L526.2 572.2L526.4 572.1L526.7 572.1L527.0 572.1L527.4 572.0L527.7 572.0L528.0 571.9L528.3 571.9L528.6 571.8L528.7 571.8L528.9 571.8L529.3 571.8L529.6 571.7L529.9 571.7L530.0 571.7L530.2 571.7L530.5 571.6L530.8 571.6L531.2 571.6L531.5 571.5L531.8 571.5L532.1 571.5L532.4 571.4L532.5 571.4L532.7 571.4L533.1 571.4L533.4 571.4L533.7 571.3L533.8 571.3L534.0 571.3L534.3 571.3L534.6 571.3L535.0 571.2L535.3 571.2L535.6 571.2L535.9 571.2L536.2 571.2L536.3 571.2L536.5 571.1L536.9 571.1L537.2 571.1L537.5 571.1L537.6 571.1L537.8 571.1L538.1 571.1L538.4 571.1L538.8 571.1L539.1 571.0L539.4 571.0L539.7 571.0L540.0 571.0L540.1 571.0L540.3 571.0L540.7 571.0L541.0 571.0L541.3 571.0L541.4 571.0L541.6 571.0L541.9 571.0L542.2 571.0L542.3 571.0L542.4 571.0L542.4 497.6L542.5 497.6L542.6 497.6L542.7 497.6L542.8 497.6L542.9 497.6L543.0 497.6L543.1 497.6L543.2 497.6L543.3 497.6L543.4 497.6L543.5 497.6L543.6 497.6L543.7 497.6L543.8 497.7L543.9 497.7L544.0 497.7L544.1 497.7L544.2 497.7L544.3 497.7L544.4 497.7L544.5 497.7L544.6 497.7L544.7 497.7L544.8 497.7L544.9 497.7L545.0 497.7L545.1 497.7L545.2 497.7L545.3 497.7L545.4 497.7L545.5 497.7L545.6 497.7L545.7 497.7L545.8 497.7L545.9 497.7L546.0 497.7L546.1 497.7L546.2 497.7L546.3 497.7L546.4 497.7L546.5 497.7L546.6 497.7L546.7 497.7L546.8 497.7L546.9 497.7L547.0 497.7L547.1 497.7L547.2 497.8L547.3 497.8L547.4 497.8L547.5 497.8L547.6 497.8L547.7 497.8L547.8 497.8L547.9 497.8L548.0 497.8L548.1 497.8L548.2 497.8L548.3 497.8L548.4 497.8L548.5 497.8L548.6 497.8L548.7 497.8L548.8 497.8L548.9 497.8L549.0 497.8L549.1 497.9L549.2 497.9L549.3 497.9L549.4 497.9L549.5 497.9L549.6 497.9L549.7 497.9L549.8 497.9L549.9 497.9L550.0 497.9L550.1 497.9L550.2 497.9L550.3 497.9L550.4 497.9L550.5 497.9L550.5 498.0L550.6 498.0L550.7 498.0L550.8 498.0L550.9 498.0L551.0 498.0L551.1 498.0L551.2 498.0L551.3 498.0L551.4 498.0L551.5 498.0L551.6 498.0L551.7 498.0L551.7 498.1L551.8 498.1L551.9 498.1L552.0 498.1L552.1 498.1L552.2 498.1L552.3 498.1L552.4 498.1L552.5 498.1L552.6 498.1L552.7 498.1L552.8 498.2L552.9 498.2L553.0 498.2L553.1 498.2L553.2 498.2L553.3 498.2L553.4 498.2L553.5 498.2L553.6 498.2L553.7 498.2L553.8 498.2L553.8 498.3L553.9 498.3L554.0 498.3L554.1 498.3L554.2 498.3L554.3 498.3L554.4 498.3L554.5 498.3L554.6 498.3L554.7 498.3L554.8 498.4L554.9 498.4L555.2 498.4L555.3 498.4L555.5 498.4L555.8 498.5L556.2 498.5L556.5 498.6L556.8 498.6L557.1 498.6L557.4 498.7L557.7 498.7L557.8 498.7L558.1 498.8L558.4 498.8L558.7 498.9L559.0 498.9L559.1 498.9L559.3 499.0L559.6 499.0L560.0 499.1L560.3 499.1L560.6 499.2L560.9 499.2L561.2 499.3L561.5 499.3L561.6 499.3L561.9 499.4L562.2 499.4L562.5 499.5L562.8 499.6L562.9 499.6L563.1 499.6L563.4 499.7L563.8 499.7L564.1 499.8L564.4 499.9L564.7 499.9L565.0 500.0L565.3 500.1L565.4 500.1L565.7 500.1L566.0 500.2L566.3 500.3L566.6 500.3L566.7 500.3L566.9 500.4L567.2 500.5L567.6 500.5L567.9 500.6L568.2 500.7L568.5 500.8L568.8 500.8L569.1 500.9L569.2 500.9L569.5 501.0L569.8 501.1L570.1 501.1L570.4 501.2L570.5 501.2L570.7 501.3L571.0 501.4L571.4 501.5L571.7 501.5L571.7 501.6L572.0 501.6L572.3 501.7L572.6 501.8L572.9 501.9L573.0 501.9L573.3 502.0L573.6 502.0L574.3 502.2L575.5 502.6L576.8 503.0L578.1 503.4L579.3 503.8L580.6 504.2L581.9 504.6L583.1 505.0L584.4 505.5L585.7 505.9L586.9 506.4L588.2 506.9L589.5 507.4L590.7 507.9L592.0 508.4L593.3 508.9L594.5 509.5L595.8 510.0L597.1 510.6L598.3 511.1L599.6 511.7L600.9 512.3L602.1 512.9L603.4 513.5L604.7 514.1L605.9 514.7L607.2 515.3L608.5 515.9L609.7 516.6L611.0 517.2L612.3 517.9L613.5 518.5L614.8 519.2L616.1 519.9L617.3 520.6L618.6 521.2L619.9 521.9L621.1 522.6L622.4 523.3L623.7 524.0L624.9 524.7L626.2 525.4L627.5 526.1L628.7 526.9L630.0 527.6L631.3 528.3L632.5 529.0L633.8 529.8L635.0 530.5L636.3 531.2L637.6 531.9L638.8 532.7L640.1 533.4L641.4 534.1L642.6 534.9L643.9 535.6L645.2 536.3L646.4 537.1L647.7 537.8L649.0 538.5L650.2 539.3L651.5 540.0L652.8 540.7L654.0 541.4L655.3 542.2L656.6 542.9L657.8 543.6L659.1 544.3L660.4 545.0L661.6 545.7L662.9 546.4L664.2 547.1L665.4 547.8L666.7 548.4L668.0 549.1L669.2 549.8L670.5 550.4L671.8 551.1L673.0 551.8L674.3 552.4L675.6 553.0L676.8 553.7L678.1 554.3"/>
<path class="r" d="M45.0 571.0L45.1 566.0L45.1 561.3L45.2 556.8L45.3 552.5L45.3 548.4L45.4 544.4L45.4 540.8L45.5 537.7L45.6 535.1L45.6 532.9L45.7 531.2L45.8 529.6L45.8 528.3L45.9 527.2L45.9 526.4L46.0 526.0L46.1 525.6L46.1 525.3L46.2 525.2L46.3 525.2L46.3 525.4L46.4 525.6L46.5 525.9L46.5 526.2L46.6 526.4L46.6 526.7L46.7 527.1L46.8 527.5L46.8 527.9L46.9 528.3L47.0 528.7L47.0 529.1L47.1 529.4L47.2 529.8L47.2 530.1L47.3 530.5L47.3 530.9L47.4 531.2L47.5 531.6L47.5 531.9L47.6 532.2L47.7 532.4L47.7 532.6L47.8 532.7L47.8 532.8L47.9 532.9L48.0 532.9L48.0 533.0L48.1 533.0L48.2 533.0L48.2 533.1L48.3 533.1L48.4 533.0L48.5 533.0L48.6 533.0L48.7 533.0L48.8 533.0L48.9 532.9L49.0 532.9L49.1 532.8L49.2 532.8L49.2 532.7L49.3 532.7L49.4 532.6L49.5 532.5L49.6 532.5L49.6 532.4L49.7 532.3L49.8 532.2L49.9 532.2L49.9 532.1L50.0 532.0L50.1 532.0L50.1 531.9L50.2 531.9L50.3 531.8L50.4 531.7L50.5 531.6L50.6 531.5L50.7 531.4L50.8 531.4L50.8 531.3L50.9 531.3L51.0 531.2L51.0 531.1L51.1 531.1L51.1 531.0L51.2 531.0L51.3 530.9L51.4 530.8L51.5 530.8L51.5 530.7L51.6 530.7L51.6 530.6L51.7 530.6L51.8 530.5L51.9 530.4L52.0 530.4L52.0 530.3L52.1 530.3L52.2 530.2L52.3 530.1L52.4 530.0L52.5 530.0L52.6 529.9L52.7 529.9L52.8 529.8L52.9 529.8L52.9 529.7L53.0 529.7L53.1 529.6L53.2 529.6L53.3 529.5L53.4 529.5L53.5 529.4L53.6 529.3L53.7 529.3L53.8 529.2L53.9 529.2L54.0 529.1L54.1 529.1L54.2 529.0L54.3 528.9L54.4 528.9L54.5 528.8L54.6 528.8L54.7 528.7L54.8 528.7L54.9 528.6L55.0 528.5L55.1 528.5L55.2 528.4L55.3 528.4L55.4 528.3L55.5 528.3L55.6 528.2L55.7 528.2L55.8 528.1L55.9 528.0L56.0 528.0L56.1 527.9L56.2 527.9L56.3 527.8L56.4 527.8L56.5 527.7L56.6 527.6L56.7 527.6L56.8 527.5L56.9 527.5L57.0 527.4L57.1 527.4L57.2 527.3L57.3 527.2L57.4 527.2L57.5 527.1L57.6 527.1L57.7 527.0L57.7 537.9L57.7 546.2L57.8 554.1L57.9 561.6L57.9 568.7L58.0 575.5L58.0 582.1L58.1 588.2L58.2 593.2L58.2 593.3L58.2 597.4L58.3 601.1L58.4 604.0L58.4 606.4L58.5 608.7L58.5 610.4L58.6 611.6L58.7 612.2L58.7 612.8L58.8 613.2L58.9 613.3L58.9 613.1L59.0 612.8L59.1 612.3L59.1 611.8L59.2 611.2L59.2 610.6L59.3 610.0L59.4 609.4L59.4 608.6L59.5 607.8L59.6 607.1L59.6 606.3L59.7 605.5L59.8 604.8L59.8 604.2L59.9 603.5L59.9 602.7L60.0 602.0L60.1 601.3L60.1 600.7L60.2 600.1L60.3 599.5L60.3 599.0L60.4 598.6L60.4 598.3L60.5 598.1L60.6 597.9L60.6 597.7L60.7 597.5L60.8 597.3L60.8 597.2L60.9 597.1L61.0 597.0L61.0 596.9L61.1 596.8L61.1 596.7L61.2 596.7L61.3 596.6L61.3 596.5L61.4 596.5L61.5 596.4L61.6 596.3L61.7 596.3L61.7 596.2L61.8 596.2L61.9 596.2L62.0 596.1L62.1 596.1L62.2 596.1L62.3 596.1L62.4 596.1L62.5 596.1L62.6 596.1L62.7 596.1L62.8 596.1L62.9 596.1L63.0 596.1L63.1 596.2L63.2 596.2L63.3 596.2L63.4 596.2L63.5 596.2L63.6 596.2L63.7 596.2L63.8 596.2L63.9 596.2L63.9 596.1L64.0 596.1L64.1 596.1L64.2 596.1L64.3 596.1L64.4 596.1L64.5 596.1L64.6 596.1L64.7 596.1L64.8 596.1L64.9 596.0L65.0 596.0L65.1 596.0L65.1 595.9L65.2 595.9L65.3 595.9L65.3 595.8L65.4 595.8L65.5 595.7L65.6 595.7L65.7 595.6L65.8 595.6L65.9 595.5L66.0 595.5L66.1 595.4L66.2 595.4L66.3 595.3L66.4 595.3L66.5 595.3L66.5 595.2L66.6 595.2L66.7 595.2L66.7 595.1L66.8 595.1L66.9 595.0L67.0 595.0L67.1 594.9L67.2 594.9L67.3 594.8L67.4 594.8L67.5 594.7L67.6 594.7L67.7 594.6L67.8 594.6L67.9 594.5L68.0 594.5L68.0 594.4L68.1 594.4L68.2 594.4L68.2 594.3L68.3 594.3L68.4 594.3L68.4 594.2L68.5 594.2L68.6 594.2L68.6 594.1L68.7 594.1L68.8 594.0L68.9 594.0L69.0 593.9L69.1 593.9L69.2 593.8L69.3 593.8L69.4 593.7L69.5 593.7L69.6 593.6L69.7 593.6L69.8 593.6L69.8 593.5L69.9 593.5L70.0 593.4L70.1 593.4L70.2 593.3L70.3 593.3L71.6 592.6L72.9 592.0L74.1 591.3L75.4 590.7L76.7 590.0L77.9 589.4L79.2 588.8L80.5 588.2L81.7 587.5L83.0 586.9L84.3 586.3L85.5 585.8L86.8 585.2L88.1 584.6L89.3 584.0L90.6 583.5L91.8 582.9L93.1 582.4L94.4 581.9L95.6 581.4L96.9 580.9L98.2 580.4L99.4 579.9L100.7 579.4L102.0 578.9L103.2 578.5L104.5 578.1L105.8 577.6L107.0 577.2L108.3 576.8L109.6 576.4L110.8 576.0L112.1 575.7L113.4 575.3L114.6 575.0L115.9 574.7L117.2 574.4L118.4 574.1L119.7 573.8L121.0 573.5L122.2 573.2L123.5 573.0L124.8 572.8L125.5 572.6L125.8 572.6L126.0 572.5L126.1 572.5L126.4 572.5L126.7 572.4L127.0 572.4L127.3 572.3L127.4 572.3L127.7 572.3L128.0 572.2L128.3 572.2L128.6 572.1L128.9 572.1L129.3 572.1L129.6 572.0L129.8 572.0L129.9 572.0L130.2 571.9L130.5 571.9L130.8 571.8L131.1 571.8L131.2 571.8L131.5 571.8L131.8 571.7L132.1 571.7L132.4 571.7L132.7 571.6L133.1 571.6L133.4 571.6L133.6 571.5L133.7 571.5L134.0 571.5L134.3 571.5L134.6 571.4L134.9 571.4L135.0 571.4L135.3 571.4L135.6 571.4L135.9 571.3L136.2 571.3L136.5 571.3L136.8 571.3L137.2 571.2L137.4 571.2L137.5 571.2L137.8 571.2L138.1 571.2L138.4 571.2L138.7 571.2L138.7 571.1L139.1 571.1L139.4 571.1L139.7 571.1L140.0 571.1L140.3 571.1L140.6 571.1L141.0 571.1L141.2 571.0L141.3 571.0L141.6 571.0L141.9 571.0L142.2 571.0L142.5 571.0L142.9 571.0L143.2 571.0L143.5 571.0L143.8 571.0L144.1 571.0L144.4 571.0L144.5 571.0L144.6 571.0L144.7 561.1L144.8 551.7L144.8 542.7L144.9 534.3L145.0 526.2L145.0 526.1L145.0 518.2L145.0 516.7L145.1 511.0L145.1 505.0L145.2 500.0L145.3 495.6L145.3 492.1L145.4 489.2L145.5 486.5L145.5 484.3L145.6 483.0L145.6 482.1L145.7 481.4L145.8 481.0L145.8 480.8L145.9 480.9L146.0 481.3L146.0 481.8L146.1 482.4L146.2 483.1L146.2 483.7L146.3 484.4L146.3 484.5L146.3 485.2L146.4 486.0L146.5 486.9L146.5 487.8L146.6 488.7L146.7 489.5L146.7 490.3L146.8 491.1L146.9 491.9L146.9 492.7L147.0 493.5L147.0 494.3L147.1 495.0L147.2 495.7L147.2 496.4L147.3 496.9L147.4 497.4L147.4 497.7L147.5 497.9L147.5 498.1L147.6 498.2L147.6 498.3L147.7 498.5L147.7 498.7L147.8 498.8L147.9 498.9L147.9 499.0L148.0 499.0L148.1 499.1L148.1 499.2L148.2 499.2L148.2 499.3L148.3 499.3L148.4 499.3L148.4 499.4L148.5 499.4L148.6 499.4L148.7 499.4L148.8 499.4L148.9 499.4L149.0 499.4L149.1 499.3L149.2 499.3L149.3 499.2L149.4 499.2L149.4 499.1L149.5 499.1L149.6 499.0L149.7 499.0L149.8 498.9L149.9 498.9L150.0 498.8L150.1 498.8L150.1 498.7L150.2 498.7L150.3 498.6L150.4 498.6L150.5 498.5L150.6 498.5L150.7 498.4L150.8 498.4L150.8 498.3L150.9 498.3L151.0 498.3L151.1 498.2L151.2 498.2L151.3 498.1L151.4 498.1L151.5 498.0L151.6 498.0L151.7 498.0L151.8 497.9L151.9 497.9L152.0 497.9L152.1 497.9L152.2 497.9L152.3 497.9L152.4 497.9L152.5 497.9L152.6 497.9L152.7 497.9L152.7 498.0L152.8 498.0L152.9 498.0L153.0 498.0L153.1 498.0L153.2 498.0L153.3 498.0L153.4 498.0L153.5 498.0L153.6 498.0L153.7 498.0L153.8 498.0L153.9 498.0L153.9 498.1L154.0 498.1L154.1 498.1L154.2 498.1L154.3 498.1L154.4 498.1L154.5 498.1L154.6 498.1L154.7 498.1L154.8 498.1L154.9 498.1L155.0 498.1L155.0 498.2L155.1 498.2L155.2 498.2L155.3 498.2L155.4 498.2L155.5 498.2L155.6 498.2L155.7 498.2L155.8 498.2L155.9 498.2L156.0 498.2L156.0 498.3L156.1 498.3L156.2 498.3L156.3 498.3L156.4 498.3L156.5 498.3L156.6 498.3L156.7 498.3L156.8 498.3L156.9 498.3L157.0 498.4L157.1 498.4L157.4 498.4L157.7 498.4L158.1 498.5L158.4 498.5L158.7 498.6L159.0 498.6L159.3 498.6L159.6 498.7L160.0 498.7L160.2 498.8L160.3 498.8L160.6 498.8L160.9 498.9L161.2 498.9L161.5 499.0L161.9 499.0L162.2 499.1L162.5 499.1L162.8 499.2L163.1 499.2L163.4 499.3L163.8 499.3L164.0 499.4L164.1 499.4L164.4 499.4L164.7 499.5L165.0 499.6L165.3 499.6L165.7 499.7L166.0 499.7L166.3 499.8L166.6 499.9L166.9 499.9L167.2 500.0L167.6 500.1L167.8 500.1L167.9 500.1L168.2 500.2L168.5 500.3L168.8 500.3L169.1 500.4L169.5 500.5L169.8 500.5L170.1 500.6L170.4 500.7L170.7 500.8L171.0 500.8L171.4 500.9L171.6 501.0L171.7 501.0L172.0 501.1L172.3 501.1L172.6 501.2L172.9 501.3L173.3 501.4L173.6 501.5L173.9 501.5L174.2 501.6L174.5 501.7L174.8 501.8L175.2 501.9L175.4 501.9L175.5 502.0L175.8 502.0L176.7 502.3L178.0 502.7L179.2 503.0L180.5 503.4L181.7 503.8L183.0 504.2L184.3 504.7L185.5 505.1L186.8 505.6L188.1 506.0L189.3 506.5L190.6 507.0L191.9 507.5L193.1 508.0L194.4 508.5L195.7 509.0L196.9 509.5L198.2 510.1L199.5 510.6L200.7 511.2L202.0 511.8L203.3 512.4L204.5 513.0L205.8 513.6L207.1 514.2L208.3 514.8L209.6 515.4L210.9 516.0L212.1 516.7L213.4 517.3L214.7 518.0L215.9 518.6L217.2 519.3L218.5 520.0L219.7 520.7L221.0 521.3L222.3 522.0L223.5 522.7L224.8 523.4L226.1 524.1L227.3 524.8L228.6 525.5L229.9 526.3L231.1 527.0L232.4 527.7L233.7 528.4L234.9 529.1L236.2 529.9L237.5 530.6L238.7 531.3L240.0 532.1L241.3 532.8L242.5 533.5L243.8 534.3L245.1 535.0L246.3 535.7L247.6 536.5L248.9 537.2L250.1 537.9L251.4 538.7L252.7 539.4L253.9 540.1L255.2 540.8L256.5 541.5L257.7 542.3L259.0 543.0L260.3 543.7L261.5 544.4L262.8 545.1L264.1 545.8L265.3 546.5L266.6 547.2L267.9 547.9L269.1 548.6L270.4 549.2L271.6 549.9L272.9 550.6L274.2 551.2L275.4 551.9L276.7 552.5L278.0 553.1L279.2 553.8L280.5 554.4L281.8 555.0L283.0 555.6L284.3 556.2L285.6 556.8L286.8 557.3L288.1 557.9L289.4 558.5L290.6 559.0L291.9 559.5L293.2 560.1L294.4 560.6L295.7 561.1L297.0 561.6L298.2 562.1L299.5 562.6L300.8 563.0L302.0 563.5L303.3 563.9L304.6 564.3L305.8 564.8L307.1 565.2L308.4 565.5L309.6 565.9L310.9 566.3L312.2 566.6L313.4 567.0L314.7 567.3L316.0 567.6L317.2 567.9L318.5 568.2L319.8 568.5L321.0 568.7L322.3 569.0L323.6 569.2L324.3 569.4L324.7 569.4L324.8 569.4L325.0 569.5L325.3 569.5L325.6 569.6L325.9 569.6L326.1 569.6L326.2 569.7L326.6 569.7L326.9 569.8L327.2 569.8L327.4 569.8L327.5 569.9L327.8 569.9L328.1 569.9L328.5 570.0L328.6 570.0L328.8 570.0L329.1 570.1L329.4 570.1L329.7 570.2L329.9 570.2L330.0 570.2L330.4 570.2L330.7 570.3L331.0 570.3L331.2 570.3L331.3 570.3L331.6 570.4L331.9 570.4L332.3 570.4L332.4 570.5L332.6 570.5L332.9 570.5L333.2 570.5L333.5 570.6L333.7 570.6L333.8 570.6L334.2 570.6L334.5 570.6L334.8 570.7L335.0 570.7L335.1 570.7L335.4 570.7L335.7 570.7L336.1 570.8L336.2 570.8L336.4 570.8L336.7 570.8L337.0 570.8L337.3 570.8L337.5 570.8L337.6 570.9L338.0 570.9L338.3 570.9L338.6 570.9L338.8 570.9L338.9 570.9L339.2 570.9L339.5 570.9L339.9 570.9L340.0 570.9L340.2 571.0L340.5 571.0L340.8 571.0L341.1 571.0L341.3 571.0L341.4 571.0L341.8 571.0L342.1 571.0L342.4 571.0L342.6 571.0L342.7 571.0L343.0 571.0L343.3 571.0L343.4 571.0L343.5 571.0L343.6 580.9L343.7 590.3L343.7 599.3L343.8 607.7L343.8 612.7L343.8 615.8L343.8 615.9L343.9 623.8L344.0 631.0L344.0 637.0L344.1 642.0L344.2 646.4L344.2 649.9L344.3 652.8L344.4 655.5L344.4 657.7L344.5 659.0L344.5 659.9L344.6 660.6L344.7 661.0L344.7 661.2L344.8 661.1L344.9 660.7L344.9 660.2L345.0 659.6L345.1 658.9L345.1 658.5L345.1 658.3L345.2 657.6L345.2 656.8L345.3 656.0L345.4 655.1L345.4 654.2L345.5 653.3L345.6 652.5L345.6 651.7L345.7 650.9L345.7 650.1L345.8 649.3L345.9 648.5L345.9 647.7L346.0 647.0L346.1 646.3L346.1 645.6L346.2 645.1L346.3 644.6L346.3 644.3L346.4 644.2L346.4 644.1L346.4 643.9L346.5 643.7L346.6 643.5L346.6 643.3L346.7 643.2L346.8 643.1L346.8 643.0L346.9 643.0L347.0 642.9L347.0 642.8L347.1 642.8L347.1 642.7L347.2 642.7L347.3 642.7L347.3 642.6L347.4 642.6L347.5 642.6L347.6 642.6L347.7 642.6L347.8 642.6L347.9 642.6L348.0 642.7L348.1 642.7L348.2 642.8L348.3 642.8L348.3 642.9L348.4 642.9L348.5 643.0L348.6 643.0L348.7 643.1L348.8 643.1L348.8 643.2L348.9 643.2L349.0 643.2L349.0 643.3L349.1 643.3L349.2 643.4L349.3 643.4L349.4 643.5L349.5 643.5L349.5 643.6L349.6 643.6L349.7 643.6L349.7 643.7L349.8 643.7L349.9 643.7L350.0 643.8L350.1 643.8L350.2 643.9L350.3 643.9L350.4 644.0L350.5 644.0L350.6 644.0L350.7 644.1L350.8 644.1L350.9 644.1L351.0 644.1L351.1 644.1L351.2 644.1L351.3 644.1L351.4 644.1L351.5 644.1L351.6 644.1L351.6 644.0L351.7 644.0L351.8 644.0L351.9 644.0L352.0 644.0L352.1 644.0L352.2 644.0L352.3 644.0L352.4 644.0L352.5 644.0L352.6 644.0L352.7 644.0L352.8 644.0L352.8 643.9L352.9 643.9L353.0 643.9L353.1 643.9L353.2 643.9L353.3 643.9L353.4 643.9L353.5 643.9L353.6 643.9L353.7 643.9L353.8 643.9L353.9 643.9L353.9 643.8L354.0 643.8L354.1 643.8L354.2 643.8L354.3 643.8L354.4 643.8L354.5 643.8L354.6 643.8L354.7 643.8L354.8 643.8L354.9 643.8L354.9 643.7L355.0 643.7L355.1 643.7L355.2 643.7L355.3 643.7L355.4 643.7L355.5 643.7L355.6 643.7L355.7 643.7L355.8 643.7L355.9 643.6L356.0 643.6L356.3 643.6L356.5 643.6L356.6 643.6L357.0 643.5L357.3 643.5L357.6 643.4L357.8 643.4L357.9 643.4L358.2 643.4L358.5 643.3L358.9 643.3L359.0 643.2L359.2 643.2L359.5 643.2L359.8 643.1L360.1 643.1L360.3 643.1L360.4 643.0L360.8 643.0L361.1 642.9L361.4 642.9L361.6 642.9L361.7 642.8L362.0 642.8L362.3 642.7L362.7 642.7L362.8 642.6L363.0 642.6L363.3 642.6L363.6 642.5L363.9 642.4L364.1 642.4L364.2 642.4L364.6 642.3L364.9 642.3L365.2 642.2L365.3 642.2L365.5 642.1L365.8 642.1L366.1 642.0L366.4 641.9L366.6 641.9L366.8 641.9L367.1 641.8L367.4 641.7L367.7 641.7L367.9 641.6L368.0 641.6L368.3 641.5L368.7 641.5L369.0 641.4L369.1 641.4L369.3 641.3L369.6 641.2L369.9 641.2L370.2 641.1L370.4 641.1L370.6 641.0L370.9 640.9L371.2 640.9L371.5 640.8L371.7 640.7L371.8 640.7L372.1 640.6L372.5 640.5L372.8 640.5L372.9 640.4L373.1 640.4L373.4 640.3L373.7 640.2L374.0 640.1L374.2 640.1L374.4 640.0L374.7 640.0L375.5 639.7L376.7 639.4L378.0 639.0L379.3 638.6L380.5 638.2L381.8 637.8L383.1 637.4L384.3 636.9L385.6 636.5L386.9 636.0L388.1 635.6L389.4 635.1L390.7 634.6L391.9 634.1L393.2 633.6L394.5 633.0L395.7 632.5L397.0 632.0L398.3 631.4L399.5 630.8L400.8 630.3L402.1 629.7L403.3 629.1L404.6 628.5L405.9 627.9L407.1 627.3L408.4 626.6L409.7 626.0L410.9 625.4L412.2 624.7L413.5 624.1L414.7 623.4L416.0 622.7L417.3 622.1L418.5 621.4L419.8 620.7L421.1 620.0L422.3 619.3L423.6 618.6L424.9 617.9L426.1 617.2L427.4 616.5L428.7 615.8L429.9 615.1L431.2 614.4L432.5 613.6L433.7 612.9L435.0 612.2L436.3 611.5L437.5 610.7L438.8 610.0L440.1 609.3L441.3 608.5L442.6 607.8L443.9 607.1L445.1 606.3L446.4 605.6L447.7 604.9L448.9 604.1L450.2 603.4L451.5 602.7L452.7 602.0L454.0 601.2L455.2 600.5L456.5 599.8L457.8 599.1L459.0 598.4L460.3 597.7L461.6 597.0L462.8 596.3L464.1 595.6L465.4 594.9L466.6 594.2L467.9 593.5L469.2 592.8L470.4 592.2L471.7 591.5L473.0 590.8L474.2 590.2L475.5 589.6L476.8 588.9L478.0 588.3L479.3 587.7L480.6 587.1L481.8 586.5L483.1 585.9L484.4 585.3L485.6 584.7L486.9 584.1L488.2 583.6L489.4 583.0L490.7 582.5L492.0 582.0L493.2 581.4L494.5 580.9L495.8 580.4L497.0 580.0L498.3 579.5L499.6 579.0L500.8 578.6L502.1 578.1L503.4 577.7L504.6 577.3L505.9 576.9L507.2 576.5L508.4 576.1L509.7 575.7L511.0 575.4L512.2 575.0L513.5 574.7L514.8 574.4L516.0 574.1L517.3 573.8L518.6 573.5L519.8 573.3L521.1 573.0L522.4 572.8L523.2 572.6L523.6 572.6L523.9 572.5L524.2 572.5L524.5 572.4L524.8 572.4L524.9 572.4L525.1 572.3L525.5 572.3L525.8 572.2L526.1 572.2L526.2 572.2L526.4 572.1L526.7 572.1L527.0 572.1L527.4 572.0L527.7 572.0L528.0 571.9L528.3 571.9L528.6 571.8L528.7 571.8L528.9 571.8L529.3 571.8L529.6 571.7L529.9 571.7L530.0 571.7L530.2 571.7L530.5 571.6L530.8 571.6L531.2 571.6L531.5 571.5L531.8 571.5L532.1 571.5L532.4 571.4L532.5 571.4L532.7 571.4L533.1 571.4L533.4 571.4L533.7 571.3L533.8 571.3L534.0 571.3L534.3 571.3L534.6 571.3L535.0 571.2L535.3 571.2L535.6 571.2L535.9 571.2L536.2 571.2L536.3 571.2L536.5 571.1L536.9 571.1L537.2 571.1L537.5 571.1L537.6 571.1L537.8 571.1L538.1 571.1L538.4 571.1L538.8 571.1L539.1 571.0L539.4 571.0L539.7 571.0L540.0 571.0L540.1 571.0L540.3 571.0L540.7 571.0L541.0 571.0L541.3 571.0L541.4 571.0L541.6 571.0L541.9 571.0L542.2 571.0L542.3 571.0L542.4 571.0L542.5 561.1L542.6 551.7L542.6 542.7L542.6 542.6L542.7 534.3L542.7 526.2L542.7 526.1L542.8 518.2L542.9 511.0L542.9 505.0L543.0 499.9L543.1 495.6L543.1 492.1L543.2 489.2L543.2 486.5L543.3 484.3L543.4 483.0L543.4 482.1L543.5 481.4L543.6 481.0L543.6 480.8L543.7 480.9L543.8 481.3L543.8 481.8L543.9 482.4L543.9 483.1L544.0 483.7L544.1 484.4L544.1 485.2L544.2 486.0L544.3 486.9L544.3 487.8L544.4 488.7L544.5 489.5L544.5 490.3L544.6 491.1L544.6 491.9L544.7 492.7L544.8 493.5L544.8 494.3L544.9 495.1L545.0 495.8L545.0 496.4L545.1 496.9L545.1 497.4L545.2 497.7L545.3 497.9L545.3 498.1L545.4 498.3L545.5 498.5L545.5 498.7L545.6 498.8L545.7 498.9L545.7 499.0L545.8 499.0L545.8 499.1L545.9 499.2L546.0 499.2L546.0 499.3L546.1 499.3L546.2 499.3L546.2 499.4L546.3 499.4L546.4 499.4L546.5 499.4L546.6 499.4L546.7 499.4L546.8 499.4L546.9 499.3L547.0 499.3L547.0 499.2L547.1 499.2L547.2 499.2L547.2 499.1L547.3 499.1L547.4 499.0L547.5 499.0L547.6 498.9L547.7 498.9L547.7 498.8L547.8 498.8L547.9 498.8L547.9 498.7L548.0 498.7L548.1 498.6L548.2 498.6L548.3 498.5L548.4 498.5L548.4 498.4L548.5 498.4L548.6 498.4L548.6 498.3L548.7 498.3L548.8 498.3L548.9 498.2L549.0 498.2L549.1 498.1L549.2 498.1L549.3 498.0L549.4 498.0L549.5 498.0L549.6 497.9L549.7 497.9L549.8 497.9L549.9 497.9L550.0 497.9L550.1 497.9L550.2 497.9L550.3 497.9L550.4 497.9L550.5 497.9L550.5 498.0L550.6 498.0L550.7 498.0L550.8 498.0L550.9 498.0L551.0 498.0L551.1 498.0L551.2 498.0L551.3 498.0L551.4 498.0L551.5 498.0L551.6 498.0L551.7 498.0L551.7 498.1L551.8 498.1L551.9 498.1L552.0 498.1L552.1 498.1L552.2 498.1L552.3 498.1L552.4 498.1L552.5 498.1L552.6 498.1L552.7 498.1L552.8 498.2L552.9 498.2L553.0 498.2L553.1 498.2L553.2 498.2L553.3 498.2L553.4 498.2L553.5 498.2L553.6 498.2L553.7 498.2L553.8 498.2L553.8 498.3L553.9 498.3L554.0 498.3L554.1 498.3L554.2 498.3L554.3 498.3L554.4 498.3L554.5 498.3L554.6 498.3L554.7 498.3L554.8 498.4L554.9 498.4L555.2 498.4L555.3 498.4L555.5 498.4L555.8 498.5L556.2 498.5L556.5 498.6L556.8 498.6L557.1 498.6L557.4 498.7L557.7 498.7L557.8 498.7L558.1 498.8L558.4 498.8L558.7 498.9L559.0 498.9L559.1 498.9L559.3 499.0L559.6 499.0L560.0 499.1L560.3 499.1L560.6 499.2L560.9 499.2L561.2 499.3L561.5 499.3L561.6 499.3L561.9 499.4L562.2 499.4L562.5 499.5L562.8 499.6L562.9 499.6L563.1 499.6L563.4 499.7L563.8 499.7L564.1 499.8L564.4 499.9L564.7 499.9L565.0 500.0L565.3 500.1L565.4 500.1L565.7 500.1L566.0 500.2L566.3 500.3L566.6 500.3L566.7 500.3L566.9 500.4L567.2 500.5L567.6 500.5L567.9 500.6L568.2 500.7L568.5 500.8L568.8 500.8L569.1 500.9L569.2 500.9L569.5 501.0L569.8 501.1L570.1 501.1L570.4 501.2L570.5 501.2L570.7 501.3L571.0 501.4L571.4 501.5L571.7 501.5L571.7 501.6L572.0 501.6L572.3 501.7L572.6 501.8L572.9 501.9L573.0 501.9L573.3 502.0L573.6 502.0L574.3 502.2L575.5 502.6L576.8 503.0L578.1 503.4L579.3 503.8L580.6 504.2L581.9 504.6L583.1 505.0L584.4 505.5L585.7 505.9L586.9 506.4L588.2 506.9L589.5 507.4L590.7 507.9L592.0 508.4L593.3 508.9L594.5 509.5L595.8 510.0L597.1 510.6L598.3 511.1L599.6 511.7L600.9 512.3L602.1 512.9L603.4 513.5L604.7 514.1L605.9 514.7L607.2 515.3L608.5 515.9L609.7 516.6L611.0 517.2L612.3 517.9L613.5 518.5L614.8 519.2L616.1 519.9L617.3 520.6L618.6 521.2L619.9 521.9L621.1 522.6L622.4 523.3L623.7 524.0L624.9 524.7L626.2 525.4L627.5 526.1L628.7 526.9L630.0 527.6L631.3 528.3L632.5 529.0L633.8 529.8L635.0 530.5L636.3 531.2L637.6 531.9L638.8 532.7L640.1 533.4L641.4 534.1L642.6 534.9L643.9 535.6L645.2 536.3L646.4 537.1L647.7 537.8L649.0 538.5L650.2 539.3L651.5 540.0L652.8 540.7L654.0 541.4L655.3 542.2L656.6 542.9L657.8 543.6L659.1 544.3L660.4 545.0L661.6 545.7L662.9 546.4L664.2 547.1L665.4 547.8L666.7 548.4L668.0 549.1L669.2 549.8L670.5 550.4L671.8 551.1L673.0 551.8L674.3 552.4L675.6 553.0L676.8 553.7L678.1 554.3"/>
</g>
<ellipse cx="141.5" cy="495.9" rx="24.7" ry="15.3" fill="none" stroke="#222" stroke-width="0.7"/>
<path d="M161.2 516.0L186.0 548.5" stroke="#111" stroke-width="0.9" fill="none"/>
<path d="M189.6 553.3L178.5 546.7L184.8 546.9L186.1 540.8Z" fill="#000"/>
<rect x="154.0" y="552.9" width="89.9" height="89.7" fill="#fff"/>
<g clip-path="url(#is3)">
<path class="b" d="M113.4 662.6L116.6 662.6L119.8 662.6L123.0 662.6L126.2 662.6L129.4 662.6L132.6 662.6L135.8 662.6L139.0 662.6L140.7 662.6L141.5 662.6L142.2 662.6L142.3 662.6L143.1 662.6L143.9 662.6L144.7 662.6L145.4 662.6L145.5 662.6L146.3 662.6L147.1 662.6L147.9 662.6L148.6 662.6L148.7 662.6L149.5 662.6L150.3 662.6L151.1 662.6L151.8 662.6L151.9 662.6L152.7 662.6L153.5 662.6L154.3 662.6L155.0 662.6L155.1 662.6L155.9 662.6L156.7 662.6L157.5 662.6L158.2 662.6L158.3 662.6L159.1 662.6L159.9 662.6L160.7 662.6L161.4 662.6L161.5 662.6L162.3 662.6L163.1 662.6L163.9 662.6L164.6 662.6L164.7 662.6L165.5 662.6L166.3 662.6L167.1 662.6L167.8 662.6L167.9 662.6L168.7 662.6L169.5 662.6L170.3 662.6L171.0 662.6L171.1 662.6L171.9 662.6L172.7 662.6L173.5 662.6L174.2 662.6L174.3 662.6L175.1 662.6L175.9 662.6L176.7 662.6L177.4 662.6L177.5 662.6L178.3 662.6L179.1 662.6L179.9 662.6L180.6 662.6L180.7 662.6L181.5 662.6L182.3 662.6L183.1 662.6L183.8 662.6L183.9 662.6L184.7 662.6L185.5 662.6L186.3 662.6L187.0 662.6L187.1 662.6L187.9 662.6L188.7 662.6L188.9 662.6L189.0 662.6L189.2 662.6L189.2 605.3L189.4 605.3L189.5 605.3L189.7 605.3L189.8 605.3L190.0 605.3L190.2 605.3L190.3 605.3L190.5 605.3L190.6 605.3L190.8 605.3L191.0 605.3L191.1 605.3L191.3 605.3L191.4 605.3L191.6 605.3L191.8 605.3L191.9 605.3L192.1 605.3L192.2 605.3L192.4 605.3L192.6 605.3L192.7 605.3L192.9 605.3L193.0 605.3L193.2 605.3L193.4 605.3L193.5 605.3L193.7 605.3L193.8 605.3L194.0 605.3L194.2 605.3L194.3 605.4L194.5 605.4L194.6 605.4L194.8 605.4L195.0 605.4L195.1 605.4L195.3 605.4L195.4 605.4L195.6 605.4L195.8 605.4L195.9 605.4L196.1 605.4L196.2 605.4L196.4 605.4L196.6 605.4L196.7 605.4L196.9 605.4L197.0 605.4L197.2 605.4L197.4 605.4L197.5 605.4L197.7 605.4L197.8 605.4L198.0 605.4L198.2 605.4L198.3 605.5L198.5 605.5L198.6 605.5L198.8 605.5L199.0 605.5L199.1 605.5L199.3 605.5L199.4 605.5L199.6 605.5L199.8 605.5L199.9 605.5L200.1 605.5L200.2 605.5L200.4 605.5L200.6 605.5L200.7 605.5L200.9 605.5L201.0 605.6L201.2 605.6L201.4 605.6L201.5 605.6L201.7 605.6L201.8 605.6L202.0 605.6L202.2 605.6L202.3 605.6L202.5 605.6L202.6 605.6L202.8 605.6L203.0 605.6L203.1 605.6L203.3 605.7L203.4 605.7L203.6 605.7L203.8 605.7L203.9 605.7L204.1 605.7L204.2 605.7L204.4 605.7L204.6 605.7L204.7 605.7L204.9 605.7L205.0 605.7L205.2 605.8L205.4 605.8L205.5 605.8L205.7 605.8L205.8 605.8L206.0 605.8L206.2 605.8L206.3 605.8L206.5 605.8L206.6 605.8L206.8 605.8L207.0 605.9L207.1 605.9L207.3 605.9L207.4 605.9L207.6 605.9L207.8 605.9L207.9 605.9L208.1 605.9L208.2 605.9L208.4 605.9L208.6 606.0L208.7 606.0L208.9 606.0L209.0 606.0L209.2 606.0L209.4 606.0L209.5 606.0L209.7 606.0L209.8 606.0L210.0 606.1L210.2 606.1L210.3 606.1L210.5 606.1L210.6 606.1L210.8 606.1L211.0 606.1L211.1 606.1L211.3 606.1L211.4 606.2L211.6 606.2L211.8 606.2L211.9 606.2L212.1 606.2L212.2 606.2L212.4 606.2L212.6 606.2L212.7 606.3L212.9 606.3L213.0 606.3L213.2 606.3L213.4 606.3L213.5 606.3L213.7 606.3L213.8 606.3L214.0 606.4L214.2 606.4L214.3 606.4L214.5 606.4L214.6 606.4L214.8 606.4L215.0 606.4L215.1 606.5L215.3 606.5L215.4 606.5L215.6 606.5L215.8 606.5L215.9 606.5L216.1 606.5L216.2 606.6L216.4 606.6L216.6 606.6L216.7 606.6L216.9 606.6L217.0 606.6L217.2 606.6L217.4 606.7L217.5 606.7L217.7 606.7L217.8 606.7L218.0 606.7L218.2 606.7L218.3 606.8L218.5 606.8L218.6 606.8L218.8 606.8L219.0 606.8L219.1 606.8L219.3 606.8L219.4 606.9L219.6 606.9L219.8 606.9L219.9 606.9L220.1 606.9L220.2 606.9L220.4 607.0L220.6 607.0L220.7 607.0L221.5 607.1L222.2 607.2L222.3 607.2L223.1 607.3L223.9 607.3L224.7 607.4L225.4 607.5L225.5 607.5L226.3 607.6L227.1 607.7L227.9 607.8L228.6 607.9L228.7 607.9L229.5 608.0L230.3 608.2L231.1 608.3L231.8 608.4L231.9 608.4L232.7 608.5L233.5 608.6L234.3 608.7L235.0 608.8L235.1 608.8L235.9 609.0L236.7 609.1L237.5 609.2L238.2 609.3L238.3 609.4L239.1 609.5L239.9 609.6L240.7 609.7L241.4 609.9L241.5 609.9L242.3 610.0L243.1 610.2L243.9 610.3L244.6 610.4L244.7 610.5L245.5 610.6L246.3 610.7L247.1 610.9L247.8 611.0L247.9 611.1L248.7 611.2L249.5 611.4L250.3 611.5L251.0 611.7L251.1 611.7L251.9 611.8L252.7 612.0L253.5 612.2L254.2 612.3L254.3 612.3L255.1 612.5L255.9 612.7L256.7 612.9L257.4 613.0L257.5 613.0L258.3 613.2L259.1 613.4L259.9 613.6L260.6 613.7L260.7 613.8L261.5 613.9L262.3 614.1L263.1 614.3L263.8 614.5L263.9 614.5L264.7 614.7L265.5 614.9L266.3 615.1L267.0 615.3L267.1 615.3L267.9 615.5L270.2 616.1L273.4 616.9L276.6 617.8L279.8 618.7L283.0 619.6L286.2 620.6"/>
<path class="r" d="M113.4 662.6L116.6 662.6L119.8 662.6L123.0 662.6L126.2 662.6L129.4 662.6L132.6 662.6L135.8 662.6L139.0 662.6L140.7 662.6L141.5 662.6L142.2 662.6L142.3 662.6L143.1 662.6L143.9 662.6L144.7 662.6L145.4 662.6L145.5 662.6L146.3 662.6L147.1 662.6L147.9 662.6L148.6 662.6L148.7 662.6L149.5 662.6L150.3 662.6L151.1 662.6L151.8 662.6L151.9 662.6L152.7 662.6L153.5 662.6L154.3 662.6L155.0 662.6L155.1 662.6L155.9 662.6L156.7 662.6L157.5 662.6L158.2 662.6L158.3 662.6L159.1 662.6L159.9 662.6L160.7 662.6L161.4 662.6L161.5 662.6L162.3 662.6L163.1 662.6L163.9 662.6L164.6 662.6L164.7 662.6L165.5 662.6L166.3 662.6L167.1 662.6L167.8 662.6L167.9 662.6L168.7 662.6L169.5 662.6L170.3 662.6L171.0 662.6L171.1 662.6L171.9 662.6L172.7 662.6L173.5 662.6L174.2 662.6L174.3 662.6L175.1 662.6L175.9 662.6L176.7 662.6L177.4 662.6L177.5 662.6L178.3 662.6L179.1 662.6L179.9 662.6L180.6 662.6L180.7 662.6L181.5 662.6L182.3 662.6L183.1 662.6L183.8 662.6L183.9 662.6L184.7 662.6L185.5 662.6L186.3 662.6L187.0 662.6L187.1 662.6L187.9 662.6L188.7 662.6L188.9 662.6L189.0 662.6L189.2 662.6L189.4 662.6L189.5 662.6L189.7 662.6L189.8 662.6L190.0 662.6L190.2 653.1L190.2 649.5L190.3 636.4L190.5 622.3L190.6 610.7L190.8 600.6L191.0 592.6L191.1 585.7L191.3 579.5L191.4 574.5L191.6 571.3L191.8 569.4L191.9 567.7L192.1 566.6L192.2 566.2L192.4 566.5L192.6 567.4L192.7 568.6L192.9 570.0L193.0 571.6L193.2 573.0L193.4 574.6L193.4 574.9L193.5 576.4L193.7 578.3L193.8 580.4L194.0 582.5L194.2 584.6L194.3 586.5L194.5 588.4L194.6 590.1L194.8 592.0L195.0 593.8L195.1 595.7L195.3 597.6L195.4 599.3L195.6 600.9L195.8 602.4L195.9 603.6L196.1 604.7L196.2 605.4L196.4 606.0L196.6 606.5L196.6 606.6L196.7 606.9L196.9 607.3L197.0 607.7L197.2 608.0L197.4 608.2L197.5 608.4L197.7 608.5L197.8 608.7L198.0 608.8L198.2 608.9L198.3 609.1L198.5 609.2L198.6 609.3L198.8 609.3L199.0 609.4L199.1 609.4L199.3 609.5L199.4 609.5L199.6 609.5L199.8 609.5L199.9 609.4L200.1 609.4L200.2 609.3L200.4 609.3L200.6 609.2L200.7 609.1L200.9 609.0L201.0 608.9L201.2 608.8L201.4 608.7L201.5 608.6L201.7 608.6L201.8 608.5L202.0 608.4L202.2 608.3L202.3 608.2L202.5 608.2L202.6 608.1L202.8 608.0L203.0 607.9L203.1 607.8L203.3 607.7L203.4 607.6L203.6 607.5L203.8 607.5L203.9 607.4L204.1 607.3L204.2 607.2L204.4 607.1L204.6 607.1L204.7 607.0L204.9 606.9L205.0 606.9L205.2 606.8L205.4 606.7L205.5 606.6L205.7 606.6L205.8 606.5L206.0 606.4L206.2 606.4L206.2 606.3L206.3 606.3L206.5 606.2L206.6 606.2L206.8 606.1L207.0 606.1L207.1 606.0L207.3 606.0L207.4 606.0L207.6 605.9L207.8 605.9L207.9 605.9L208.1 605.9L208.2 605.9L208.4 605.9L208.6 606.0L208.7 606.0L208.9 606.0L209.0 606.0L209.2 606.0L209.4 606.0L209.5 606.0L209.7 606.0L209.8 606.0L210.0 606.1L210.2 606.1L210.3 606.1L210.5 606.1L210.6 606.1L210.8 606.1L211.0 606.1L211.1 606.1L211.3 606.1L211.4 606.2L211.6 606.2L211.8 606.2L211.9 606.2L212.1 606.2L212.2 606.2L212.4 606.2L212.6 606.2L212.7 606.3L212.9 606.3L213.0 606.3L213.2 606.3L213.4 606.3L213.5 606.3L213.7 606.3L213.8 606.3L214.0 606.4L214.2 606.4L214.3 606.4L214.5 606.4L214.6 606.4L214.8 606.4L215.0 606.4L215.1 606.5L215.3 606.5L215.4 606.5L215.6 606.5L215.8 606.5L215.9 606.5L216.1 606.5L216.2 606.6L216.4 606.6L216.6 606.6L216.7 606.6L216.9 606.6L217.0 606.6L217.2 606.6L217.4 606.7L217.5 606.7L217.7 606.7L217.8 606.7L218.0 606.7L218.2 606.7L218.3 606.8L218.5 606.8L218.6 606.8L218.8 606.8L219.0 606.8L219.1 606.8L219.3 606.8L219.4 606.9L219.6 606.9L219.8 606.9L219.9 606.9L220.1 606.9L220.2 606.9L220.4 607.0L220.6 607.0L220.7 607.0L221.5 607.1L222.2 607.2L222.3 607.2L223.1 607.3L223.9 607.3L224.7 607.4L225.4 607.5L225.5 607.5L226.3 607.6L227.1 607.7L227.9 607.8L228.6 607.9L228.7 607.9L229.5 608.0L230.3 608.2L231.1 608.3L231.8 608.4L231.9 608.4L232.7 608.5L233.5 608.6L234.3 608.7L235.0 608.8L235.1 608.8L235.9 609.0L236.7 609.1L237.5 609.2L238.2 609.3L238.3 609.4L239.1 609.5L239.9 609.6L240.7 609.7L241.4 609.9L241.5 609.9L242.3 610.0L243.1 610.2L243.9 610.3L244.6 610.4L244.7 610.5L245.5 610.6L246.3 610.7L247.1 610.9L247.8 611.0L247.9 611.1L248.7 611.2L249.5 611.4L250.3 611.5L251.0 611.7L251.1 611.7L251.9 611.8L252.7 612.0L253.5 612.2L254.2 612.3L254.3 612.3L255.1 612.5L255.9 612.7L256.7 612.9L257.4 613.0L257.5 613.0L258.3 613.2L259.1 613.4L259.9 613.6L260.6 613.7L260.7 613.8L261.5 613.9L262.3 614.1L263.1 614.3L263.8 614.5L263.9 614.5L264.7 614.7L265.5 614.9L266.3 615.1L267.0 615.3L267.1 615.3L267.9 615.5L270.2 616.1L273.4 616.9L276.6 617.8L279.8 618.7L283.0 619.6L286.2 620.6"/>
</g>
<rect class="ax" x="154.0" y="552.9" width="89.9" height="89.7"/>
<path class="ax" style="stroke-width:0.9" d="M161.5 552.9v1.3M161.5 642.6v-1.3M193.4 552.9v1.3M193.4 642.6v-1.3M225.5 552.9v1.3M225.5 642.6v-1.3M154.0 554.3h1.3M243.9 554.3h-1.3M154.0 571.3h1.3M243.9 571.3h-1.3M154.0 588.3h1.3M243.9 588.3h-1.3M154.0 605.3h1.3M243.9 605.3h-1.3M154.0 622.3h1.3M243.9 622.3h-1.3M154.0 639.3h1.3M243.9 639.3h-1.3"/>
<text class="tk" x="147.6" y="558.3" text-anchor="end">26</text>
<text class="tk" x="147.6" y="575.3" text-anchor="end">24</text>
<text class="tk" x="147.6" y="592.3" text-anchor="end">22</text>
<text class="tk" x="147.6" y="609.3" text-anchor="end">20</text>
<text class="tk" x="147.6" y="626.3" text-anchor="end">18</text>
<text class="tk" x="147.6" y="643.3" text-anchor="end">16</text>
<text class="mono" font-size="13" text-anchor="middle" transform="translate(161.9 660.3) scale(1 0.88)">1.4</text>
<text class="mono" font-size="13" text-anchor="middle" transform="translate(193.3 660.3) scale(1 0.88)">1.6</text>
<text class="mono" font-size="13" text-anchor="middle" transform="translate(225.7 660.3) scale(1 0.88)">1.8</text>
<rect x="297.9" y="480.5" width="195.7" height="53.3" fill="#fff" stroke="#3a3a3a" stroke-width="1.2"/>
<path class="b" d="M301.5 495.2H338"/>
<path class="r" d="M301.5 520.1H338"/>
<text class="mono" font-size="10.83" transform="translate(340.4 499.1) scale(1 0.88)">Actual value of joint 3</text>
<text class="mono" font-size="10.83" transform="translate(340.4 523.3) scale(1 0.88)">Observer value</text>
</g>
</svg>
</body></html>
